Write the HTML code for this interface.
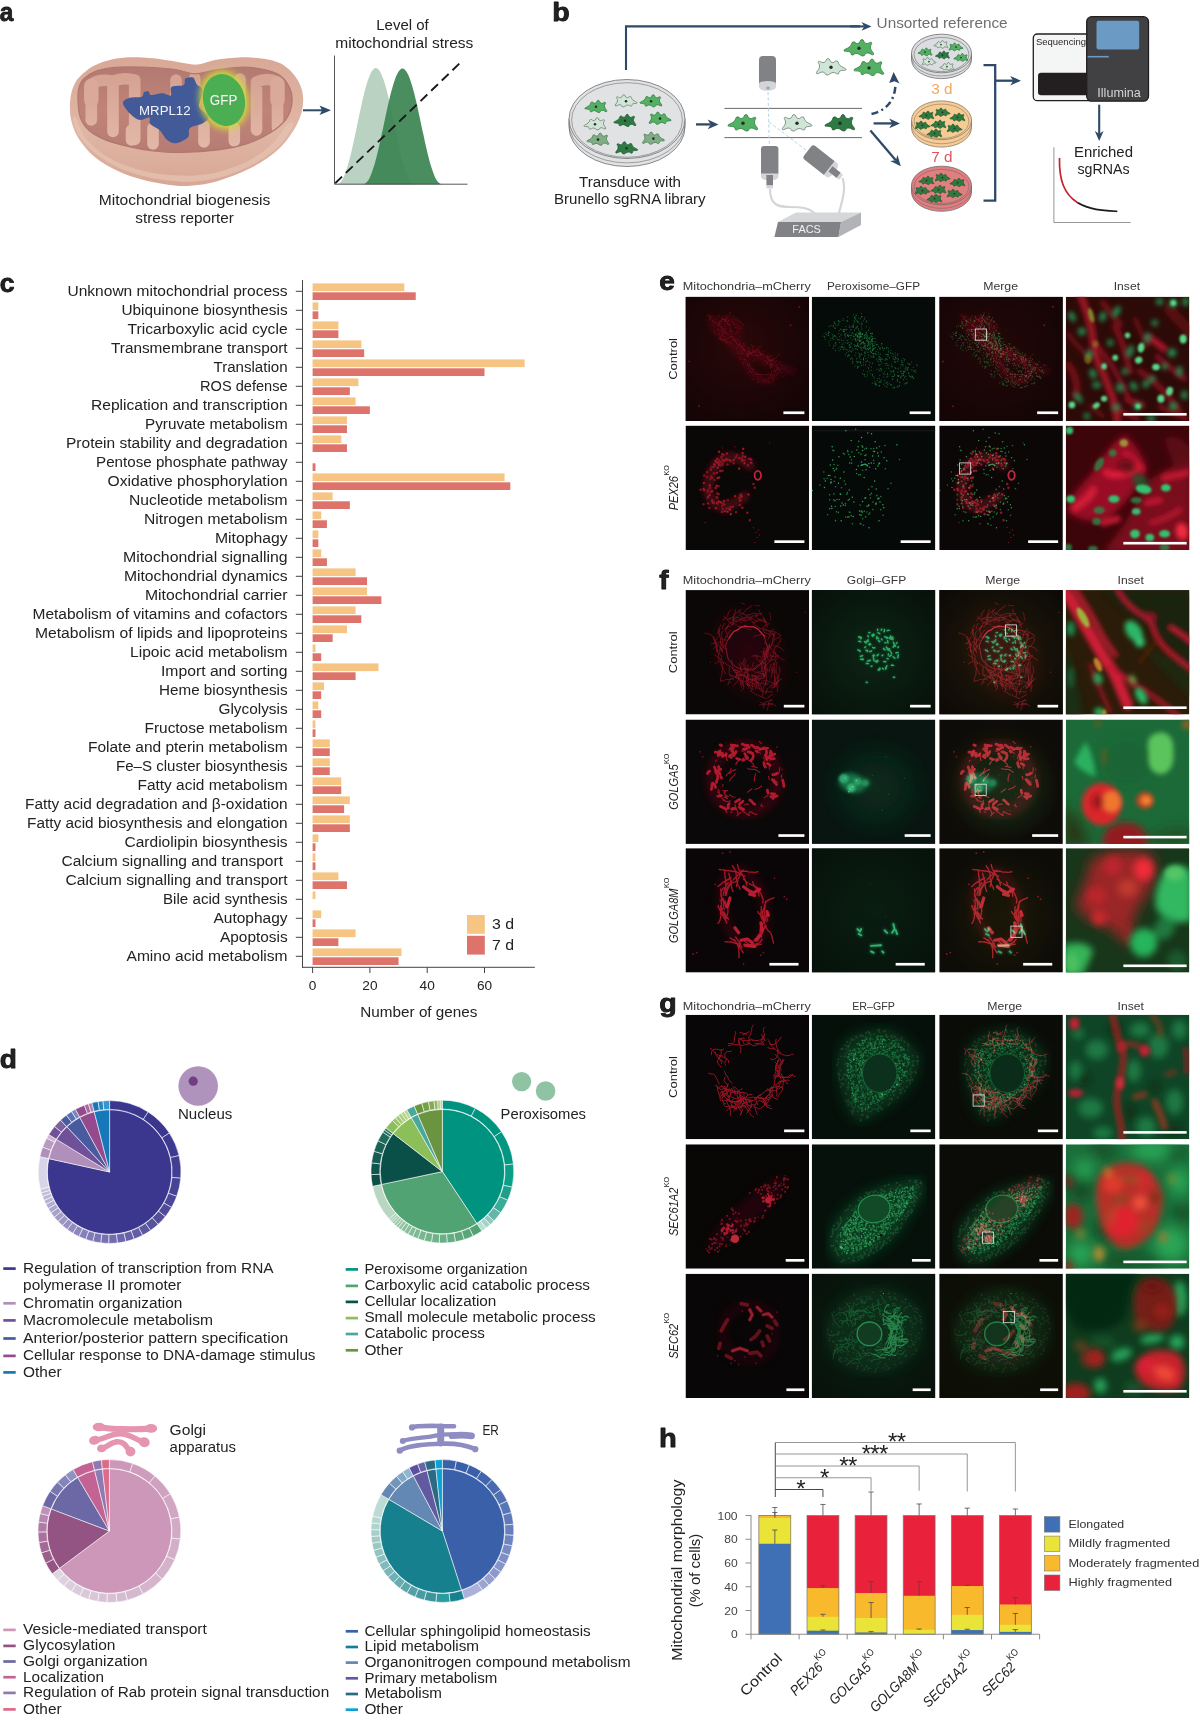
<!DOCTYPE html>
<html><head><meta charset="utf-8"><title>Figure</title>
<style>
html,body{margin:0;padding:0;background:#fff;}
body{width:1200px;height:1720px;overflow:hidden;font-family:"Liberation Sans",sans-serif;}
svg{display:block;}
text{font-family:"Liberation Sans",sans-serif;fill:#222;}
.b{font-weight:bold;fill:#111;}
.i{font-style:italic;}
</style></head><body>
<svg width="1200" height="1720" viewBox="0 0 1200 1720">
<g id="panel-c">
<text transform="translate(-0.3,292) scale(1.02,1)" font-size="26" font-weight="bold" fill="#111" stroke="#111" stroke-width="0.8" stroke-linejoin="round">c</text>
<text x="287.60" y="295.90" font-size="14" textLength="220.1" lengthAdjust="spacingAndGlyphs" text-anchor="end">Unknown mitochondrial process</text>
<line x1="295.80" y1="291.30" x2="302.50" y2="291.30" stroke="#444" stroke-width="1"/>
<rect x="312.60" y="283.40" width="91.68" height="7.70" fill="#f6c483"/>
<rect x="312.60" y="292.30" width="103.14" height="7.70" fill="#dd736b"/>
<text x="287.60" y="314.90" font-size="14" textLength="166.1" lengthAdjust="spacingAndGlyphs" text-anchor="end">Ubiquinone biosynthesis</text>
<line x1="295.80" y1="310.30" x2="302.50" y2="310.30" stroke="#444" stroke-width="1"/>
<rect x="312.60" y="302.40" width="5.73" height="7.70" fill="#f6c483"/>
<rect x="312.60" y="311.30" width="5.73" height="7.70" fill="#dd736b"/>
<text x="287.60" y="333.90" font-size="14" textLength="160.1" lengthAdjust="spacingAndGlyphs" text-anchor="end">Tricarboxylic acid cycle</text>
<line x1="295.80" y1="329.30" x2="302.50" y2="329.30" stroke="#444" stroke-width="1"/>
<rect x="312.60" y="321.40" width="25.79" height="7.70" fill="#f6c483"/>
<rect x="312.60" y="330.30" width="25.79" height="7.70" fill="#dd736b"/>
<text x="287.60" y="352.90" font-size="14" textLength="176.6" lengthAdjust="spacingAndGlyphs" text-anchor="end">Transmembrane transport</text>
<line x1="295.80" y1="348.30" x2="302.50" y2="348.30" stroke="#444" stroke-width="1"/>
<rect x="312.60" y="340.40" width="48.71" height="7.70" fill="#f6c483"/>
<rect x="312.60" y="349.30" width="51.57" height="7.70" fill="#dd736b"/>
<text x="287.60" y="371.90" font-size="14" textLength="74.1" lengthAdjust="spacingAndGlyphs" text-anchor="end">Translation</text>
<line x1="295.80" y1="367.30" x2="302.50" y2="367.30" stroke="#444" stroke-width="1"/>
<rect x="312.60" y="359.40" width="212.01" height="7.70" fill="#f6c483"/>
<rect x="312.60" y="368.30" width="171.90" height="7.70" fill="#dd736b"/>
<text x="287.60" y="390.90" font-size="14" textLength="87.6" lengthAdjust="spacingAndGlyphs" text-anchor="end">ROS defense</text>
<line x1="295.80" y1="386.30" x2="302.50" y2="386.30" stroke="#444" stroke-width="1"/>
<rect x="312.60" y="378.40" width="45.84" height="7.70" fill="#f6c483"/>
<rect x="312.60" y="387.30" width="37.25" height="7.70" fill="#dd736b"/>
<text x="287.60" y="409.90" font-size="14" textLength="196.6" lengthAdjust="spacingAndGlyphs" text-anchor="end">Replication and transcription</text>
<line x1="295.80" y1="405.30" x2="302.50" y2="405.30" stroke="#444" stroke-width="1"/>
<rect x="312.60" y="397.40" width="42.98" height="7.70" fill="#f6c483"/>
<rect x="312.60" y="406.30" width="57.30" height="7.70" fill="#dd736b"/>
<text x="287.60" y="428.90" font-size="14" textLength="142.6" lengthAdjust="spacingAndGlyphs" text-anchor="end">Pyruvate metabolism</text>
<line x1="295.80" y1="424.30" x2="302.50" y2="424.30" stroke="#444" stroke-width="1"/>
<rect x="312.60" y="416.40" width="34.38" height="7.70" fill="#f6c483"/>
<rect x="312.60" y="425.30" width="34.38" height="7.70" fill="#dd736b"/>
<text x="287.60" y="447.90" font-size="14" textLength="221.6" lengthAdjust="spacingAndGlyphs" text-anchor="end">Protein stability and degradation</text>
<line x1="295.80" y1="443.30" x2="302.50" y2="443.30" stroke="#444" stroke-width="1"/>
<rect x="312.60" y="435.40" width="28.65" height="7.70" fill="#f6c483"/>
<rect x="312.60" y="444.30" width="34.38" height="7.70" fill="#dd736b"/>
<text x="287.60" y="466.90" font-size="14" textLength="191.6" lengthAdjust="spacingAndGlyphs" text-anchor="end">Pentose phosphate pathway</text>
<line x1="295.80" y1="462.30" x2="302.50" y2="462.30" stroke="#444" stroke-width="1"/>
<rect x="312.60" y="463.30" width="2.87" height="7.70" fill="#dd736b"/>
<text x="287.60" y="485.90" font-size="14" textLength="180.1" lengthAdjust="spacingAndGlyphs" text-anchor="end">Oxidative phosphorylation</text>
<line x1="295.80" y1="481.30" x2="302.50" y2="481.30" stroke="#444" stroke-width="1"/>
<rect x="312.60" y="473.40" width="191.96" height="7.70" fill="#f6c483"/>
<rect x="312.60" y="482.30" width="197.69" height="7.70" fill="#dd736b"/>
<text x="287.60" y="504.90" font-size="14" textLength="158.6" lengthAdjust="spacingAndGlyphs" text-anchor="end">Nucleotide metabolism</text>
<line x1="295.80" y1="500.30" x2="302.50" y2="500.30" stroke="#444" stroke-width="1"/>
<rect x="312.60" y="492.40" width="20.05" height="7.70" fill="#f6c483"/>
<rect x="312.60" y="501.30" width="37.25" height="7.70" fill="#dd736b"/>
<text x="287.60" y="523.90" font-size="14" textLength="143.6" lengthAdjust="spacingAndGlyphs" text-anchor="end">Nitrogen metabolism</text>
<line x1="295.80" y1="519.30" x2="302.50" y2="519.30" stroke="#444" stroke-width="1"/>
<rect x="312.60" y="511.40" width="8.60" height="7.70" fill="#f6c483"/>
<rect x="312.60" y="520.30" width="14.33" height="7.70" fill="#dd736b"/>
<text x="287.60" y="542.90" font-size="14" textLength="72.6" lengthAdjust="spacingAndGlyphs" text-anchor="end">Mitophagy</text>
<line x1="295.80" y1="538.30" x2="302.50" y2="538.30" stroke="#444" stroke-width="1"/>
<rect x="312.60" y="530.40" width="5.73" height="7.70" fill="#f6c483"/>
<rect x="312.60" y="539.30" width="5.73" height="7.70" fill="#dd736b"/>
<text x="287.60" y="561.90" font-size="14" textLength="164.6" lengthAdjust="spacingAndGlyphs" text-anchor="end">Mitochondrial signalling</text>
<line x1="295.80" y1="557.30" x2="302.50" y2="557.30" stroke="#444" stroke-width="1"/>
<rect x="312.60" y="549.40" width="8.60" height="7.70" fill="#f6c483"/>
<rect x="312.60" y="558.30" width="14.33" height="7.70" fill="#dd736b"/>
<text x="287.60" y="580.90" font-size="14" textLength="163.6" lengthAdjust="spacingAndGlyphs" text-anchor="end">Mitochondrial dynamics</text>
<line x1="295.80" y1="576.30" x2="302.50" y2="576.30" stroke="#444" stroke-width="1"/>
<rect x="312.60" y="568.40" width="42.98" height="7.70" fill="#f6c483"/>
<rect x="312.60" y="577.30" width="54.44" height="7.70" fill="#dd736b"/>
<text x="287.60" y="599.90" font-size="14" textLength="142.6" lengthAdjust="spacingAndGlyphs" text-anchor="end">Mitochondrial carrier</text>
<line x1="295.80" y1="595.30" x2="302.50" y2="595.30" stroke="#444" stroke-width="1"/>
<rect x="312.60" y="587.40" width="54.44" height="7.70" fill="#f6c483"/>
<rect x="312.60" y="596.30" width="68.76" height="7.70" fill="#dd736b"/>
<text x="287.60" y="618.90" font-size="14" textLength="255.1" lengthAdjust="spacingAndGlyphs" text-anchor="end">Metabolism of vitamins and cofactors</text>
<line x1="295.80" y1="614.30" x2="302.50" y2="614.30" stroke="#444" stroke-width="1"/>
<rect x="312.60" y="606.40" width="42.98" height="7.70" fill="#f6c483"/>
<rect x="312.60" y="615.30" width="48.71" height="7.70" fill="#dd736b"/>
<text x="287.60" y="637.90" font-size="14" textLength="252.6" lengthAdjust="spacingAndGlyphs" text-anchor="end">Metabolism of lipids and lipoproteins</text>
<line x1="295.80" y1="633.30" x2="302.50" y2="633.30" stroke="#444" stroke-width="1"/>
<rect x="312.60" y="625.40" width="34.38" height="7.70" fill="#f6c483"/>
<rect x="312.60" y="634.30" width="20.05" height="7.70" fill="#dd736b"/>
<text x="287.60" y="656.90" font-size="14" textLength="157.6" lengthAdjust="spacingAndGlyphs" text-anchor="end">Lipoic acid metabolism</text>
<line x1="295.80" y1="652.30" x2="302.50" y2="652.30" stroke="#444" stroke-width="1"/>
<rect x="312.60" y="644.40" width="2.87" height="7.70" fill="#f6c483"/>
<rect x="312.60" y="653.30" width="8.60" height="7.70" fill="#dd736b"/>
<text x="287.60" y="675.90" font-size="14" textLength="126.6" lengthAdjust="spacingAndGlyphs" text-anchor="end">Import and sorting</text>
<line x1="295.80" y1="671.30" x2="302.50" y2="671.30" stroke="#444" stroke-width="1"/>
<rect x="312.60" y="663.40" width="65.90" height="7.70" fill="#f6c483"/>
<rect x="312.60" y="672.30" width="42.98" height="7.70" fill="#dd736b"/>
<text x="287.60" y="694.90" font-size="14" textLength="128.6" lengthAdjust="spacingAndGlyphs" text-anchor="end">Heme biosynthesis</text>
<line x1="295.80" y1="690.30" x2="302.50" y2="690.30" stroke="#444" stroke-width="1"/>
<rect x="312.60" y="682.40" width="11.46" height="7.70" fill="#f6c483"/>
<rect x="312.60" y="691.30" width="8.60" height="7.70" fill="#dd736b"/>
<text x="287.60" y="713.90" font-size="14" textLength="69.1" lengthAdjust="spacingAndGlyphs" text-anchor="end">Glycolysis</text>
<line x1="295.80" y1="709.30" x2="302.50" y2="709.30" stroke="#444" stroke-width="1"/>
<rect x="312.60" y="701.40" width="5.73" height="7.70" fill="#f6c483"/>
<rect x="312.60" y="710.30" width="8.60" height="7.70" fill="#dd736b"/>
<text x="287.60" y="732.90" font-size="14" textLength="143.1" lengthAdjust="spacingAndGlyphs" text-anchor="end">Fructose metabolism</text>
<line x1="295.80" y1="728.30" x2="302.50" y2="728.30" stroke="#444" stroke-width="1"/>
<rect x="312.60" y="720.40" width="2.87" height="7.70" fill="#f6c483"/>
<rect x="312.60" y="729.30" width="2.87" height="7.70" fill="#dd736b"/>
<text x="287.60" y="751.90" font-size="14" textLength="199.6" lengthAdjust="spacingAndGlyphs" text-anchor="end">Folate and pterin metabolism</text>
<line x1="295.80" y1="747.30" x2="302.50" y2="747.30" stroke="#444" stroke-width="1"/>
<rect x="312.60" y="739.40" width="17.19" height="7.70" fill="#f6c483"/>
<rect x="312.60" y="748.30" width="17.19" height="7.70" fill="#dd736b"/>
<text x="287.60" y="770.90" font-size="14" textLength="171.6" lengthAdjust="spacingAndGlyphs" text-anchor="end">Fe–S cluster biosynthesis</text>
<line x1="295.80" y1="766.30" x2="302.50" y2="766.30" stroke="#444" stroke-width="1"/>
<rect x="312.60" y="758.40" width="17.19" height="7.70" fill="#f6c483"/>
<rect x="312.60" y="767.30" width="17.19" height="7.70" fill="#dd736b"/>
<text x="287.60" y="789.90" font-size="14" textLength="150.1" lengthAdjust="spacingAndGlyphs" text-anchor="end">Fatty acid metabolism</text>
<line x1="295.80" y1="785.30" x2="302.50" y2="785.30" stroke="#444" stroke-width="1"/>
<rect x="312.60" y="777.40" width="28.65" height="7.70" fill="#f6c483"/>
<rect x="312.60" y="786.30" width="28.65" height="7.70" fill="#dd736b"/>
<text x="287.60" y="808.90" font-size="14" textLength="262.6" lengthAdjust="spacingAndGlyphs" text-anchor="end">Fatty acid degradation and β-oxidation</text>
<line x1="295.80" y1="804.30" x2="302.50" y2="804.30" stroke="#444" stroke-width="1"/>
<rect x="312.60" y="796.40" width="37.25" height="7.70" fill="#f6c483"/>
<rect x="312.60" y="805.30" width="31.52" height="7.70" fill="#dd736b"/>
<text x="287.60" y="827.90" font-size="14" textLength="260.6" lengthAdjust="spacingAndGlyphs" text-anchor="end">Fatty acid biosynthesis and elongation</text>
<line x1="295.80" y1="823.30" x2="302.50" y2="823.30" stroke="#444" stroke-width="1"/>
<rect x="312.60" y="815.40" width="37.25" height="7.70" fill="#f6c483"/>
<rect x="312.60" y="824.30" width="37.25" height="7.70" fill="#dd736b"/>
<text x="287.60" y="846.90" font-size="14" textLength="163.1" lengthAdjust="spacingAndGlyphs" text-anchor="end">Cardiolipin biosynthesis</text>
<line x1="295.80" y1="842.30" x2="302.50" y2="842.30" stroke="#444" stroke-width="1"/>
<rect x="312.60" y="834.40" width="5.73" height="7.70" fill="#f6c483"/>
<rect x="312.60" y="843.30" width="2.87" height="7.70" fill="#dd736b"/>
<text x="283.00" y="865.90" font-size="14" textLength="221.5" lengthAdjust="spacingAndGlyphs" text-anchor="end">Calcium signalling and transport</text>
<line x1="295.80" y1="861.30" x2="302.50" y2="861.30" stroke="#444" stroke-width="1"/>
<rect x="312.60" y="853.40" width="2.87" height="7.70" fill="#f6c483"/>
<rect x="312.60" y="862.30" width="2.87" height="7.70" fill="#dd736b"/>
<text x="287.60" y="884.90" font-size="14" textLength="222.1" lengthAdjust="spacingAndGlyphs" text-anchor="end">Calcium signalling and transport</text>
<line x1="295.80" y1="880.30" x2="302.50" y2="880.30" stroke="#444" stroke-width="1"/>
<rect x="312.60" y="872.40" width="25.79" height="7.70" fill="#f6c483"/>
<rect x="312.60" y="881.30" width="34.38" height="7.70" fill="#dd736b"/>
<text x="287.60" y="903.90" font-size="14" textLength="124.6" lengthAdjust="spacingAndGlyphs" text-anchor="end">Bile acid synthesis</text>
<line x1="295.80" y1="899.30" x2="302.50" y2="899.30" stroke="#444" stroke-width="1"/>
<rect x="312.60" y="891.40" width="2.87" height="7.70" fill="#f6c483"/>
<text x="287.60" y="922.90" font-size="14" textLength="74.1" lengthAdjust="spacingAndGlyphs" text-anchor="end">Autophagy</text>
<line x1="295.80" y1="918.30" x2="302.50" y2="918.30" stroke="#444" stroke-width="1"/>
<rect x="312.60" y="910.40" width="8.60" height="7.70" fill="#f6c483"/>
<rect x="312.60" y="919.30" width="2.87" height="7.70" fill="#dd736b"/>
<text x="287.60" y="941.90" font-size="14" textLength="67.6" lengthAdjust="spacingAndGlyphs" text-anchor="end">Apoptosis</text>
<line x1="295.80" y1="937.30" x2="302.50" y2="937.30" stroke="#444" stroke-width="1"/>
<rect x="312.60" y="929.40" width="42.98" height="7.70" fill="#f6c483"/>
<rect x="312.60" y="938.30" width="25.79" height="7.70" fill="#dd736b"/>
<text x="287.60" y="960.90" font-size="14" textLength="161.1" lengthAdjust="spacingAndGlyphs" text-anchor="end">Amino acid metabolism</text>
<line x1="295.80" y1="956.30" x2="302.50" y2="956.30" stroke="#444" stroke-width="1"/>
<rect x="312.60" y="948.40" width="88.82" height="7.70" fill="#f6c483"/>
<rect x="312.60" y="957.30" width="85.95" height="7.70" fill="#dd736b"/>
<line x1="302.50" y1="280.00" x2="302.50" y2="967.80" stroke="#444" stroke-width="1"/>
<line x1="302.00" y1="967.30" x2="534.80" y2="967.30" stroke="#444" stroke-width="1"/>
<line x1="312.60" y1="967.30" x2="312.60" y2="973.00" stroke="#444" stroke-width="1"/>
<text transform="translate(312.60,990.30) scale(1.095,1)" font-size="12.5" text-anchor="middle">0</text>
<line x1="369.90" y1="967.30" x2="369.90" y2="973.00" stroke="#444" stroke-width="1"/>
<text transform="translate(369.90,990.30) scale(1.095,1)" font-size="12.5" text-anchor="middle">20</text>
<line x1="427.20" y1="967.30" x2="427.20" y2="973.00" stroke="#444" stroke-width="1"/>
<text transform="translate(427.20,990.30) scale(1.095,1)" font-size="12.5" text-anchor="middle">40</text>
<line x1="484.50" y1="967.30" x2="484.50" y2="973.00" stroke="#444" stroke-width="1"/>
<text transform="translate(484.50,990.30) scale(1.095,1)" font-size="12.5" text-anchor="middle">60</text>
<text x="418.90" y="1017.00" font-size="14.5" textLength="117.1" lengthAdjust="spacingAndGlyphs" text-anchor="middle">Number of genes</text>
<rect x="467.00" y="915.00" width="17.80" height="18.80" fill="#f6c483"/>
<rect x="467.00" y="935.80" width="17.80" height="18.80" fill="#dd736b"/>
<text transform="translate(492.00,929.30) scale(1.095,1)" font-size="14.5">3 d</text>
<text transform="translate(492.00,950.30) scale(1.095,1)" font-size="14.5">7 d</text>
</g>
<g id="panel-a">
<text transform="translate(-0.3,21.3) scale(0.94,1)" font-size="26" font-weight="bold" fill="#111" stroke="#111" stroke-width="0.8" stroke-linejoin="round">a</text>
<defs><linearGradient id="mo" x1="0" y1="0" x2="0" y2="1"><stop offset="0" stop-color="#d9a897"/><stop offset="0.55" stop-color="#e0b6a4"/><stop offset="1" stop-color="#d8a796"/></linearGradient><linearGradient id="mi" x1="0" y1="0" x2="0" y2="1"><stop offset="0" stop-color="#b27a72"/><stop offset="0.5" stop-color="#c08378"/><stop offset="1" stop-color="#b67c73"/></linearGradient><linearGradient id="mc" x1="0" y1="0" x2="0" y2="1"><stop offset="0" stop-color="#d6a393"/><stop offset="1" stop-color="#e2b7a6"/></linearGradient><filter id="ab3" x="-40%" y="-40%" width="180%" height="180%"><feGaussianBlur stdDeviation="3.2"/></filter><clipPath id="mclip"><path id="mmat" d=""/></clipPath></defs>
<path d="M69.9,108.3C69.8,103.6 70.2,98.6 71.1,94.3C72.0,90.0 73.2,86.2 75.2,82.7C77.2,79.2 80.0,76.2 83.3,73.3C86.6,70.4 90.1,67.5 95.0,65.2C99.9,62.9 106.7,60.6 112.5,59.3C118.3,58.0 123.2,57.4 130.0,57.2C136.8,57.0 145.5,57.5 153.3,58.2C161.1,59.0 169.4,60.6 176.7,61.7C184.0,62.8 190.1,64.9 197.0,64.6C203.9,64.2 209.1,60.8 218.0,59.6C226.9,58.4 240.4,56.9 250.7,57.5C261.0,58.1 271.9,59.3 279.8,63.1C287.7,66.9 293.9,73.9 297.8,80.2C301.7,86.5 303.4,93.8 303.2,101.2C303.0,108.6 301.0,116.5 296.9,124.5C292.8,132.5 286.4,141.7 278.7,149.0C271.0,156.3 260.8,162.8 250.7,168.1C240.6,173.4 228.4,178.0 218.0,181.0C207.6,184.0 197.1,185.4 188.3,185.9C179.5,186.4 172.8,185.3 165.0,184.2C157.2,183.1 149.5,181.7 141.7,179.5C133.9,177.3 126.1,175.0 118.3,171.3C110.5,167.6 101.6,162.7 95.0,157.3C88.4,151.9 82.6,144.5 78.7,138.7C74.8,132.9 73.2,127.4 71.7,122.3C70.2,117.2 70.0,113.0 69.9,108.3Z" fill="url(#mo)"/>
<path d="M76.0,118.0C77.8,120.5 80.0,130.3 84.0,136.0C88.0,141.7 93.7,147.3 100.0,152.0C106.3,156.7 114.3,160.8 122.0,164.0C129.7,167.2 138.0,169.7 146.0,171.5C154.0,173.3 161.7,174.3 170.0,175.0C178.3,175.7 187.3,176.2 196.0,175.5C204.7,174.8 213.0,173.6 222.0,171.0C231.0,168.4 241.7,164.5 250.0,160.0C258.3,155.5 265.7,150.0 272.0,144.0C278.3,138.0 284.5,127.0 288.0,124.0C291.5,121.0 294.7,122.2 293.0,126.0C291.3,129.8 284.8,140.5 278.0,147.0C271.2,153.5 261.3,160.0 252.0,165.0C242.7,170.0 231.7,174.2 222.0,177.0C212.3,179.8 203.0,180.9 194.0,181.5C185.0,182.1 176.5,181.4 168.0,180.5C159.5,179.6 151.3,178.2 143.0,176.0C134.7,173.8 125.8,171.2 118.0,167.5C110.2,163.8 102.3,159.1 96.0,154.0C89.7,148.9 83.8,142.5 80.0,137.0C76.2,131.5 73.7,124.2 73.0,121.0C72.3,117.8 74.2,115.5 76.0,118.0Z" fill="#e6c3b1" opacity="0.75"/>
<path d="M78.1,102.5C77.8,97.6 77.8,92.4 78.7,88.5C79.6,84.6 80.6,82.0 83.3,79.2C86.0,76.4 90.1,73.5 95.0,71.6C99.9,69.7 106.7,68.5 112.5,67.7C118.3,66.9 123.2,66.9 130.0,66.9C136.8,66.9 145.5,67.0 153.3,67.5C161.1,68.0 169.8,68.8 176.7,69.8C183.6,70.8 188.1,73.8 195.0,73.8C201.9,73.8 209.1,70.8 218.0,69.7C226.9,68.6 238.6,66.7 248.3,67.3C258.0,67.9 269.5,70.2 276.3,73.4C283.1,76.6 286.4,81.6 289.0,86.5C291.6,91.4 292.5,97.4 292.0,102.8C291.5,108.2 289.8,114.0 286.1,119.1C282.4,124.1 276.4,129.0 269.8,133.1C263.2,137.2 255.1,141.1 246.5,143.9C237.9,146.7 229.0,148.5 218.0,149.9C207.0,151.3 191.5,152.3 180.7,152.5C169.9,152.7 161.8,151.8 153.3,150.9C144.9,150.0 137.8,148.6 130.0,146.8C122.2,145.1 113.5,143.1 106.7,140.4C99.9,137.7 93.6,134.3 89.2,130.5C84.8,126.7 82.2,122.4 80.4,117.7C78.6,113.0 78.4,107.4 78.1,102.5Z" fill="url(#mi)"/>
<clipPath id="mcl"><path d="M78.1,102.5C77.8,97.6 77.8,92.4 78.7,88.5C79.6,84.6 80.6,82.0 83.3,79.2C86.0,76.4 90.1,73.5 95.0,71.6C99.9,69.7 106.7,68.5 112.5,67.7C118.3,66.9 123.2,66.9 130.0,66.9C136.8,66.9 145.5,67.0 153.3,67.5C161.1,68.0 169.8,68.8 176.7,69.8C183.6,70.8 188.1,73.8 195.0,73.8C201.9,73.8 209.1,70.8 218.0,69.7C226.9,68.6 238.6,66.7 248.3,67.3C258.0,67.9 269.5,70.2 276.3,73.4C283.1,76.6 286.4,81.6 289.0,86.5C291.6,91.4 292.5,97.4 292.0,102.8C291.5,108.2 289.8,114.0 286.1,119.1C282.4,124.1 276.4,129.0 269.8,133.1C263.2,137.2 255.1,141.1 246.5,143.9C237.9,146.7 229.0,148.5 218.0,149.9C207.0,151.3 191.5,152.3 180.7,152.5C169.9,152.7 161.8,151.8 153.3,150.9C144.9,150.0 137.8,148.6 130.0,146.8C122.2,145.1 113.5,143.1 106.7,140.4C99.9,137.7 93.6,134.3 89.2,130.5C84.8,126.7 82.2,122.4 80.4,117.7C78.6,113.0 78.4,107.4 78.1,102.5Z"/></clipPath>
<g clip-path="url(#mcl)"><path d="M91.3,120V86M91.3,84.5Q100,78 113,81.5V131.5M113,81Q124,77 134.7,80V139.5M153,144V128M131.5,140V130M176,80V100M194.7,78V104M204,142V126M234.3,141V128M218,80V110M240,79V100M256.5,130V82Q267,77 277.5,82V128" fill="none" stroke="url(#mc)" stroke-width="11.6" stroke-linecap="round" stroke-linejoin="round"/><path d="M91.3,100V86M277.5,100V84" fill="none" stroke="#dba999" stroke-width="14.5" stroke-linecap="round"/></g>
<path d="M78.1,102.5C77.8,97.6 77.8,92.4 78.7,88.5C79.6,84.6 80.6,82.0 83.3,79.2C86.0,76.4 90.1,73.5 95.0,71.6C99.9,69.7 106.7,68.5 112.5,67.7C118.3,66.9 123.2,66.9 130.0,66.9C136.8,66.9 145.5,67.0 153.3,67.5C161.1,68.0 169.8,68.8 176.7,69.8C183.6,70.8 188.1,73.8 195.0,73.8C201.9,73.8 209.1,70.8 218.0,69.7C226.9,68.6 238.6,66.7 248.3,67.3C258.0,67.9 269.5,70.2 276.3,73.4C283.1,76.6 286.4,81.6 289.0,86.5C291.6,91.4 292.5,97.4 292.0,102.8C291.5,108.2 289.8,114.0 286.1,119.1C282.4,124.1 276.4,129.0 269.8,133.1C263.2,137.2 255.1,141.1 246.5,143.9C237.9,146.7 229.0,148.5 218.0,149.9C207.0,151.3 191.5,152.3 180.7,152.5C169.9,152.7 161.8,151.8 153.3,150.9C144.9,150.0 137.8,148.6 130.0,146.8C122.2,145.1 113.5,143.1 106.7,140.4C99.9,137.7 93.6,134.3 89.2,130.5C84.8,126.7 82.2,122.4 80.4,117.7C78.6,113.0 78.4,107.4 78.1,102.5Z" fill="none" stroke="#b0776f" stroke-width="1.2"/>
<path d="M123.0,102.5C123.3,100.2 126.9,98.8 130.0,97.8C133.1,96.8 139.4,97.7 141.7,96.7C144.0,95.7 142.8,92.9 144.0,92.0C145.2,91.1 147.5,90.9 148.7,91.4C149.9,91.9 148.7,94.6 151.0,94.9C153.3,95.2 159.4,93.1 162.7,93.2C166.0,93.3 169.3,96.5 170.8,95.5C172.3,94.5 169.3,88.8 171.5,87.0C173.7,85.2 181.4,86.4 183.7,85.0C186.0,83.6 183.8,79.8 185.4,78.6C187.0,77.4 191.2,76.7 193.0,77.6C194.8,78.5 194.9,81.8 196.5,84.0C198.1,86.2 202.3,86.9 202.8,90.7C203.3,94.5 198.3,102.7 199.3,107.0C200.3,111.3 208.1,113.6 208.7,116.3C209.3,119.0 205.9,121.3 202.8,123.3C199.7,125.2 192.5,125.7 190.0,128.0C187.5,130.3 190.3,134.8 188.0,137.3C185.7,139.8 179.6,142.8 176.0,143.2C172.4,143.6 169.4,141.8 166.7,139.7C164.0,137.5 162.4,132.9 159.7,130.3C157.0,127.7 152.1,126.1 150.3,124.0C148.6,121.9 151.1,118.2 149.2,117.5C147.3,116.8 142.2,120.8 138.7,119.8C135.2,118.8 130.8,114.6 128.2,111.7C125.6,108.8 122.7,104.8 123.0,102.5Z" fill="#425a98"/>
<g filter="url(#ab3)"><ellipse cx="224" cy="100" rx="24.5" ry="30" fill="#cfdc3c" opacity="0.9" transform="rotate(-14 224 100)"/></g>
<ellipse cx="224" cy="100" rx="20.8" ry="26.3" fill="#4cae52" transform="rotate(-14 224 100)"/>
<text x="164.80" y="114.60" font-size="13.2" textLength="51.5" lengthAdjust="spacingAndGlyphs" text-anchor="middle" style="fill:#f4f4f8">MRPL12</text>
<text x="223.60" y="105.00" font-size="14" textLength="27.5" lengthAdjust="spacingAndGlyphs" text-anchor="middle" style="fill:#f4f8f4">GFP</text>
<text x="184.60" y="205.00" font-size="14" textLength="171.5" lengthAdjust="spacingAndGlyphs" text-anchor="middle">Mitochondrial biogenesis</text>
<text x="184.60" y="222.50" font-size="14" textLength="98.5" lengthAdjust="spacingAndGlyphs" text-anchor="middle">stress reporter</text>
<line x1="303.00" y1="110.30" x2="324.00" y2="110.30" stroke="#2f4a68" stroke-width="2.0"/>
<path d="M331,110.3L319.5,105.5L322.2,110.3L319.5,115.1Z" fill="#2f4a68"/>
<path d="M336.8,184.2L338.1,184.0L339.4,183.3L340.7,182.1L342.0,180.3L343.3,177.9L344.6,175.0L345.9,171.5L347.2,167.6L348.5,163.1L349.8,158.2L351.1,152.9L352.4,147.3L353.7,141.5L355.0,135.4L356.3,129.2L357.6,123.0L358.9,116.8L360.2,110.7L361.5,104.7L362.8,99.0L364.1,93.6L365.4,88.6L366.7,84.0L368.0,79.9L369.3,76.4L370.6,73.4L371.9,71.1L373.2,69.4L374.5,68.3L375.8,68.0L377.1,68.3L378.4,69.4L379.7,71.1L381.0,73.4L382.3,76.4L383.6,79.9L384.9,84.0L386.2,88.6L387.5,93.6L388.8,99.0L390.1,104.7L391.4,110.7L392.7,116.8L394.0,123.0L395.3,129.2L396.6,135.4L397.9,141.5L399.2,147.3L400.5,152.9L401.8,158.2L403.1,163.1L404.4,167.6L405.7,171.5L407.0,175.0L408.3,177.9L409.6,180.3L410.9,182.1L412.2,183.3L413.5,184.0L414.8,184.2Z" fill="#b9d2c2"/>
<path d="M363.0,184.2L364.3,184.0L365.6,183.3L366.9,182.1L368.3,180.3L369.6,178.0L370.9,175.0L372.2,171.6L373.5,167.6L374.9,163.2L376.2,158.3L377.5,153.1L378.8,147.5L380.1,141.7L381.4,135.6L382.8,129.5L384.1,123.3L385.4,117.1L386.7,111.0L388.0,105.1L389.3,99.4L390.6,94.0L392.0,89.0L393.3,84.5L394.6,80.4L395.9,76.8L397.2,73.9L398.6,71.6L399.9,69.9L401.2,68.8L402.5,68.5L403.8,68.8L405.1,69.9L406.4,71.6L407.8,73.9L409.1,76.8L410.4,80.4L411.7,84.5L413.0,89.0L414.4,94.0L415.7,99.4L417.0,105.1L418.3,111.0L419.6,117.1L420.9,123.3L422.2,129.5L423.6,135.6L424.9,141.7L426.2,147.5L427.5,153.1L428.8,158.3L430.1,163.2L431.5,167.6L432.8,171.6L434.1,175.0L435.4,178.0L436.7,180.3L438.1,182.1L439.4,183.3L440.7,184.0L442.0,184.2Z" fill="#3b8351" opacity="0.92"/>
<line x1="335.20" y1="183.20" x2="459.70" y2="63.30" stroke="#1a1a1a" stroke-width="1.9" stroke-dasharray="9.5 5.3"/>
<path d="M334.5,55.5V184.2H467.5" fill="none" stroke="#444" stroke-width="0.9"/>
<text x="402.50" y="30.00" font-size="14" textLength="52.4" lengthAdjust="spacingAndGlyphs" text-anchor="middle">Level of</text>
<text x="404.30" y="48.00" font-size="14" textLength="138.0" lengthAdjust="spacingAndGlyphs" text-anchor="middle">mitochondrial stress</text>
</g>
<g id="panel-b">
<text transform="translate(552.2,21.2) scale(1.12,1)" font-size="25.5" font-weight="bold" fill="#111" stroke="#111" stroke-width="0.8" stroke-linejoin="round">b</text>
<path d="M626,70V26.4H860" fill="none" stroke="#2f4a68" stroke-width="2.1"/>
<line x1="850.00" y1="26.40" x2="864.30" y2="26.40" stroke="#2f4a68" stroke-width="2.1"/><path d="M871.5,26.4L861.5,22.0L864.3,26.4L861.5,30.8Z" fill="#2f4a68"/>
<path d="M569,119V127A58,39.5 0 0 0 685,127V119Z" fill="#e1e2e4" stroke="#6f6f6f" stroke-width="0.8"/><ellipse cx="627" cy="123.4" rx="58" ry="39.5" fill="none" stroke="#6f6f6f" stroke-width="0.6"/><ellipse cx="627" cy="119" rx="58" ry="39.5" fill="#e1e2e4" stroke="#6f6f6f" stroke-width="0.8"/><ellipse cx="627" cy="120" rx="55.4" ry="37.3" fill="#e1e2e4" stroke="#6f6f6f" stroke-width="0.6"/>
<g transform="translate(596,106.6) rotate(0) scale(0.74,0.74)"><path d="M-15.0,2.5C-15.0,1.0 -11.5,0.9 -9.0,-1.5C-6.5,-3.9 -8.2,-5.2 -6.0,-6.0C-3.8,-6.8 -3.5,-3.8 -1.0,-4.5C1.5,-5.2 0.8,-8.5 3.0,-8.5C5.2,-8.5 4.4,-5.3 7.0,-4.5C9.6,-3.7 11.2,-6.8 12.5,-5.5C13.8,-4.2 10.9,-3.3 11.5,0.0C12.1,3.3 15.5,5.1 14.5,6.5C13.5,7.9 10.9,4.6 8.0,5.0C5.1,5.4 6.8,7.9 4.0,8.0C1.2,8.1 1.1,5.8 -2.0,5.5C-5.1,5.2 -5.1,7.4 -7.0,7.0C-8.9,6.6 -6.8,5.2 -9.0,4.0C-11.2,2.8 -15.0,4.0 -15.0,2.5Z" fill="#54b062" stroke="#2f7d40" stroke-width="1.08"/><circle cx="0" cy="0.3" r="1.7" fill="#2a2a2a"/></g>
<g transform="translate(626,101) rotate(0) scale(-0.74,0.74)"><path d="M-15.0,2.5C-15.0,1.0 -11.5,0.9 -9.0,-1.5C-6.5,-3.9 -8.2,-5.2 -6.0,-6.0C-3.8,-6.8 -3.5,-3.8 -1.0,-4.5C1.5,-5.2 0.8,-8.5 3.0,-8.5C5.2,-8.5 4.4,-5.3 7.0,-4.5C9.6,-3.7 11.2,-6.8 12.5,-5.5C13.8,-4.2 10.9,-3.3 11.5,0.0C12.1,3.3 15.5,5.1 14.5,6.5C13.5,7.9 10.9,4.6 8.0,5.0C5.1,5.4 6.8,7.9 4.0,8.0C1.2,8.1 1.1,5.8 -2.0,5.5C-5.1,5.2 -5.1,7.4 -7.0,7.0C-8.9,6.6 -6.8,5.2 -9.0,4.0C-11.2,2.8 -15.0,4.0 -15.0,2.5Z" fill="#cfe6d6" stroke="#6f7f74" stroke-width="1.08"/><circle cx="0" cy="0.3" r="1.7" fill="#2a2a2a"/></g>
<g transform="translate(651,101) rotate(0) scale(0.74,0.74)"><path d="M-15.0,2.5C-15.0,1.0 -11.5,0.9 -9.0,-1.5C-6.5,-3.9 -8.2,-5.2 -6.0,-6.0C-3.8,-6.8 -3.5,-3.8 -1.0,-4.5C1.5,-5.2 0.8,-8.5 3.0,-8.5C5.2,-8.5 4.4,-5.3 7.0,-4.5C9.6,-3.7 11.2,-6.8 12.5,-5.5C13.8,-4.2 10.9,-3.3 11.5,0.0C12.1,3.3 15.5,5.1 14.5,6.5C13.5,7.9 10.9,4.6 8.0,5.0C5.1,5.4 6.8,7.9 4.0,8.0C1.2,8.1 1.1,5.8 -2.0,5.5C-5.1,5.2 -5.1,7.4 -7.0,7.0C-8.9,6.6 -6.8,5.2 -9.0,4.0C-11.2,2.8 -15.0,4.0 -15.0,2.5Z" fill="#54b062" stroke="#2f7d40" stroke-width="1.08"/><circle cx="0" cy="0.3" r="1.7" fill="#2a2a2a"/></g>
<g transform="translate(595,124) rotate(0) scale(0.74,0.74)"><path d="M-15.0,2.5C-15.0,1.0 -11.5,0.9 -9.0,-1.5C-6.5,-3.9 -8.2,-5.2 -6.0,-6.0C-3.8,-6.8 -3.5,-3.8 -1.0,-4.5C1.5,-5.2 0.8,-8.5 3.0,-8.5C5.2,-8.5 4.4,-5.3 7.0,-4.5C9.6,-3.7 11.2,-6.8 12.5,-5.5C13.8,-4.2 10.9,-3.3 11.5,0.0C12.1,3.3 15.5,5.1 14.5,6.5C13.5,7.9 10.9,4.6 8.0,5.0C5.1,5.4 6.8,7.9 4.0,8.0C1.2,8.1 1.1,5.8 -2.0,5.5C-5.1,5.2 -5.1,7.4 -7.0,7.0C-8.9,6.6 -6.8,5.2 -9.0,4.0C-11.2,2.8 -15.0,4.0 -15.0,2.5Z" fill="#cfe6d6" stroke="#6f7f74" stroke-width="1.08"/><circle cx="0" cy="0.3" r="1.7" fill="#2a2a2a"/></g>
<g transform="translate(625,120.6) rotate(0) scale(0.74,0.74)"><path d="M-15.0,2.5C-15.0,1.0 -11.5,0.9 -9.0,-1.5C-6.5,-3.9 -8.2,-5.2 -6.0,-6.0C-3.8,-6.8 -3.5,-3.8 -1.0,-4.5C1.5,-5.2 0.8,-8.5 3.0,-8.5C5.2,-8.5 4.4,-5.3 7.0,-4.5C9.6,-3.7 11.2,-6.8 12.5,-5.5C13.8,-4.2 10.9,-3.3 11.5,0.0C12.1,3.3 15.5,5.1 14.5,6.5C13.5,7.9 10.9,4.6 8.0,5.0C5.1,5.4 6.8,7.9 4.0,8.0C1.2,8.1 1.1,5.8 -2.0,5.5C-5.1,5.2 -5.1,7.4 -7.0,7.0C-8.9,6.6 -6.8,5.2 -9.0,4.0C-11.2,2.8 -15.0,4.0 -15.0,2.5Z" fill="#2e7a45" stroke="#235c34" stroke-width="1.08"/><circle cx="0" cy="0.3" r="1.7" fill="#2a2a2a"/></g>
<g transform="translate(660,118.4) rotate(0) scale(-0.74,0.74)"><path d="M-15.0,2.5C-15.0,1.0 -11.5,0.9 -9.0,-1.5C-6.5,-3.9 -8.2,-5.2 -6.0,-6.0C-3.8,-6.8 -3.5,-3.8 -1.0,-4.5C1.5,-5.2 0.8,-8.5 3.0,-8.5C5.2,-8.5 4.4,-5.3 7.0,-4.5C9.6,-3.7 11.2,-6.8 12.5,-5.5C13.8,-4.2 10.9,-3.3 11.5,0.0C12.1,3.3 15.5,5.1 14.5,6.5C13.5,7.9 10.9,4.6 8.0,5.0C5.1,5.4 6.8,7.9 4.0,8.0C1.2,8.1 1.1,5.8 -2.0,5.5C-5.1,5.2 -5.1,7.4 -7.0,7.0C-8.9,6.6 -6.8,5.2 -9.0,4.0C-11.2,2.8 -15.0,4.0 -15.0,2.5Z" fill="#54b062" stroke="#2f7d40" stroke-width="1.08"/><circle cx="0" cy="0.3" r="1.7" fill="#2a2a2a"/></g>
<g transform="translate(598,139.4) rotate(0) scale(0.74,0.74)"><path d="M-15.0,2.5C-15.0,1.0 -11.5,0.9 -9.0,-1.5C-6.5,-3.9 -8.2,-5.2 -6.0,-6.0C-3.8,-6.8 -3.5,-3.8 -1.0,-4.5C1.5,-5.2 0.8,-8.5 3.0,-8.5C5.2,-8.5 4.4,-5.3 7.0,-4.5C9.6,-3.7 11.2,-6.8 12.5,-5.5C13.8,-4.2 10.9,-3.3 11.5,0.0C12.1,3.3 15.5,5.1 14.5,6.5C13.5,7.9 10.9,4.6 8.0,5.0C5.1,5.4 6.8,7.9 4.0,8.0C1.2,8.1 1.1,5.8 -2.0,5.5C-5.1,5.2 -5.1,7.4 -7.0,7.0C-8.9,6.6 -6.8,5.2 -9.0,4.0C-11.2,2.8 -15.0,4.0 -15.0,2.5Z" fill="#7fae84" stroke="#4f7a55" stroke-width="1.08"/><circle cx="0" cy="0.3" r="1.7" fill="#2a2a2a"/></g>
<g transform="translate(626.6,148) rotate(0) scale(-0.74,0.74)"><path d="M-15.0,2.5C-15.0,1.0 -11.5,0.9 -9.0,-1.5C-6.5,-3.9 -8.2,-5.2 -6.0,-6.0C-3.8,-6.8 -3.5,-3.8 -1.0,-4.5C1.5,-5.2 0.8,-8.5 3.0,-8.5C5.2,-8.5 4.4,-5.3 7.0,-4.5C9.6,-3.7 11.2,-6.8 12.5,-5.5C13.8,-4.2 10.9,-3.3 11.5,0.0C12.1,3.3 15.5,5.1 14.5,6.5C13.5,7.9 10.9,4.6 8.0,5.0C5.1,5.4 6.8,7.9 4.0,8.0C1.2,8.1 1.1,5.8 -2.0,5.5C-5.1,5.2 -5.1,7.4 -7.0,7.0C-8.9,6.6 -6.8,5.2 -9.0,4.0C-11.2,2.8 -15.0,4.0 -15.0,2.5Z" fill="#2e7a45" stroke="#235c34" stroke-width="1.08"/><circle cx="0" cy="0.3" r="1.7" fill="#2a2a2a"/></g>
<g transform="translate(653.4,138.4) rotate(0) scale(-0.74,0.74)"><path d="M-15.0,2.5C-15.0,1.0 -11.5,0.9 -9.0,-1.5C-6.5,-3.9 -8.2,-5.2 -6.0,-6.0C-3.8,-6.8 -3.5,-3.8 -1.0,-4.5C1.5,-5.2 0.8,-8.5 3.0,-8.5C5.2,-8.5 4.4,-5.3 7.0,-4.5C9.6,-3.7 11.2,-6.8 12.5,-5.5C13.8,-4.2 10.9,-3.3 11.5,0.0C12.1,3.3 15.5,5.1 14.5,6.5C13.5,7.9 10.9,4.6 8.0,5.0C5.1,5.4 6.8,7.9 4.0,8.0C1.2,8.1 1.1,5.8 -2.0,5.5C-5.1,5.2 -5.1,7.4 -7.0,7.0C-8.9,6.6 -6.8,5.2 -9.0,4.0C-11.2,2.8 -15.0,4.0 -15.0,2.5Z" fill="#7fae84" stroke="#4f7a55" stroke-width="1.08"/><circle cx="0" cy="0.3" r="1.7" fill="#2a2a2a"/></g>
<text x="630.00" y="187.00" font-size="14" textLength="102.0" lengthAdjust="spacingAndGlyphs" text-anchor="middle">Transduce with</text>
<text x="629.80" y="204.40" font-size="14" textLength="151.6" lengthAdjust="spacingAndGlyphs" text-anchor="middle">Brunello sgRNA library</text>
<line x1="696.00" y1="124.40" x2="710.72" y2="124.40" stroke="#2f4a68" stroke-width="2.3"/><path d="M718.5,124.4L707.7,119.6L710.7,124.4L707.7,129.2Z" fill="#2f4a68"/>
<line x1="724.40" y1="108.40" x2="862.00" y2="108.40" stroke="#5a5a5a" stroke-width="0.9"/>
<line x1="724.40" y1="137.60" x2="862.00" y2="137.60" stroke="#5a5a5a" stroke-width="0.9"/>
<path d="M768,92L769.3,146M769,122L806,150" fill="none" stroke="#b3d6e6" stroke-width="1" stroke-dasharray="3.2 2.2"/>
<g transform="translate(743,123) rotate(0) scale(1.0,1.0)"><path d="M-15.0,2.5C-15.0,1.0 -11.5,0.9 -9.0,-1.5C-6.5,-3.9 -8.2,-5.2 -6.0,-6.0C-3.8,-6.8 -3.5,-3.8 -1.0,-4.5C1.5,-5.2 0.8,-8.5 3.0,-8.5C5.2,-8.5 4.4,-5.3 7.0,-4.5C9.6,-3.7 11.2,-6.8 12.5,-5.5C13.8,-4.2 10.9,-3.3 11.5,0.0C12.1,3.3 15.5,5.1 14.5,6.5C13.5,7.9 10.9,4.6 8.0,5.0C5.1,5.4 6.8,7.9 4.0,8.0C1.2,8.1 1.1,5.8 -2.0,5.5C-5.1,5.2 -5.1,7.4 -7.0,7.0C-8.9,6.6 -6.8,5.2 -9.0,4.0C-11.2,2.8 -15.0,4.0 -15.0,2.5Z" fill="#54b062" stroke="#2f7d40" stroke-width="0.80"/><circle cx="0" cy="0.3" r="1.7" fill="#2a2a2a"/></g>
<g transform="translate(797,123) rotate(0) scale(-1.0,1.0)"><path d="M-15.0,2.5C-15.0,1.0 -11.5,0.9 -9.0,-1.5C-6.5,-3.9 -8.2,-5.2 -6.0,-6.0C-3.8,-6.8 -3.5,-3.8 -1.0,-4.5C1.5,-5.2 0.8,-8.5 3.0,-8.5C5.2,-8.5 4.4,-5.3 7.0,-4.5C9.6,-3.7 11.2,-6.8 12.5,-5.5C13.8,-4.2 10.9,-3.3 11.5,0.0C12.1,3.3 15.5,5.1 14.5,6.5C13.5,7.9 10.9,4.6 8.0,5.0C5.1,5.4 6.8,7.9 4.0,8.0C1.2,8.1 1.1,5.8 -2.0,5.5C-5.1,5.2 -5.1,7.4 -7.0,7.0C-8.9,6.6 -6.8,5.2 -9.0,4.0C-11.2,2.8 -15.0,4.0 -15.0,2.5Z" fill="#cfe6d6" stroke="#6f7f74" stroke-width="0.80"/><circle cx="0" cy="0.3" r="1.7" fill="#2a2a2a"/></g>
<g transform="translate(840,123) rotate(0) scale(1.0,1.0)"><path d="M-15.0,2.5C-15.0,1.0 -11.5,0.9 -9.0,-1.5C-6.5,-3.9 -8.2,-5.2 -6.0,-6.0C-3.8,-6.8 -3.5,-3.8 -1.0,-4.5C1.5,-5.2 0.8,-8.5 3.0,-8.5C5.2,-8.5 4.4,-5.3 7.0,-4.5C9.6,-3.7 11.2,-6.8 12.5,-5.5C13.8,-4.2 10.9,-3.3 11.5,0.0C12.1,3.3 15.5,5.1 14.5,6.5C13.5,7.9 10.9,4.6 8.0,5.0C5.1,5.4 6.8,7.9 4.0,8.0C1.2,8.1 1.1,5.8 -2.0,5.5C-5.1,5.2 -5.1,7.4 -7.0,7.0C-8.9,6.6 -6.8,5.2 -9.0,4.0C-11.2,2.8 -15.0,4.0 -15.0,2.5Z" fill="#2e7a45" stroke="#235c34" stroke-width="0.80"/><circle cx="0" cy="0.3" r="1.7" fill="#2a2a2a"/></g>
<path d="M759,84V60Q759,56 763,56H772Q776,56 776,60V84Z" fill="#808285"/><path d="M759,83.5A8.5,2.5 0 0 1 776,83.5V87A8.5,3.8 0 0 1 759,87Z" fill="#d4d5d8"/><ellipse cx="768" cy="88" rx="1.6" ry="1.2" fill="#9ab8c8" stroke="#8a8c8e" stroke-width="0.4"/>
<path d="M770,189C770,205 778,207 790,207S810,208 815,214" fill="none" stroke="#d4d5d8" stroke-width="2.2"/>
<path d="M842.5,178C846,188 843,198 839,213" fill="none" stroke="#d4d5d8" stroke-width="2.2"/>
<g transform="translate(769.7,163)"><path d="M-8.7,-14Q-8.7,-17 -5.7,-17H5.7Q8.7,-17 8.7,-14V11H-8.7Z" fill="#808285"/><path d="M-8.7,10.5H8.7V14A8.7,3.5 0 0 1 -8.7,14Z" fill="#d4d5d8"/><rect x="-3.3" y="12" width="6.6" height="10.5" fill="#808285"/><rect x="-3.3" y="22.5" width="6.6" height="3" rx="1" fill="#d4d5d8"/></g>
<g transform="translate(821,161.5) rotate(-52)"><path d="M-8.7,-14Q-8.7,-17 -5.7,-17H5.7Q8.7,-17 8.7,-14V11H-8.7Z" fill="#808285"/><path d="M-8.7,10.5H8.7V14A8.7,3.5 0 0 1 -8.7,14Z" fill="#d4d5d8"/><rect x="-3.3" y="12" width="6.6" height="10.5" fill="#808285"/><rect x="-3.3" y="22.5" width="6.6" height="3" rx="1" fill="#d4d5d8"/></g>
<path d="M778,222H841L861,212.4H796Z" fill="#d6d7d9"/><path d="M841,222L861,212.4V225L838.4,237Z" fill="#b1b3b6"/><path d="M778,222H841L838.4,237H774.4Z" fill="#808285"/>
<text x="806.60" y="233.30" font-size="11.3" textLength="28.5" lengthAdjust="spacingAndGlyphs" text-anchor="middle" style="fill:#f2f2f2">FACS</text>
<g transform="translate(859,48) rotate(0) scale(1.0,1.0)"><path d="M-15.0,2.5C-15.0,1.0 -11.5,0.9 -9.0,-1.5C-6.5,-3.9 -8.2,-5.2 -6.0,-6.0C-3.8,-6.8 -3.5,-3.8 -1.0,-4.5C1.5,-5.2 0.8,-8.5 3.0,-8.5C5.2,-8.5 4.4,-5.3 7.0,-4.5C9.6,-3.7 11.2,-6.8 12.5,-5.5C13.8,-4.2 10.9,-3.3 11.5,0.0C12.1,3.3 15.5,5.1 14.5,6.5C13.5,7.9 10.9,4.6 8.0,5.0C5.1,5.4 6.8,7.9 4.0,8.0C1.2,8.1 1.1,5.8 -2.0,5.5C-5.1,5.2 -5.1,7.4 -7.0,7.0C-8.9,6.6 -6.8,5.2 -9.0,4.0C-11.2,2.8 -15.0,4.0 -15.0,2.5Z" fill="#54b062" stroke="#2f7d40" stroke-width="0.80"/><circle cx="0" cy="0.3" r="1.7" fill="#2a2a2a"/></g>
<g transform="translate(831,67) rotate(0) scale(-1.0,1.0)"><path d="M-15.0,2.5C-15.0,1.0 -11.5,0.9 -9.0,-1.5C-6.5,-3.9 -8.2,-5.2 -6.0,-6.0C-3.8,-6.8 -3.5,-3.8 -1.0,-4.5C1.5,-5.2 0.8,-8.5 3.0,-8.5C5.2,-8.5 4.4,-5.3 7.0,-4.5C9.6,-3.7 11.2,-6.8 12.5,-5.5C13.8,-4.2 10.9,-3.3 11.5,0.0C12.1,3.3 15.5,5.1 14.5,6.5C13.5,7.9 10.9,4.6 8.0,5.0C5.1,5.4 6.8,7.9 4.0,8.0C1.2,8.1 1.1,5.8 -2.0,5.5C-5.1,5.2 -5.1,7.4 -7.0,7.0C-8.9,6.6 -6.8,5.2 -9.0,4.0C-11.2,2.8 -15.0,4.0 -15.0,2.5Z" fill="#cfe6d6" stroke="#6f7f74" stroke-width="0.80"/><circle cx="0" cy="0.3" r="1.7" fill="#2a2a2a"/></g>
<g transform="translate(869,67.6) rotate(0) scale(1.0,1.0)"><path d="M-15.0,2.5C-15.0,1.0 -11.5,0.9 -9.0,-1.5C-6.5,-3.9 -8.2,-5.2 -6.0,-6.0C-3.8,-6.8 -3.5,-3.8 -1.0,-4.5C1.5,-5.2 0.8,-8.5 3.0,-8.5C5.2,-8.5 4.4,-5.3 7.0,-4.5C9.6,-3.7 11.2,-6.8 12.5,-5.5C13.8,-4.2 10.9,-3.3 11.5,0.0C12.1,3.3 15.5,5.1 14.5,6.5C13.5,7.9 10.9,4.6 8.0,5.0C5.1,5.4 6.8,7.9 4.0,8.0C1.2,8.1 1.1,5.8 -2.0,5.5C-5.1,5.2 -5.1,7.4 -7.0,7.0C-8.9,6.6 -6.8,5.2 -9.0,4.0C-11.2,2.8 -15.0,4.0 -15.0,2.5Z" fill="#54b062" stroke="#2f7d40" stroke-width="0.80"/><circle cx="0" cy="0.3" r="1.7" fill="#2a2a2a"/></g>
<path d="M871.5,114C884,111 895,103 895.5,84" fill="none" stroke="#2f4a68" stroke-width="2.5" stroke-dasharray="7 3.5 2 3.5"/>
<path d="M893.6,72L899.5,83.5L894.5,81.2L889.2,83Z" fill="#2f4a68"/>
<line x1="873.60" y1="123.40" x2="892.22" y2="123.40" stroke="#2f4a68" stroke-width="2.3"/><path d="M900.0,123.4L889.2,118.6L892.2,123.4L889.2,128.2Z" fill="#2f4a68"/>
<line x1="870.40" y1="130.40" x2="895.77" y2="160.27" stroke="#2f4a68" stroke-width="2.3"/><path d="M900.8,166.2L897.5,154.9L895.8,160.3L890.2,161.1Z" fill="#2f4a68"/>
<text x="876.60" y="28.10" font-size="14" textLength="131.0" lengthAdjust="spacingAndGlyphs" style="fill:#6d6e70">Unsorted reference</text>
<path d="M911.5,53.5V59.3A30,19.3 0 0 0 971.5,59.3V53.5Z" fill="#dcdde0" stroke="#6f6f6f" stroke-width="0.8"/><ellipse cx="941.5" cy="56.69" rx="30" ry="19.3" fill="none" stroke="#6f6f6f" stroke-width="0.6"/><ellipse cx="941.5" cy="53.5" rx="30" ry="19.3" fill="#dcdde0" stroke="#6f6f6f" stroke-width="0.8"/><ellipse cx="941.5" cy="54.5" rx="27.4" ry="17.1" fill="#dcdde0" stroke="#6f6f6f" stroke-width="0.6"/>
<g transform="translate(925,52) rotate(0) scale(0.47,0.47)"><path d="M-15.0,2.5C-15.0,1.0 -11.5,0.9 -9.0,-1.5C-6.5,-3.9 -8.2,-5.2 -6.0,-6.0C-3.8,-6.8 -3.5,-3.8 -1.0,-4.5C1.5,-5.2 0.8,-8.5 3.0,-8.5C5.2,-8.5 4.4,-5.3 7.0,-4.5C9.6,-3.7 11.2,-6.8 12.5,-5.5C13.8,-4.2 10.9,-3.3 11.5,0.0C12.1,3.3 15.5,5.1 14.5,6.5C13.5,7.9 10.9,4.6 8.0,5.0C5.1,5.4 6.8,7.9 4.0,8.0C1.2,8.1 1.1,5.8 -2.0,5.5C-5.1,5.2 -5.1,7.4 -7.0,7.0C-8.9,6.6 -6.8,5.2 -9.0,4.0C-11.2,2.8 -15.0,4.0 -15.0,2.5Z" fill="#54b062" stroke="#2f7d40" stroke-width="1.70"/><circle cx="0" cy="0.3" r="1.7" fill="#2a2a2a"/></g>
<g transform="translate(941,44.5) rotate(0) scale(0.47,0.47)"><path d="M-15.0,2.5C-15.0,1.0 -11.5,0.9 -9.0,-1.5C-6.5,-3.9 -8.2,-5.2 -6.0,-6.0C-3.8,-6.8 -3.5,-3.8 -1.0,-4.5C1.5,-5.2 0.8,-8.5 3.0,-8.5C5.2,-8.5 4.4,-5.3 7.0,-4.5C9.6,-3.7 11.2,-6.8 12.5,-5.5C13.8,-4.2 10.9,-3.3 11.5,0.0C12.1,3.3 15.5,5.1 14.5,6.5C13.5,7.9 10.9,4.6 8.0,5.0C5.1,5.4 6.8,7.9 4.0,8.0C1.2,8.1 1.1,5.8 -2.0,5.5C-5.1,5.2 -5.1,7.4 -7.0,7.0C-8.9,6.6 -6.8,5.2 -9.0,4.0C-11.2,2.8 -15.0,4.0 -15.0,2.5Z" fill="#cfe6d6" stroke="#6f7f74" stroke-width="1.70"/><circle cx="0" cy="0.3" r="1.7" fill="#2a2a2a"/></g>
<g transform="translate(956,47) rotate(0) scale(-0.47,0.47)"><path d="M-15.0,2.5C-15.0,1.0 -11.5,0.9 -9.0,-1.5C-6.5,-3.9 -8.2,-5.2 -6.0,-6.0C-3.8,-6.8 -3.5,-3.8 -1.0,-4.5C1.5,-5.2 0.8,-8.5 3.0,-8.5C5.2,-8.5 4.4,-5.3 7.0,-4.5C9.6,-3.7 11.2,-6.8 12.5,-5.5C13.8,-4.2 10.9,-3.3 11.5,0.0C12.1,3.3 15.5,5.1 14.5,6.5C13.5,7.9 10.9,4.6 8.0,5.0C5.1,5.4 6.8,7.9 4.0,8.0C1.2,8.1 1.1,5.8 -2.0,5.5C-5.1,5.2 -5.1,7.4 -7.0,7.0C-8.9,6.6 -6.8,5.2 -9.0,4.0C-11.2,2.8 -15.0,4.0 -15.0,2.5Z" fill="#54b062" stroke="#2f7d40" stroke-width="1.70"/><circle cx="0" cy="0.3" r="1.7" fill="#2a2a2a"/></g>
<g transform="translate(929,61.5) rotate(0) scale(-0.47,0.47)"><path d="M-15.0,2.5C-15.0,1.0 -11.5,0.9 -9.0,-1.5C-6.5,-3.9 -8.2,-5.2 -6.0,-6.0C-3.8,-6.8 -3.5,-3.8 -1.0,-4.5C1.5,-5.2 0.8,-8.5 3.0,-8.5C5.2,-8.5 4.4,-5.3 7.0,-4.5C9.6,-3.7 11.2,-6.8 12.5,-5.5C13.8,-4.2 10.9,-3.3 11.5,0.0C12.1,3.3 15.5,5.1 14.5,6.5C13.5,7.9 10.9,4.6 8.0,5.0C5.1,5.4 6.8,7.9 4.0,8.0C1.2,8.1 1.1,5.8 -2.0,5.5C-5.1,5.2 -5.1,7.4 -7.0,7.0C-8.9,6.6 -6.8,5.2 -9.0,4.0C-11.2,2.8 -15.0,4.0 -15.0,2.5Z" fill="#cfe6d6" stroke="#6f7f74" stroke-width="1.70"/><circle cx="0" cy="0.3" r="1.7" fill="#2a2a2a"/></g>
<g transform="translate(942.5,55) rotate(0) scale(0.47,0.47)"><path d="M-15.0,2.5C-15.0,1.0 -11.5,0.9 -9.0,-1.5C-6.5,-3.9 -8.2,-5.2 -6.0,-6.0C-3.8,-6.8 -3.5,-3.8 -1.0,-4.5C1.5,-5.2 0.8,-8.5 3.0,-8.5C5.2,-8.5 4.4,-5.3 7.0,-4.5C9.6,-3.7 11.2,-6.8 12.5,-5.5C13.8,-4.2 10.9,-3.3 11.5,0.0C12.1,3.3 15.5,5.1 14.5,6.5C13.5,7.9 10.9,4.6 8.0,5.0C5.1,5.4 6.8,7.9 4.0,8.0C1.2,8.1 1.1,5.8 -2.0,5.5C-5.1,5.2 -5.1,7.4 -7.0,7.0C-8.9,6.6 -6.8,5.2 -9.0,4.0C-11.2,2.8 -15.0,4.0 -15.0,2.5Z" fill="#2e7a45" stroke="#235c34" stroke-width="1.70"/><circle cx="0" cy="0.3" r="1.7" fill="#2a2a2a"/></g>
<g transform="translate(947,66.5) rotate(0) scale(0.47,0.47)"><path d="M-15.0,2.5C-15.0,1.0 -11.5,0.9 -9.0,-1.5C-6.5,-3.9 -8.2,-5.2 -6.0,-6.0C-3.8,-6.8 -3.5,-3.8 -1.0,-4.5C1.5,-5.2 0.8,-8.5 3.0,-8.5C5.2,-8.5 4.4,-5.3 7.0,-4.5C9.6,-3.7 11.2,-6.8 12.5,-5.5C13.8,-4.2 10.9,-3.3 11.5,0.0C12.1,3.3 15.5,5.1 14.5,6.5C13.5,7.9 10.9,4.6 8.0,5.0C5.1,5.4 6.8,7.9 4.0,8.0C1.2,8.1 1.1,5.8 -2.0,5.5C-5.1,5.2 -5.1,7.4 -7.0,7.0C-8.9,6.6 -6.8,5.2 -9.0,4.0C-11.2,2.8 -15.0,4.0 -15.0,2.5Z" fill="#cfe6d6" stroke="#6f7f74" stroke-width="1.70"/><circle cx="0" cy="0.3" r="1.7" fill="#2a2a2a"/></g>
<g transform="translate(961,57.5) rotate(0) scale(0.47,0.47)"><path d="M-15.0,2.5C-15.0,1.0 -11.5,0.9 -9.0,-1.5C-6.5,-3.9 -8.2,-5.2 -6.0,-6.0C-3.8,-6.8 -3.5,-3.8 -1.0,-4.5C1.5,-5.2 0.8,-8.5 3.0,-8.5C5.2,-8.5 4.4,-5.3 7.0,-4.5C9.6,-3.7 11.2,-6.8 12.5,-5.5C13.8,-4.2 10.9,-3.3 11.5,0.0C12.1,3.3 15.5,5.1 14.5,6.5C13.5,7.9 10.9,4.6 8.0,5.0C5.1,5.4 6.8,7.9 4.0,8.0C1.2,8.1 1.1,5.8 -2.0,5.5C-5.1,5.2 -5.1,7.4 -7.0,7.0C-8.9,6.6 -6.8,5.2 -9.0,4.0C-11.2,2.8 -15.0,4.0 -15.0,2.5Z" fill="#54b062" stroke="#2f7d40" stroke-width="1.70"/><circle cx="0" cy="0.3" r="1.7" fill="#2a2a2a"/></g>
<text transform="translate(942.00,94.00) scale(1.095,1)" font-size="14" text-anchor="middle" style="fill:#f2a75c">3 d</text>
<path d="M911.5,120.3V127.7A30,19.4 0 0 0 971.5,127.7V120.3Z" fill="#f7cb94" stroke="#8a7a66" stroke-width="0.8"/><ellipse cx="941.5" cy="124.37" rx="30" ry="19.4" fill="none" stroke="#8a7a66" stroke-width="0.6"/><ellipse cx="941.5" cy="120.3" rx="30" ry="19.4" fill="#f7cb94" stroke="#8a7a66" stroke-width="0.8"/><ellipse cx="941.5" cy="121.3" rx="27.4" ry="17.2" fill="#f7cb94" stroke="#8a7a66" stroke-width="0.6"/>
<text transform="translate(942.00,161.50) scale(1.095,1)" font-size="14" text-anchor="middle" style="fill:#e0555a">7 d</text>
<path d="M911.5,185.5V192.0A30,19.3 0 0 0 971.5,192.0V185.5Z" fill="#e07e80" stroke="#7a6a6a" stroke-width="0.8"/><ellipse cx="941.5" cy="189.075" rx="30" ry="19.3" fill="none" stroke="#7a6a6a" stroke-width="0.6"/><ellipse cx="941.5" cy="185.5" rx="30" ry="19.3" fill="#e07e80" stroke="#7a6a6a" stroke-width="0.8"/><ellipse cx="941.5" cy="186.5" rx="27.4" ry="17.1" fill="#e07e80" stroke="#7a6a6a" stroke-width="0.6"/>
<g transform="translate(926.5,115.3) rotate(0) scale(0.5,0.5)"><path d="M-15.0,2.5C-15.0,1.0 -11.5,0.9 -9.0,-1.5C-6.5,-3.9 -8.2,-5.2 -6.0,-6.0C-3.8,-6.8 -3.5,-3.8 -1.0,-4.5C1.5,-5.2 0.8,-8.5 3.0,-8.5C5.2,-8.5 4.4,-5.3 7.0,-4.5C9.6,-3.7 11.2,-6.8 12.5,-5.5C13.8,-4.2 10.9,-3.3 11.5,0.0C12.1,3.3 15.5,5.1 14.5,6.5C13.5,7.9 10.9,4.6 8.0,5.0C5.1,5.4 6.8,7.9 4.0,8.0C1.2,8.1 1.1,5.8 -2.0,5.5C-5.1,5.2 -5.1,7.4 -7.0,7.0C-8.9,6.6 -6.8,5.2 -9.0,4.0C-11.2,2.8 -15.0,4.0 -15.0,2.5Z" fill="#2f7a3f" stroke="#245a30" stroke-width="1.60"/><circle cx="0" cy="0.3" r="1.7" fill="#2a2a2a"/></g>
<g transform="translate(942.5,112.3) rotate(0) scale(-0.5,0.5)"><path d="M-15.0,2.5C-15.0,1.0 -11.5,0.9 -9.0,-1.5C-6.5,-3.9 -8.2,-5.2 -6.0,-6.0C-3.8,-6.8 -3.5,-3.8 -1.0,-4.5C1.5,-5.2 0.8,-8.5 3.0,-8.5C5.2,-8.5 4.4,-5.3 7.0,-4.5C9.6,-3.7 11.2,-6.8 12.5,-5.5C13.8,-4.2 10.9,-3.3 11.5,0.0C12.1,3.3 15.5,5.1 14.5,6.5C13.5,7.9 10.9,4.6 8.0,5.0C5.1,5.4 6.8,7.9 4.0,8.0C1.2,8.1 1.1,5.8 -2.0,5.5C-5.1,5.2 -5.1,7.4 -7.0,7.0C-8.9,6.6 -6.8,5.2 -9.0,4.0C-11.2,2.8 -15.0,4.0 -15.0,2.5Z" fill="#2f7a3f" stroke="#245a30" stroke-width="1.60"/><circle cx="0" cy="0.3" r="1.7" fill="#2a2a2a"/></g>
<g transform="translate(957.5,117.3) rotate(0) scale(0.5,0.5)"><path d="M-15.0,2.5C-15.0,1.0 -11.5,0.9 -9.0,-1.5C-6.5,-3.9 -8.2,-5.2 -6.0,-6.0C-3.8,-6.8 -3.5,-3.8 -1.0,-4.5C1.5,-5.2 0.8,-8.5 3.0,-8.5C5.2,-8.5 4.4,-5.3 7.0,-4.5C9.6,-3.7 11.2,-6.8 12.5,-5.5C13.8,-4.2 10.9,-3.3 11.5,0.0C12.1,3.3 15.5,5.1 14.5,6.5C13.5,7.9 10.9,4.6 8.0,5.0C5.1,5.4 6.8,7.9 4.0,8.0C1.2,8.1 1.1,5.8 -2.0,5.5C-5.1,5.2 -5.1,7.4 -7.0,7.0C-8.9,6.6 -6.8,5.2 -9.0,4.0C-11.2,2.8 -15.0,4.0 -15.0,2.5Z" fill="#2f7a3f" stroke="#245a30" stroke-width="1.60"/><circle cx="0" cy="0.3" r="1.7" fill="#2a2a2a"/></g>
<g transform="translate(922.5,125.3) rotate(0) scale(-0.5,0.5)"><path d="M-15.0,2.5C-15.0,1.0 -11.5,0.9 -9.0,-1.5C-6.5,-3.9 -8.2,-5.2 -6.0,-6.0C-3.8,-6.8 -3.5,-3.8 -1.0,-4.5C1.5,-5.2 0.8,-8.5 3.0,-8.5C5.2,-8.5 4.4,-5.3 7.0,-4.5C9.6,-3.7 11.2,-6.8 12.5,-5.5C13.8,-4.2 10.9,-3.3 11.5,0.0C12.1,3.3 15.5,5.1 14.5,6.5C13.5,7.9 10.9,4.6 8.0,5.0C5.1,5.4 6.8,7.9 4.0,8.0C1.2,8.1 1.1,5.8 -2.0,5.5C-5.1,5.2 -5.1,7.4 -7.0,7.0C-8.9,6.6 -6.8,5.2 -9.0,4.0C-11.2,2.8 -15.0,4.0 -15.0,2.5Z" fill="#2f7a3f" stroke="#245a30" stroke-width="1.60"/><circle cx="0" cy="0.3" r="1.7" fill="#2a2a2a"/></g>
<g transform="translate(938.5,124.3) rotate(0) scale(0.5,0.5)"><path d="M-15.0,2.5C-15.0,1.0 -11.5,0.9 -9.0,-1.5C-6.5,-3.9 -8.2,-5.2 -6.0,-6.0C-3.8,-6.8 -3.5,-3.8 -1.0,-4.5C1.5,-5.2 0.8,-8.5 3.0,-8.5C5.2,-8.5 4.4,-5.3 7.0,-4.5C9.6,-3.7 11.2,-6.8 12.5,-5.5C13.8,-4.2 10.9,-3.3 11.5,0.0C12.1,3.3 15.5,5.1 14.5,6.5C13.5,7.9 10.9,4.6 8.0,5.0C5.1,5.4 6.8,7.9 4.0,8.0C1.2,8.1 1.1,5.8 -2.0,5.5C-5.1,5.2 -5.1,7.4 -7.0,7.0C-8.9,6.6 -6.8,5.2 -9.0,4.0C-11.2,2.8 -15.0,4.0 -15.0,2.5Z" fill="#2f7a3f" stroke="#245a30" stroke-width="1.60"/><circle cx="0" cy="0.3" r="1.7" fill="#2a2a2a"/></g>
<g transform="translate(954.5,128.3) rotate(0) scale(-0.5,0.5)"><path d="M-15.0,2.5C-15.0,1.0 -11.5,0.9 -9.0,-1.5C-6.5,-3.9 -8.2,-5.2 -6.0,-6.0C-3.8,-6.8 -3.5,-3.8 -1.0,-4.5C1.5,-5.2 0.8,-8.5 3.0,-8.5C5.2,-8.5 4.4,-5.3 7.0,-4.5C9.6,-3.7 11.2,-6.8 12.5,-5.5C13.8,-4.2 10.9,-3.3 11.5,0.0C12.1,3.3 15.5,5.1 14.5,6.5C13.5,7.9 10.9,4.6 8.0,5.0C5.1,5.4 6.8,7.9 4.0,8.0C1.2,8.1 1.1,5.8 -2.0,5.5C-5.1,5.2 -5.1,7.4 -7.0,7.0C-8.9,6.6 -6.8,5.2 -9.0,4.0C-11.2,2.8 -15.0,4.0 -15.0,2.5Z" fill="#2f7a3f" stroke="#245a30" stroke-width="1.60"/><circle cx="0" cy="0.3" r="1.7" fill="#2a2a2a"/></g>
<g transform="translate(934.5,133.3) rotate(0) scale(0.5,0.5)"><path d="M-15.0,2.5C-15.0,1.0 -11.5,0.9 -9.0,-1.5C-6.5,-3.9 -8.2,-5.2 -6.0,-6.0C-3.8,-6.8 -3.5,-3.8 -1.0,-4.5C1.5,-5.2 0.8,-8.5 3.0,-8.5C5.2,-8.5 4.4,-5.3 7.0,-4.5C9.6,-3.7 11.2,-6.8 12.5,-5.5C13.8,-4.2 10.9,-3.3 11.5,0.0C12.1,3.3 15.5,5.1 14.5,6.5C13.5,7.9 10.9,4.6 8.0,5.0C5.1,5.4 6.8,7.9 4.0,8.0C1.2,8.1 1.1,5.8 -2.0,5.5C-5.1,5.2 -5.1,7.4 -7.0,7.0C-8.9,6.6 -6.8,5.2 -9.0,4.0C-11.2,2.8 -15.0,4.0 -15.0,2.5Z" fill="#2f7a3f" stroke="#245a30" stroke-width="1.60"/><circle cx="0" cy="0.3" r="1.7" fill="#2a2a2a"/></g>
<g transform="translate(926.5,180.5) rotate(0) scale(0.5,0.5)"><path d="M-15.0,2.5C-15.0,1.0 -11.5,0.9 -9.0,-1.5C-6.5,-3.9 -8.2,-5.2 -6.0,-6.0C-3.8,-6.8 -3.5,-3.8 -1.0,-4.5C1.5,-5.2 0.8,-8.5 3.0,-8.5C5.2,-8.5 4.4,-5.3 7.0,-4.5C9.6,-3.7 11.2,-6.8 12.5,-5.5C13.8,-4.2 10.9,-3.3 11.5,0.0C12.1,3.3 15.5,5.1 14.5,6.5C13.5,7.9 10.9,4.6 8.0,5.0C5.1,5.4 6.8,7.9 4.0,8.0C1.2,8.1 1.1,5.8 -2.0,5.5C-5.1,5.2 -5.1,7.4 -7.0,7.0C-8.9,6.6 -6.8,5.2 -9.0,4.0C-11.2,2.8 -15.0,4.0 -15.0,2.5Z" fill="#2f7a3f" stroke="#245a30" stroke-width="1.60"/><circle cx="0" cy="0.3" r="1.7" fill="#2a2a2a"/></g>
<g transform="translate(942.5,177.5) rotate(0) scale(-0.5,0.5)"><path d="M-15.0,2.5C-15.0,1.0 -11.5,0.9 -9.0,-1.5C-6.5,-3.9 -8.2,-5.2 -6.0,-6.0C-3.8,-6.8 -3.5,-3.8 -1.0,-4.5C1.5,-5.2 0.8,-8.5 3.0,-8.5C5.2,-8.5 4.4,-5.3 7.0,-4.5C9.6,-3.7 11.2,-6.8 12.5,-5.5C13.8,-4.2 10.9,-3.3 11.5,0.0C12.1,3.3 15.5,5.1 14.5,6.5C13.5,7.9 10.9,4.6 8.0,5.0C5.1,5.4 6.8,7.9 4.0,8.0C1.2,8.1 1.1,5.8 -2.0,5.5C-5.1,5.2 -5.1,7.4 -7.0,7.0C-8.9,6.6 -6.8,5.2 -9.0,4.0C-11.2,2.8 -15.0,4.0 -15.0,2.5Z" fill="#2f7a3f" stroke="#245a30" stroke-width="1.60"/><circle cx="0" cy="0.3" r="1.7" fill="#2a2a2a"/></g>
<g transform="translate(957.5,182.5) rotate(0) scale(0.5,0.5)"><path d="M-15.0,2.5C-15.0,1.0 -11.5,0.9 -9.0,-1.5C-6.5,-3.9 -8.2,-5.2 -6.0,-6.0C-3.8,-6.8 -3.5,-3.8 -1.0,-4.5C1.5,-5.2 0.8,-8.5 3.0,-8.5C5.2,-8.5 4.4,-5.3 7.0,-4.5C9.6,-3.7 11.2,-6.8 12.5,-5.5C13.8,-4.2 10.9,-3.3 11.5,0.0C12.1,3.3 15.5,5.1 14.5,6.5C13.5,7.9 10.9,4.6 8.0,5.0C5.1,5.4 6.8,7.9 4.0,8.0C1.2,8.1 1.1,5.8 -2.0,5.5C-5.1,5.2 -5.1,7.4 -7.0,7.0C-8.9,6.6 -6.8,5.2 -9.0,4.0C-11.2,2.8 -15.0,4.0 -15.0,2.5Z" fill="#2f7a3f" stroke="#245a30" stroke-width="1.60"/><circle cx="0" cy="0.3" r="1.7" fill="#2a2a2a"/></g>
<g transform="translate(922.5,190.5) rotate(0) scale(-0.5,0.5)"><path d="M-15.0,2.5C-15.0,1.0 -11.5,0.9 -9.0,-1.5C-6.5,-3.9 -8.2,-5.2 -6.0,-6.0C-3.8,-6.8 -3.5,-3.8 -1.0,-4.5C1.5,-5.2 0.8,-8.5 3.0,-8.5C5.2,-8.5 4.4,-5.3 7.0,-4.5C9.6,-3.7 11.2,-6.8 12.5,-5.5C13.8,-4.2 10.9,-3.3 11.5,0.0C12.1,3.3 15.5,5.1 14.5,6.5C13.5,7.9 10.9,4.6 8.0,5.0C5.1,5.4 6.8,7.9 4.0,8.0C1.2,8.1 1.1,5.8 -2.0,5.5C-5.1,5.2 -5.1,7.4 -7.0,7.0C-8.9,6.6 -6.8,5.2 -9.0,4.0C-11.2,2.8 -15.0,4.0 -15.0,2.5Z" fill="#2f7a3f" stroke="#245a30" stroke-width="1.60"/><circle cx="0" cy="0.3" r="1.7" fill="#2a2a2a"/></g>
<g transform="translate(938.5,189.5) rotate(0) scale(0.5,0.5)"><path d="M-15.0,2.5C-15.0,1.0 -11.5,0.9 -9.0,-1.5C-6.5,-3.9 -8.2,-5.2 -6.0,-6.0C-3.8,-6.8 -3.5,-3.8 -1.0,-4.5C1.5,-5.2 0.8,-8.5 3.0,-8.5C5.2,-8.5 4.4,-5.3 7.0,-4.5C9.6,-3.7 11.2,-6.8 12.5,-5.5C13.8,-4.2 10.9,-3.3 11.5,0.0C12.1,3.3 15.5,5.1 14.5,6.5C13.5,7.9 10.9,4.6 8.0,5.0C5.1,5.4 6.8,7.9 4.0,8.0C1.2,8.1 1.1,5.8 -2.0,5.5C-5.1,5.2 -5.1,7.4 -7.0,7.0C-8.9,6.6 -6.8,5.2 -9.0,4.0C-11.2,2.8 -15.0,4.0 -15.0,2.5Z" fill="#2f7a3f" stroke="#245a30" stroke-width="1.60"/><circle cx="0" cy="0.3" r="1.7" fill="#2a2a2a"/></g>
<g transform="translate(954.5,193.5) rotate(0) scale(-0.5,0.5)"><path d="M-15.0,2.5C-15.0,1.0 -11.5,0.9 -9.0,-1.5C-6.5,-3.9 -8.2,-5.2 -6.0,-6.0C-3.8,-6.8 -3.5,-3.8 -1.0,-4.5C1.5,-5.2 0.8,-8.5 3.0,-8.5C5.2,-8.5 4.4,-5.3 7.0,-4.5C9.6,-3.7 11.2,-6.8 12.5,-5.5C13.8,-4.2 10.9,-3.3 11.5,0.0C12.1,3.3 15.5,5.1 14.5,6.5C13.5,7.9 10.9,4.6 8.0,5.0C5.1,5.4 6.8,7.9 4.0,8.0C1.2,8.1 1.1,5.8 -2.0,5.5C-5.1,5.2 -5.1,7.4 -7.0,7.0C-8.9,6.6 -6.8,5.2 -9.0,4.0C-11.2,2.8 -15.0,4.0 -15.0,2.5Z" fill="#2f7a3f" stroke="#245a30" stroke-width="1.60"/><circle cx="0" cy="0.3" r="1.7" fill="#2a2a2a"/></g>
<g transform="translate(934.5,198.5) rotate(0) scale(0.5,0.5)"><path d="M-15.0,2.5C-15.0,1.0 -11.5,0.9 -9.0,-1.5C-6.5,-3.9 -8.2,-5.2 -6.0,-6.0C-3.8,-6.8 -3.5,-3.8 -1.0,-4.5C1.5,-5.2 0.8,-8.5 3.0,-8.5C5.2,-8.5 4.4,-5.3 7.0,-4.5C9.6,-3.7 11.2,-6.8 12.5,-5.5C13.8,-4.2 10.9,-3.3 11.5,0.0C12.1,3.3 15.5,5.1 14.5,6.5C13.5,7.9 10.9,4.6 8.0,5.0C5.1,5.4 6.8,7.9 4.0,8.0C1.2,8.1 1.1,5.8 -2.0,5.5C-5.1,5.2 -5.1,7.4 -7.0,7.0C-8.9,6.6 -6.8,5.2 -9.0,4.0C-11.2,2.8 -15.0,4.0 -15.0,2.5Z" fill="#2f7a3f" stroke="#245a30" stroke-width="1.60"/><circle cx="0" cy="0.3" r="1.7" fill="#2a2a2a"/></g>
<path d="M983.5,65.2H995.2V200.7H983.5" fill="none" stroke="#2f4a68" stroke-width="2.3"/>
<line x1="995.20" y1="80.70" x2="1013.22" y2="80.70" stroke="#2f4a68" stroke-width="2.3"/><path d="M1021.0,80.7L1010.2,75.9L1013.2,80.7L1010.2,85.5Z" fill="#2f4a68"/>
<rect x="1033.3" y="34" width="62" height="66.7" rx="4" fill="#f4f6f6" stroke="#231f20" stroke-width="1.3"/>
<rect x="1038" y="72.7" width="52" height="22.6" rx="3" fill="#231f20"/>
<text x="1036.00" y="44.70" font-size="8.6" textLength="50.0" lengthAdjust="spacingAndGlyphs" style="fill:#231f20">Sequencing</text>
<rect x="1086.7" y="16.7" width="61.8" height="84.5" rx="5" fill="#414042" stroke="#231f20" stroke-width="1.3"/>
<rect x="1096.5" y="20.7" width="42.7" height="28.8" rx="2" fill="#6b9ac4"/>
<line x1="1087.60" y1="56.70" x2="1108.80" y2="56.70" stroke="#6b9ac4" stroke-width="1.6"/>
<text x="1097.30" y="97.20" font-size="12" textLength="43.5" lengthAdjust="spacingAndGlyphs" style="fill:#d4d4d4">Illumina</text>
<line x1="1099.20" y1="104.70" x2="1099.20" y2="133.80" stroke="#2f4a68" stroke-width="2.1"/><path d="M1099.2,141.0L1103.6,131.0L1099.2,133.8L1094.8,131.0Z" fill="#2f4a68"/>
<text x="1103.50" y="156.70" font-size="14" textLength="59.0" lengthAdjust="spacingAndGlyphs" text-anchor="middle">Enriched</text>
<text x="1103.50" y="174.00" font-size="14" textLength="52.0" lengthAdjust="spacingAndGlyphs" text-anchor="middle">sgRNAs</text>
<path d="M1053.9,147.3V222.5H1130.7" fill="none" stroke="#8a8a8a" stroke-width="0.9"/>
<path d="M1077.3,202.5C1090,210 1103,210.5 1117.3,211.3" fill="none" stroke="#1a1a1a" stroke-width="1.7"/>
<path d="M1059.5,158C1059,180 1064,194 1077.3,202.5" fill="none" stroke="#c8202f" stroke-width="1.7"/>
</g>
<g id="panel-d">
<text transform="translate(-0.3,1067.6) scale(1.1,1)" font-size="25.5" font-weight="bold" fill="#111" stroke="#111" stroke-width="0.8" stroke-linejoin="round">d</text>
<path d="M109.60,1172.00L109.60,1109.80A62.2,62.2 0 1 1 48.85,1158.64Z" fill="#3b378f" stroke="#fff" stroke-width="0.55" stroke-linejoin="round"/>
<path d="M109.60,1172.00L48.85,1158.64A62.2,62.2 0 0 1 56.62,1139.41Z" fill="#b08fba" stroke="#fff" stroke-width="0.55" stroke-linejoin="round"/>
<path d="M109.60,1172.00L56.62,1139.41A62.2,62.2 0 0 1 66.86,1126.81Z" fill="#6e5199" stroke="#fff" stroke-width="0.55" stroke-linejoin="round"/>
<path d="M109.60,1172.00L66.86,1126.81A62.2,62.2 0 0 1 79.83,1117.39Z" fill="#4a5a9f" stroke="#fff" stroke-width="0.55" stroke-linejoin="round"/>
<path d="M109.60,1172.00L79.83,1117.39A62.2,62.2 0 0 1 94.24,1111.73Z" fill="#954a8e" stroke="#fff" stroke-width="0.55" stroke-linejoin="round"/>
<path d="M109.60,1172.00L94.24,1111.73A62.2,62.2 0 0 1 109.60,1109.80Z" fill="#1678b8" stroke="#fff" stroke-width="0.55" stroke-linejoin="round"/>
<path d="M109.60,1100.60A71.4,71.4 0 0 1 148.17,1111.91L143.41,1119.32A62.6,62.6 0 0 0 109.60,1109.40Z" fill="#3b378f" stroke="#fff" stroke-width="0.55" stroke-linejoin="round"/>
<path d="M148.17,1111.91A71.4,71.4 0 0 1 169.39,1132.97L162.02,1137.78A62.6,62.6 0 0 0 143.41,1119.32Z" fill="#3b378f" stroke="#fff" stroke-width="0.55" stroke-linejoin="round"/>
<path d="M169.39,1132.97A71.4,71.4 0 0 1 179.08,1155.55L170.52,1157.58A62.6,62.6 0 0 0 162.02,1137.78Z" fill="#3e3a91" stroke="#fff" stroke-width="0.55" stroke-linejoin="round"/>
<path d="M179.08,1155.55A71.4,71.4 0 0 1 180.73,1178.23L171.96,1177.47A62.6,62.6 0 0 0 170.52,1157.58Z" fill="#423e93" stroke="#fff" stroke-width="0.55" stroke-linejoin="round"/>
<path d="M180.73,1178.23A71.4,71.4 0 0 1 176.75,1196.27L168.47,1193.28A62.6,62.6 0 0 0 171.96,1177.47Z" fill="#464295" stroke="#fff" stroke-width="0.55" stroke-linejoin="round"/>
<path d="M176.75,1196.27A71.4,71.4 0 0 1 171.57,1207.46L163.93,1203.09A62.6,62.6 0 0 0 168.47,1193.28Z" fill="#4a4698" stroke="#fff" stroke-width="0.55" stroke-linejoin="round"/>
<path d="M171.57,1207.46A71.4,71.4 0 0 1 165.33,1216.64L158.46,1211.13A62.6,62.6 0 0 0 163.93,1203.09Z" fill="#4f4a9a" stroke="#fff" stroke-width="0.55" stroke-linejoin="round"/>
<path d="M165.33,1216.64A71.4,71.4 0 0 1 158.19,1224.32L152.20,1217.87A62.6,62.6 0 0 0 158.46,1211.13Z" fill="#534f9d" stroke="#fff" stroke-width="0.55" stroke-linejoin="round"/>
<path d="M158.19,1224.32A71.4,71.4 0 0 1 150.51,1230.52L145.47,1223.30A62.6,62.6 0 0 0 152.20,1217.87Z" fill="#58539f" stroke="#fff" stroke-width="0.55" stroke-linejoin="round"/>
<path d="M150.51,1230.52A71.4,71.4 0 0 1 142.60,1235.32L138.53,1227.51A62.6,62.6 0 0 0 145.47,1223.30Z" fill="#5d58a2" stroke="#fff" stroke-width="0.55" stroke-linejoin="round"/>
<path d="M142.60,1235.32A71.4,71.4 0 0 1 134.14,1239.05L131.11,1230.79A62.6,62.6 0 0 0 138.53,1227.51Z" fill="#625da5" stroke="#fff" stroke-width="0.55" stroke-linejoin="round"/>
<path d="M134.14,1239.05A71.4,71.4 0 0 1 125.86,1241.52L123.86,1232.95A62.6,62.6 0 0 0 131.11,1230.79Z" fill="#6762a7" stroke="#fff" stroke-width="0.55" stroke-linejoin="round"/>
<path d="M125.86,1241.52A71.4,71.4 0 0 1 117.35,1242.98L116.39,1234.23A62.6,62.6 0 0 0 123.86,1232.95Z" fill="#6c67aa" stroke="#fff" stroke-width="0.55" stroke-linejoin="round"/>
<path d="M117.35,1242.98A71.4,71.4 0 0 1 108.72,1243.39L108.83,1234.60A62.6,62.6 0 0 0 116.39,1234.23Z" fill="#716cad" stroke="#fff" stroke-width="0.55" stroke-linejoin="round"/>
<path d="M108.72,1243.39A71.4,71.4 0 0 1 100.72,1242.85L101.81,1234.11A62.6,62.6 0 0 0 108.83,1234.60Z" fill="#7671b0" stroke="#fff" stroke-width="0.55" stroke-linejoin="round"/>
<path d="M100.72,1242.85A71.4,71.4 0 0 1 92.83,1241.40L94.90,1232.85A62.6,62.6 0 0 0 101.81,1234.11Z" fill="#7b76b3" stroke="#fff" stroke-width="0.55" stroke-linejoin="round"/>
<path d="M92.83,1241.40A71.4,71.4 0 0 1 85.73,1239.29L88.67,1231.00A62.6,62.6 0 0 0 94.90,1232.85Z" fill="#807bb6" stroke="#fff" stroke-width="0.55" stroke-linejoin="round"/>
<path d="M85.73,1239.29A71.4,71.4 0 0 1 78.89,1236.46L82.68,1228.51A62.6,62.6 0 0 0 88.67,1231.00Z" fill="#8681b9" stroke="#fff" stroke-width="0.55" stroke-linejoin="round"/>
<path d="M78.89,1236.46A71.4,71.4 0 0 1 72.91,1233.25L77.43,1225.70A62.6,62.6 0 0 0 82.68,1228.51Z" fill="#8b86bc" stroke="#fff" stroke-width="0.55" stroke-linejoin="round"/>
<path d="M72.91,1233.25A71.4,71.4 0 0 1 67.26,1229.49L72.48,1222.40A62.6,62.6 0 0 0 77.43,1225.70Z" fill="#918bbf" stroke="#fff" stroke-width="0.55" stroke-linejoin="round"/>
<path d="M67.26,1229.49A71.4,71.4 0 0 1 62.45,1225.62L68.26,1219.01A62.6,62.6 0 0 0 72.48,1222.40Z" fill="#9691c2" stroke="#fff" stroke-width="0.55" stroke-linejoin="round"/>
<path d="M62.45,1225.62A71.4,71.4 0 0 1 58.00,1221.35L64.36,1215.27A62.6,62.6 0 0 0 68.26,1219.01Z" fill="#9c96c5" stroke="#fff" stroke-width="0.55" stroke-linejoin="round"/>
<path d="M58.00,1221.35A71.4,71.4 0 0 1 54.32,1217.19L61.13,1211.62A62.6,62.6 0 0 0 64.36,1215.27Z" fill="#a19cc8" stroke="#fff" stroke-width="0.55" stroke-linejoin="round"/>
<path d="M54.32,1217.19A71.4,71.4 0 0 1 50.97,1212.75L58.20,1207.73A62.6,62.6 0 0 0 61.13,1211.62Z" fill="#a7a1cb" stroke="#fff" stroke-width="0.55" stroke-linejoin="round"/>
<path d="M50.97,1212.75A71.4,71.4 0 0 1 48.30,1208.60L55.85,1204.09A62.6,62.6 0 0 0 58.20,1207.73Z" fill="#aca7cf" stroke="#fff" stroke-width="0.55" stroke-linejoin="round"/>
<path d="M48.30,1208.60A71.4,71.4 0 0 1 45.91,1204.28L53.76,1200.30A62.6,62.6 0 0 0 55.85,1204.09Z" fill="#b2acd2" stroke="#fff" stroke-width="0.55" stroke-linejoin="round"/>
<path d="M45.91,1204.28A71.4,71.4 0 0 1 44.08,1200.37L52.15,1196.87A62.6,62.6 0 0 0 53.76,1200.30Z" fill="#b8b2d5" stroke="#fff" stroke-width="0.55" stroke-linejoin="round"/>
<path d="M44.08,1200.37A71.4,71.4 0 0 1 42.48,1196.35L50.75,1193.35A62.6,62.6 0 0 0 52.15,1196.87Z" fill="#beb8d8" stroke="#fff" stroke-width="0.55" stroke-linejoin="round"/>
<path d="M42.48,1196.35A71.4,71.4 0 0 1 41.31,1192.84L49.73,1190.27A62.6,62.6 0 0 0 50.75,1193.35Z" fill="#c3bddb" stroke="#fff" stroke-width="0.55" stroke-linejoin="round"/>
<path d="M41.31,1192.84A71.4,71.4 0 0 1 40.32,1189.27L48.86,1187.14A62.6,62.6 0 0 0 49.73,1190.27Z" fill="#c9c3df" stroke="#fff" stroke-width="0.55" stroke-linejoin="round"/>
<path d="M40.32,1189.27A71.4,71.4 0 0 1 39.87,1156.67L48.46,1158.56A62.6,62.6 0 0 0 48.86,1187.14Z" fill="#d9d5e8" stroke="#fff" stroke-width="0.55" stroke-linejoin="round"/>
<path d="M39.87,1156.67A71.4,71.4 0 0 1 42.68,1147.11L50.93,1150.18A62.6,62.6 0 0 0 48.46,1158.56Z" fill="#b08fba" stroke="#fff" stroke-width="0.55" stroke-linejoin="round"/>
<path d="M42.68,1147.11A71.4,71.4 0 0 1 46.79,1138.04L54.53,1142.23A62.6,62.6 0 0 0 50.93,1150.18Z" fill="#b99bc2" stroke="#fff" stroke-width="0.55" stroke-linejoin="round"/>
<path d="M46.79,1138.04A71.4,71.4 0 0 1 48.79,1134.59L56.28,1139.20A62.6,62.6 0 0 0 54.53,1142.23Z" fill="#cdb5d3" stroke="#fff" stroke-width="0.55" stroke-linejoin="round"/>
<path d="M48.79,1134.59A71.4,71.4 0 0 1 54.59,1126.49L61.37,1132.10A62.6,62.6 0 0 0 56.28,1139.20Z" fill="#6e5199" stroke="#fff" stroke-width="0.55" stroke-linejoin="round"/>
<path d="M54.59,1126.49A71.4,71.4 0 0 1 60.54,1120.12L66.59,1126.52A62.6,62.6 0 0 0 61.37,1132.10Z" fill="#7d619f" stroke="#fff" stroke-width="0.55" stroke-linejoin="round"/>
<path d="M60.54,1120.12A71.4,71.4 0 0 1 66.36,1115.18L71.69,1122.19A62.6,62.6 0 0 0 66.59,1126.52Z" fill="#4a5a9f" stroke="#fff" stroke-width="0.55" stroke-linejoin="round"/>
<path d="M66.36,1115.18A71.4,71.4 0 0 1 71.58,1111.56L76.27,1119.01A62.6,62.6 0 0 0 71.69,1122.19Z" fill="#5f6fb0" stroke="#fff" stroke-width="0.55" stroke-linejoin="round"/>
<path d="M71.58,1111.56A71.4,71.4 0 0 1 75.42,1109.31L79.63,1117.04A62.6,62.6 0 0 0 76.27,1119.01Z" fill="#7585bd" stroke="#fff" stroke-width="0.55" stroke-linejoin="round"/>
<path d="M75.42,1109.31A71.4,71.4 0 0 1 84.35,1105.21L87.46,1113.45A62.6,62.6 0 0 0 79.63,1117.04Z" fill="#954a8e" stroke="#fff" stroke-width="0.55" stroke-linejoin="round"/>
<path d="M84.35,1105.21A71.4,71.4 0 0 1 88.42,1103.81L91.03,1112.22A62.6,62.6 0 0 0 87.46,1113.45Z" fill="#a968a3" stroke="#fff" stroke-width="0.55" stroke-linejoin="round"/>
<path d="M88.42,1103.81A71.4,71.4 0 0 1 91.96,1102.81L94.14,1111.34A62.6,62.6 0 0 0 91.03,1112.22Z" fill="#b57fb0" stroke="#fff" stroke-width="0.55" stroke-linejoin="round"/>
<path d="M91.96,1102.81A71.4,71.4 0 0 1 98.06,1101.54L99.48,1110.22A62.6,62.6 0 0 0 94.14,1111.34Z" fill="#1678b8" stroke="#fff" stroke-width="0.55" stroke-linejoin="round"/>
<path d="M98.06,1101.54A71.4,71.4 0 0 1 103.00,1100.91L103.82,1109.67A62.6,62.6 0 0 0 99.48,1110.22Z" fill="#2486c2" stroke="#fff" stroke-width="0.55" stroke-linejoin="round"/>
<path d="M103.00,1100.91A71.4,71.4 0 0 1 109.60,1100.60L109.60,1109.40A62.6,62.6 0 0 0 103.82,1109.67Z" fill="#3597cc" stroke="#fff" stroke-width="0.55" stroke-linejoin="round"/>
<circle cx="198.2" cy="1086" r="19.8" fill="#b093bc"/><circle cx="193.2" cy="1081.2" r="4.6" fill="#6f3f82"/>
<text x="178.00" y="1118.60" font-size="14" textLength="54.4" lengthAdjust="spacingAndGlyphs">Nucleus</text>
<line x1="3.30" y1="1268.60" x2="15.70" y2="1268.60" stroke="#3b378f" stroke-width="2.7"/>
<text x="23.10" y="1272.90" font-size="14" textLength="250.5" lengthAdjust="spacingAndGlyphs">Regulation of transcription from RNA</text>
<text x="23.10" y="1290.20" font-size="14" textLength="158.4" lengthAdjust="spacingAndGlyphs">polymerase II promoter</text>
<line x1="3.30" y1="1303.30" x2="15.70" y2="1303.30" stroke="#b08fba" stroke-width="2.7"/>
<text x="23.10" y="1307.60" font-size="14" textLength="159.2" lengthAdjust="spacingAndGlyphs">Chromatin organization</text>
<line x1="3.30" y1="1320.40" x2="15.70" y2="1320.40" stroke="#6e5199" stroke-width="2.7"/>
<text x="23.10" y="1324.70" font-size="14" textLength="190.0" lengthAdjust="spacingAndGlyphs">Macromolecule metabolism</text>
<line x1="3.30" y1="1338.50" x2="15.70" y2="1338.50" stroke="#4a5a9f" stroke-width="2.7"/>
<text x="23.10" y="1342.80" font-size="14" textLength="265.1" lengthAdjust="spacingAndGlyphs">Anterior/posterior pattern specification</text>
<line x1="3.30" y1="1355.90" x2="15.70" y2="1355.90" stroke="#954a8e" stroke-width="2.7"/>
<text x="23.10" y="1360.20" font-size="14" textLength="292.4" lengthAdjust="spacingAndGlyphs">Cellular response to DNA-damage stimulus</text>
<line x1="3.30" y1="1372.40" x2="15.70" y2="1372.40" stroke="#1678b8" stroke-width="2.7"/>
<text x="23.10" y="1376.70" font-size="14" textLength="38.5" lengthAdjust="spacingAndGlyphs">Other</text>
<path d="M442.40,1171.60L442.40,1109.40A62.2,62.2 0 0 1 476.82,1223.41Z" fill="#009480" stroke="#fff" stroke-width="0.55" stroke-linejoin="round"/>
<path d="M442.40,1171.60L476.82,1223.41A62.2,62.2 0 0 1 381.54,1184.43Z" fill="#52a373" stroke="#fff" stroke-width="0.55" stroke-linejoin="round"/>
<path d="M442.40,1171.60L381.54,1184.43A62.2,62.2 0 0 1 393.19,1133.56Z" fill="#0a5048" stroke="#fff" stroke-width="0.55" stroke-linejoin="round"/>
<path d="M442.40,1171.60L393.19,1133.56A62.2,62.2 0 0 1 411.39,1117.68Z" fill="#8cbf5a" stroke="#fff" stroke-width="0.55" stroke-linejoin="round"/>
<path d="M442.40,1171.60L411.39,1117.68A62.2,62.2 0 0 1 417.80,1114.47Z" fill="#4aa79b" stroke="#fff" stroke-width="0.55" stroke-linejoin="round"/>
<path d="M442.40,1171.60L417.80,1114.47A62.2,62.2 0 0 1 442.40,1109.40Z" fill="#6b9440" stroke="#fff" stroke-width="0.55" stroke-linejoin="round"/>
<path d="M442.40,1100.20A71.4,71.4 0 0 1 475.37,1108.27L471.31,1116.07A62.6,62.6 0 0 0 442.40,1109.00Z" fill="#009480" stroke="#fff" stroke-width="0.55" stroke-linejoin="round"/>
<path d="M475.37,1108.27A71.4,71.4 0 0 1 501.59,1131.67L494.30,1136.59A62.6,62.6 0 0 0 471.31,1116.07Z" fill="#009480" stroke="#fff" stroke-width="0.55" stroke-linejoin="round"/>
<path d="M501.59,1131.67A71.4,71.4 0 0 1 513.40,1164.01L504.65,1164.95A62.6,62.6 0 0 0 494.30,1136.59Z" fill="#039782" stroke="#fff" stroke-width="0.55" stroke-linejoin="round"/>
<path d="M513.40,1164.01A71.4,71.4 0 0 1 512.08,1187.18L503.49,1185.26A62.6,62.6 0 0 0 504.65,1164.95Z" fill="#0aa088" stroke="#fff" stroke-width="0.55" stroke-linejoin="round"/>
<path d="M512.08,1187.18A71.4,71.4 0 0 1 507.78,1200.30L499.72,1196.76A62.6,62.6 0 0 0 503.49,1185.26Z" fill="#1f9f8a" stroke="#fff" stroke-width="0.55" stroke-linejoin="round"/>
<path d="M507.78,1200.30A71.4,71.4 0 0 1 500.67,1212.86L493.49,1207.77A62.6,62.6 0 0 0 499.72,1196.76Z" fill="#3aab98" stroke="#fff" stroke-width="0.55" stroke-linejoin="round"/>
<path d="M500.67,1212.86A71.4,71.4 0 0 1 493.93,1221.02L487.58,1214.93A62.6,62.6 0 0 0 493.49,1207.77Z" fill="#66b5a6" stroke="#fff" stroke-width="0.55" stroke-linejoin="round"/>
<path d="M493.93,1221.02A71.4,71.4 0 0 1 490.08,1224.74L484.21,1218.19A62.6,62.6 0 0 0 487.58,1214.93Z" fill="#8fc9bb" stroke="#fff" stroke-width="0.55" stroke-linejoin="round"/>
<path d="M490.08,1224.74A71.4,71.4 0 0 1 485.96,1228.17L480.60,1221.20A62.6,62.6 0 0 0 484.21,1218.19Z" fill="#a4d3c7" stroke="#fff" stroke-width="0.55" stroke-linejoin="round"/>
<path d="M485.96,1228.17A71.4,71.4 0 0 1 481.91,1231.07L477.04,1223.74A62.6,62.6 0 0 0 480.60,1221.20Z" fill="#b9dcd3" stroke="#fff" stroke-width="0.55" stroke-linejoin="round"/>
<path d="M481.91,1231.07A71.4,71.4 0 0 1 473.11,1236.06L469.32,1228.11A62.6,62.6 0 0 0 477.04,1223.74Z" fill="#52a373" stroke="#fff" stroke-width="0.55" stroke-linejoin="round"/>
<path d="M473.11,1236.06A71.4,71.4 0 0 1 464.22,1239.58L461.53,1231.20A62.6,62.6 0 0 0 469.32,1228.11Z" fill="#59a678" stroke="#fff" stroke-width="0.55" stroke-linejoin="round"/>
<path d="M464.22,1239.58A71.4,71.4 0 0 1 455.50,1241.79L453.89,1233.14A62.6,62.6 0 0 0 461.53,1231.20Z" fill="#5fa97d" stroke="#fff" stroke-width="0.55" stroke-linejoin="round"/>
<path d="M455.50,1241.79A71.4,71.4 0 0 1 447.13,1242.84L446.55,1234.06A62.6,62.6 0 0 0 453.89,1233.14Z" fill="#64ac81" stroke="#fff" stroke-width="0.55" stroke-linejoin="round"/>
<path d="M447.13,1242.84A71.4,71.4 0 0 1 439.26,1242.93L439.65,1234.14A62.6,62.6 0 0 0 446.55,1234.06Z" fill="#6aaf85" stroke="#fff" stroke-width="0.55" stroke-linejoin="round"/>
<path d="M439.26,1242.93A71.4,71.4 0 0 1 431.43,1242.15L432.78,1233.46A62.6,62.6 0 0 0 439.65,1234.14Z" fill="#6fb189" stroke="#fff" stroke-width="0.55" stroke-linejoin="round"/>
<path d="M431.43,1242.15A71.4,71.4 0 0 1 424.27,1240.66L426.50,1232.15A62.6,62.6 0 0 0 432.78,1233.46Z" fill="#74b48d" stroke="#fff" stroke-width="0.55" stroke-linejoin="round"/>
<path d="M424.27,1240.66A71.4,71.4 0 0 1 417.83,1238.64L420.86,1230.38A62.6,62.6 0 0 0 426.50,1232.15Z" fill="#79b690" stroke="#fff" stroke-width="0.55" stroke-linejoin="round"/>
<path d="M417.83,1238.64A71.4,71.4 0 0 1 412.63,1236.50L416.30,1228.50A62.6,62.6 0 0 0 420.86,1230.38Z" fill="#7eb994" stroke="#fff" stroke-width="0.55" stroke-linejoin="round"/>
<path d="M412.63,1236.50A71.4,71.4 0 0 1 408.11,1234.22L412.33,1226.51A62.6,62.6 0 0 0 416.30,1228.50Z" fill="#83bb98" stroke="#fff" stroke-width="0.55" stroke-linejoin="round"/>
<path d="M408.11,1234.22A71.4,71.4 0 0 1 404.23,1231.94L408.93,1224.50A62.6,62.6 0 0 0 412.33,1226.51Z" fill="#88be9c" stroke="#fff" stroke-width="0.55" stroke-linejoin="round"/>
<path d="M404.23,1231.94A71.4,71.4 0 0 1 400.96,1229.74L406.07,1222.58A62.6,62.6 0 0 0 408.93,1224.50Z" fill="#8dc09f" stroke="#fff" stroke-width="0.55" stroke-linejoin="round"/>
<path d="M400.96,1229.74A71.4,71.4 0 0 1 398.26,1227.72L403.70,1220.80A62.6,62.6 0 0 0 406.07,1222.58Z" fill="#92c2a3" stroke="#fff" stroke-width="0.55" stroke-linejoin="round"/>
<path d="M398.26,1227.72A71.4,71.4 0 0 1 396.08,1225.94L401.79,1219.24A62.6,62.6 0 0 0 403.70,1220.80Z" fill="#97c5a6" stroke="#fff" stroke-width="0.55" stroke-linejoin="round"/>
<path d="M396.08,1225.94A71.4,71.4 0 0 1 393.98,1224.07L399.94,1217.60A62.6,62.6 0 0 0 401.79,1219.24Z" fill="#9bc7aa" stroke="#fff" stroke-width="0.55" stroke-linejoin="round"/>
<path d="M393.98,1224.07A71.4,71.4 0 0 1 392.19,1222.36L398.38,1216.10A62.6,62.6 0 0 0 399.94,1217.60Z" fill="#a0c9ae" stroke="#fff" stroke-width="0.55" stroke-linejoin="round"/>
<path d="M392.19,1222.36A71.4,71.4 0 0 1 390.61,1220.75L397.00,1214.69A62.6,62.6 0 0 0 398.38,1216.10Z" fill="#a5cbb1" stroke="#fff" stroke-width="0.55" stroke-linejoin="round"/>
<path d="M390.61,1220.75A71.4,71.4 0 0 1 389.09,1219.10L395.66,1213.24A62.6,62.6 0 0 0 397.00,1214.69Z" fill="#a9ceb5" stroke="#fff" stroke-width="0.55" stroke-linejoin="round"/>
<path d="M389.09,1219.10A71.4,71.4 0 0 1 372.53,1186.32L381.15,1184.51A62.6,62.6 0 0 0 395.66,1213.24Z" fill="#b9d6c2" stroke="#fff" stroke-width="0.55" stroke-linejoin="round"/>
<path d="M372.53,1186.32A71.4,71.4 0 0 1 371.06,1174.61L379.86,1174.24A62.6,62.6 0 0 0 381.15,1184.51Z" fill="#0a5048" stroke="#fff" stroke-width="0.55" stroke-linejoin="round"/>
<path d="M371.06,1174.61A71.4,71.4 0 0 1 371.54,1162.82L380.27,1163.90A62.6,62.6 0 0 0 379.86,1174.24Z" fill="#0f564d" stroke="#fff" stroke-width="0.55" stroke-linejoin="round"/>
<path d="M371.54,1162.82A71.4,71.4 0 0 1 373.96,1151.27L382.39,1153.78A62.6,62.6 0 0 0 380.27,1163.90Z" fill="#155c52" stroke="#fff" stroke-width="0.55" stroke-linejoin="round"/>
<path d="M373.96,1151.27A71.4,71.4 0 0 1 377.97,1140.83L385.91,1144.63A62.6,62.6 0 0 0 382.39,1153.78Z" fill="#1a6156" stroke="#fff" stroke-width="0.55" stroke-linejoin="round"/>
<path d="M377.97,1140.83A71.4,71.4 0 0 1 382.87,1132.18L390.20,1137.04A62.6,62.6 0 0 0 385.91,1144.63Z" fill="#1f6a5a" stroke="#fff" stroke-width="0.55" stroke-linejoin="round"/>
<path d="M382.87,1132.18A71.4,71.4 0 0 1 384.42,1129.93L391.57,1135.07A62.6,62.6 0 0 0 390.20,1137.04Z" fill="#22705f" stroke="#fff" stroke-width="0.55" stroke-linejoin="round"/>
<path d="M384.42,1129.93A71.4,71.4 0 0 1 385.91,1127.94L392.87,1133.32A62.6,62.6 0 0 0 391.57,1135.07Z" fill="#2a7a68" stroke="#fff" stroke-width="0.55" stroke-linejoin="round"/>
<path d="M385.91,1127.94A71.4,71.4 0 0 1 392.53,1120.50L398.68,1126.80A62.6,62.6 0 0 0 392.87,1133.32Z" fill="#8cbf5a" stroke="#fff" stroke-width="0.55" stroke-linejoin="round"/>
<path d="M392.53,1120.50A71.4,71.4 0 0 1 395.46,1117.80L401.25,1124.43A62.6,62.6 0 0 0 398.68,1126.80Z" fill="#98c667" stroke="#fff" stroke-width="0.55" stroke-linejoin="round"/>
<path d="M395.46,1117.80A71.4,71.4 0 0 1 398.34,1115.41L403.77,1122.34A62.6,62.6 0 0 0 401.25,1124.43Z" fill="#a0cb70" stroke="#fff" stroke-width="0.55" stroke-linejoin="round"/>
<path d="M398.34,1115.41A71.4,71.4 0 0 1 401.14,1113.33L406.23,1120.51A62.6,62.6 0 0 0 403.77,1122.34Z" fill="#a8cf7a" stroke="#fff" stroke-width="0.55" stroke-linejoin="round"/>
<path d="M401.14,1113.33A71.4,71.4 0 0 1 403.83,1111.52L408.58,1118.92A62.6,62.6 0 0 0 406.23,1120.51Z" fill="#b0d486" stroke="#fff" stroke-width="0.55" stroke-linejoin="round"/>
<path d="M403.83,1111.52A71.4,71.4 0 0 1 406.81,1109.70L411.19,1117.33A62.6,62.6 0 0 0 408.58,1118.92Z" fill="#bad992" stroke="#fff" stroke-width="0.55" stroke-linejoin="round"/>
<path d="M406.81,1109.70A71.4,71.4 0 0 1 414.16,1106.02L417.64,1114.11A62.6,62.6 0 0 0 411.19,1117.33Z" fill="#4aa79b" stroke="#fff" stroke-width="0.55" stroke-linejoin="round"/>
<path d="M414.16,1106.02A71.4,71.4 0 0 1 421.76,1103.25L424.31,1111.67A62.6,62.6 0 0 0 417.64,1114.11Z" fill="#6b9440" stroke="#fff" stroke-width="0.55" stroke-linejoin="round"/>
<path d="M421.76,1103.25A71.4,71.4 0 0 1 428.41,1101.58L430.13,1110.21A62.6,62.6 0 0 0 424.31,1111.67Z" fill="#76a048" stroke="#fff" stroke-width="0.55" stroke-linejoin="round"/>
<path d="M428.41,1101.58A71.4,71.4 0 0 1 433.95,1100.70L434.99,1109.44A62.6,62.6 0 0 0 430.13,1110.21Z" fill="#84aa55" stroke="#fff" stroke-width="0.55" stroke-linejoin="round"/>
<path d="M433.95,1100.70A71.4,71.4 0 0 1 437.67,1100.36L438.25,1109.14A62.6,62.6 0 0 0 434.99,1109.44Z" fill="#93b565" stroke="#fff" stroke-width="0.55" stroke-linejoin="round"/>
<path d="M437.67,1100.36A71.4,71.4 0 0 1 440.16,1100.24L440.43,1109.03A62.6,62.6 0 0 0 438.25,1109.14Z" fill="#a5c27c" stroke="#fff" stroke-width="0.55" stroke-linejoin="round"/>
<path d="M440.16,1100.24A71.4,71.4 0 0 1 442.40,1100.20L442.40,1109.00A62.6,62.6 0 0 0 440.43,1109.03Z" fill="#b8cf95" stroke="#fff" stroke-width="0.55" stroke-linejoin="round"/>
<circle cx="521.6" cy="1081.6" r="9.6" fill="#8fc3a3"/><circle cx="545.6" cy="1091" r="9.8" fill="#8fc3a3"/>
<text x="500.60" y="1118.60" font-size="14" textLength="85.4" lengthAdjust="spacingAndGlyphs">Peroxisomes</text>
<line x1="345.70" y1="1269.40" x2="358.00" y2="1269.40" stroke="#009480" stroke-width="2.7"/>
<text x="364.40" y="1273.70" font-size="14" textLength="163.1" lengthAdjust="spacingAndGlyphs">Peroxisome organization</text>
<line x1="345.70" y1="1285.90" x2="358.00" y2="1285.90" stroke="#52a373" stroke-width="2.7"/>
<text x="364.40" y="1290.20" font-size="14" textLength="225.5" lengthAdjust="spacingAndGlyphs">Carboxylic acid catabolic process</text>
<line x1="345.70" y1="1301.90" x2="358.00" y2="1301.90" stroke="#0a5048" stroke-width="2.7"/>
<text x="364.40" y="1306.20" font-size="14" textLength="132.0" lengthAdjust="spacingAndGlyphs">Cellular localization</text>
<line x1="345.70" y1="1318.10" x2="358.00" y2="1318.10" stroke="#8cbf5a" stroke-width="2.7"/>
<text x="364.40" y="1322.40" font-size="14" textLength="231.3" lengthAdjust="spacingAndGlyphs">Small molecule metabolic process</text>
<line x1="345.70" y1="1334.00" x2="358.00" y2="1334.00" stroke="#4aa79b" stroke-width="2.7"/>
<text x="364.40" y="1338.30" font-size="14" textLength="120.5" lengthAdjust="spacingAndGlyphs">Catabolic process</text>
<line x1="345.70" y1="1350.30" x2="358.00" y2="1350.30" stroke="#6b9440" stroke-width="2.7"/>
<text x="364.40" y="1354.60" font-size="14" textLength="38.5" lengthAdjust="spacingAndGlyphs">Other</text>
<path d="M109.40,1531.00L109.40,1468.80A62.2,62.2 0 1 1 59.59,1568.26Z" fill="#cc97b9" stroke="#fff" stroke-width="0.55" stroke-linejoin="round"/>
<path d="M109.40,1531.00L59.59,1568.26A62.2,62.2 0 0 1 51.25,1508.91Z" fill="#945483" stroke="#fff" stroke-width="0.55" stroke-linejoin="round"/>
<path d="M109.40,1531.00L51.25,1508.91A62.2,62.2 0 0 1 77.74,1477.46Z" fill="#6b68a5" stroke="#fff" stroke-width="0.55" stroke-linejoin="round"/>
<path d="M109.40,1531.00L77.74,1477.46A62.2,62.2 0 0 1 94.67,1470.57Z" fill="#c26393" stroke="#fff" stroke-width="0.55" stroke-linejoin="round"/>
<path d="M109.40,1531.00L94.67,1470.57A62.2,62.2 0 0 1 102.47,1469.19Z" fill="#8c7ab0" stroke="#fff" stroke-width="0.55" stroke-linejoin="round"/>
<path d="M109.40,1531.00L102.47,1469.19A62.2,62.2 0 0 1 109.40,1468.80Z" fill="#dc6a8a" stroke="#fff" stroke-width="0.55" stroke-linejoin="round"/>
<path d="M109.40,1459.60A71.4,71.4 0 0 1 132.76,1463.53L129.88,1471.85A62.6,62.6 0 0 0 109.40,1468.40Z" fill="#cc97b9" stroke="#fff" stroke-width="0.55" stroke-linejoin="round"/>
<path d="M132.76,1463.53A71.4,71.4 0 0 1 154.91,1475.99L149.30,1482.77A62.6,62.6 0 0 0 129.88,1471.85Z" fill="#ce9dbd" stroke="#fff" stroke-width="0.55" stroke-linejoin="round"/>
<path d="M154.91,1475.99A71.4,71.4 0 0 1 170.34,1493.80L162.83,1498.38A62.6,62.6 0 0 0 149.30,1482.77Z" fill="#cfa2c0" stroke="#fff" stroke-width="0.55" stroke-linejoin="round"/>
<path d="M170.34,1493.80A71.4,71.4 0 0 1 179.44,1517.13L170.81,1518.84A62.6,62.6 0 0 0 162.83,1498.38Z" fill="#d0a6c3" stroke="#fff" stroke-width="0.55" stroke-linejoin="round"/>
<path d="M179.44,1517.13A71.4,71.4 0 0 1 180.34,1539.08L171.60,1538.09A62.6,62.6 0 0 0 170.81,1518.84Z" fill="#d1aac6" stroke="#fff" stroke-width="0.55" stroke-linejoin="round"/>
<path d="M180.34,1539.08A71.4,71.4 0 0 1 174.73,1559.81L166.68,1556.26A62.6,62.6 0 0 0 171.60,1538.09Z" fill="#d2aec8" stroke="#fff" stroke-width="0.55" stroke-linejoin="round"/>
<path d="M174.73,1559.81A71.4,71.4 0 0 1 162.13,1579.15L155.63,1573.21A62.6,62.6 0 0 0 166.68,1556.26Z" fill="#d3b2ca" stroke="#fff" stroke-width="0.55" stroke-linejoin="round"/>
<path d="M162.13,1579.15A71.4,71.4 0 0 1 143.03,1593.98L138.89,1586.22A62.6,62.6 0 0 0 155.63,1573.21Z" fill="#d4b5cd" stroke="#fff" stroke-width="0.55" stroke-linejoin="round"/>
<path d="M143.03,1593.98A71.4,71.4 0 0 1 127.28,1600.13L125.07,1591.61A62.6,62.6 0 0 0 138.89,1586.22Z" fill="#d5b9cf" stroke="#fff" stroke-width="0.55" stroke-linejoin="round"/>
<path d="M127.28,1600.13A71.4,71.4 0 0 1 116.86,1602.01L115.94,1593.26A62.6,62.6 0 0 0 125.07,1591.61Z" fill="#d6bcd1" stroke="#fff" stroke-width="0.55" stroke-linejoin="round"/>
<path d="M116.86,1602.01A71.4,71.4 0 0 1 106.91,1602.36L107.22,1593.56A62.6,62.6 0 0 0 115.94,1593.26Z" fill="#d7c0d3" stroke="#fff" stroke-width="0.55" stroke-linejoin="round"/>
<path d="M106.91,1602.36A71.4,71.4 0 0 1 97.62,1601.42L99.07,1592.74A62.6,62.6 0 0 0 107.22,1593.56Z" fill="#d8c3d5" stroke="#fff" stroke-width="0.55" stroke-linejoin="round"/>
<path d="M97.62,1601.42A71.4,71.4 0 0 1 88.52,1599.28L91.10,1590.86A62.6,62.6 0 0 0 99.07,1592.74Z" fill="#d9c6d7" stroke="#fff" stroke-width="0.55" stroke-linejoin="round"/>
<path d="M88.52,1599.28A71.4,71.4 0 0 1 79.79,1595.97L83.44,1587.96A62.6,62.6 0 0 0 91.10,1590.86Z" fill="#dac9d9" stroke="#fff" stroke-width="0.55" stroke-linejoin="round"/>
<path d="M79.79,1595.97A71.4,71.4 0 0 1 71.56,1591.55L76.23,1584.09A62.6,62.6 0 0 0 83.44,1587.96Z" fill="#dbccdb" stroke="#fff" stroke-width="0.55" stroke-linejoin="round"/>
<path d="M71.56,1591.55A71.4,71.4 0 0 1 63.98,1586.09L69.58,1579.30A62.6,62.6 0 0 0 76.23,1584.09Z" fill="#dbcfdd" stroke="#fff" stroke-width="0.55" stroke-linejoin="round"/>
<path d="M63.98,1586.09A71.4,71.4 0 0 1 57.61,1580.15L63.99,1574.09A62.6,62.6 0 0 0 69.58,1579.30Z" fill="#dcd2df" stroke="#fff" stroke-width="0.55" stroke-linejoin="round"/>
<path d="M57.61,1580.15A71.4,71.4 0 0 1 52.23,1573.77L59.27,1568.50A62.6,62.6 0 0 0 63.99,1574.09Z" fill="#ddd5e1" stroke="#fff" stroke-width="0.55" stroke-linejoin="round"/>
<path d="M52.23,1573.77A71.4,71.4 0 0 1 45.67,1563.19L53.52,1559.22A62.6,62.6 0 0 0 59.27,1568.50Z" fill="#945483" stroke="#fff" stroke-width="0.55" stroke-linejoin="round"/>
<path d="M45.67,1563.19A71.4,71.4 0 0 1 41.42,1552.83L49.80,1550.14A62.6,62.6 0 0 0 53.52,1559.22Z" fill="#9b5e8c" stroke="#fff" stroke-width="0.55" stroke-linejoin="round"/>
<path d="M41.42,1552.83A71.4,71.4 0 0 1 38.94,1542.54L47.62,1541.12A62.6,62.6 0 0 0 49.80,1550.14Z" fill="#a36895" stroke="#fff" stroke-width="0.55" stroke-linejoin="round"/>
<path d="M38.94,1542.54A71.4,71.4 0 0 1 38.01,1532.00L46.81,1531.87A62.6,62.6 0 0 0 47.62,1541.12Z" fill="#aa729e" stroke="#fff" stroke-width="0.55" stroke-linejoin="round"/>
<path d="M38.01,1532.00A71.4,71.4 0 0 1 38.56,1522.05L47.29,1523.15A62.6,62.6 0 0 0 46.81,1531.87Z" fill="#b17ba8" stroke="#fff" stroke-width="0.55" stroke-linejoin="round"/>
<path d="M38.56,1522.05A71.4,71.4 0 0 1 40.18,1513.49L48.71,1515.64A62.6,62.6 0 0 0 47.29,1523.15Z" fill="#b985b1" stroke="#fff" stroke-width="0.55" stroke-linejoin="round"/>
<path d="M40.18,1513.49A71.4,71.4 0 0 1 42.65,1505.65L50.88,1508.77A62.6,62.6 0 0 0 48.71,1515.64Z" fill="#c08fba" stroke="#fff" stroke-width="0.55" stroke-linejoin="round"/>
<path d="M42.65,1505.65A71.4,71.4 0 0 1 50.07,1491.28L57.38,1496.18A62.6,62.6 0 0 0 50.88,1508.77Z" fill="#6b68a5" stroke="#fff" stroke-width="0.55" stroke-linejoin="round"/>
<path d="M50.07,1491.28A71.4,71.4 0 0 1 57.44,1482.03L63.84,1488.07A62.6,62.6 0 0 0 57.38,1496.18Z" fill="#7776af" stroke="#fff" stroke-width="0.55" stroke-linejoin="round"/>
<path d="M57.44,1482.03A71.4,71.4 0 0 1 65.25,1474.89L70.69,1481.81A62.6,62.6 0 0 0 63.84,1488.07Z" fill="#8484ba" stroke="#fff" stroke-width="0.55" stroke-linejoin="round"/>
<path d="M65.25,1474.89A71.4,71.4 0 0 1 73.05,1469.54L77.53,1477.12A62.6,62.6 0 0 0 70.69,1481.81Z" fill="#9092c4" stroke="#fff" stroke-width="0.55" stroke-linejoin="round"/>
<path d="M73.05,1469.54A71.4,71.4 0 0 1 92.49,1461.63L94.57,1470.18A62.6,62.6 0 0 0 77.53,1477.12Z" fill="#c26393" stroke="#fff" stroke-width="0.55" stroke-linejoin="round"/>
<path d="M92.49,1461.63A71.4,71.4 0 0 1 101.44,1460.04L102.42,1468.79A62.6,62.6 0 0 0 94.57,1470.18Z" fill="#8c7ab0" stroke="#fff" stroke-width="0.55" stroke-linejoin="round"/>
<path d="M101.44,1460.04A71.4,71.4 0 0 1 109.40,1459.60L109.40,1468.40A62.6,62.6 0 0 0 102.42,1468.79Z" fill="#dc6a8a" stroke="#fff" stroke-width="0.55" stroke-linejoin="round"/>
<g fill="none" stroke="#e595b0" stroke-linecap="round"><path d="M98,1427 C112,1429.6 136,1429.8 152,1428.3" stroke-width="6.2"/><path d="M93.8,1440.3 C104,1439.5 110,1433.7 120,1433.7 C131,1433.7 137,1441 144.7,1442.3" stroke-width="5.4"/><path d="M101.5,1448.3 C108,1447.5 110,1441.8 118,1441.8 C126,1441.8 127,1449 130.4,1451.7" stroke-width="5.6"/></g><g fill="#e595b0"><ellipse cx="99" cy="1427" rx="6.4" ry="4.3"/><ellipse cx="151" cy="1428.4" rx="6.2" ry="4.4"/><ellipse cx="94.6" cy="1440.3" rx="5.6" ry="4.4" transform="rotate(-12 94.6 1440.3)"/><ellipse cx="144.2" cy="1442.2" rx="5.6" ry="4.9" transform="rotate(20 144.2 1442.2)"/><ellipse cx="101.6" cy="1448.4" rx="4.6" ry="3.9"/><ellipse cx="130.5" cy="1451.6" rx="4.9" ry="4.9"/></g>
<text x="169.60" y="1435.00" font-size="14" textLength="36.4" lengthAdjust="spacingAndGlyphs">Golgi</text>
<text x="169.60" y="1452.40" font-size="14" textLength="66.4" lengthAdjust="spacingAndGlyphs">apparatus</text>
<line x1="3.30" y1="1629.90" x2="15.70" y2="1629.90" stroke="#cc97b9" stroke-width="2.7"/>
<text x="23.10" y="1634.20" font-size="14" textLength="183.7" lengthAdjust="spacingAndGlyphs">Vesicle-mediated transport</text>
<line x1="3.30" y1="1645.90" x2="15.70" y2="1645.90" stroke="#945483" stroke-width="2.7"/>
<text x="23.10" y="1650.20" font-size="14" textLength="92.4" lengthAdjust="spacingAndGlyphs">Glycosylation</text>
<line x1="3.30" y1="1661.50" x2="15.70" y2="1661.50" stroke="#6b68a5" stroke-width="2.7"/>
<text x="23.10" y="1665.80" font-size="14" textLength="124.6" lengthAdjust="spacingAndGlyphs">Golgi organization</text>
<line x1="3.30" y1="1677.20" x2="15.70" y2="1677.20" stroke="#c26393" stroke-width="2.7"/>
<text x="23.10" y="1681.50" font-size="14" textLength="80.9" lengthAdjust="spacingAndGlyphs">Localization</text>
<line x1="3.30" y1="1692.90" x2="15.70" y2="1692.90" stroke="#8c7ab0" stroke-width="2.7"/>
<text x="23.10" y="1697.20" font-size="14" textLength="306.1" lengthAdjust="spacingAndGlyphs">Regulation of Rab protein signal transduction</text>
<line x1="3.30" y1="1709.40" x2="15.70" y2="1709.40" stroke="#dc6a8a" stroke-width="2.7"/>
<text x="23.10" y="1713.70" font-size="14" textLength="38.5" lengthAdjust="spacingAndGlyphs">Other</text>
<path d="M442.40,1531.00L442.40,1468.80A62.2,62.2 0 0 1 461.52,1590.19Z" fill="#3a60aa" stroke="#fff" stroke-width="0.55" stroke-linejoin="round"/>
<path d="M442.40,1531.00L461.52,1590.19A62.2,62.2 0 0 1 388.86,1499.34Z" fill="#17808e" stroke="#fff" stroke-width="0.55" stroke-linejoin="round"/>
<path d="M442.40,1531.00L388.86,1499.34A62.2,62.2 0 0 1 413.39,1475.98Z" fill="#6288b3" stroke="#fff" stroke-width="0.55" stroke-linejoin="round"/>
<path d="M442.40,1531.00L413.39,1475.98A62.2,62.2 0 0 1 427.04,1470.73Z" fill="#615aa0" stroke="#fff" stroke-width="0.55" stroke-linejoin="round"/>
<path d="M442.40,1531.00L427.04,1470.73A62.2,62.2 0 0 1 436.01,1469.13Z" fill="#2c6a84" stroke="#fff" stroke-width="0.55" stroke-linejoin="round"/>
<path d="M442.40,1531.00L436.01,1469.13A62.2,62.2 0 0 1 442.40,1468.80Z" fill="#0ca0d5" stroke="#fff" stroke-width="0.55" stroke-linejoin="round"/>
<path d="M442.40,1459.60A71.4,71.4 0 0 1 456.43,1460.99L454.70,1469.62A62.6,62.6 0 0 0 442.40,1468.40Z" fill="#3a60aa" stroke="#fff" stroke-width="0.55" stroke-linejoin="round"/>
<path d="M456.43,1460.99A71.4,71.4 0 0 1 469.38,1464.89L466.05,1473.04A62.6,62.6 0 0 0 454.70,1469.62Z" fill="#3a60aa" stroke="#fff" stroke-width="0.55" stroke-linejoin="round"/>
<path d="M469.38,1464.89A71.4,71.4 0 0 1 481.35,1471.16L476.55,1478.54A62.6,62.6 0 0 0 466.05,1473.04Z" fill="#3a60aa" stroke="#fff" stroke-width="0.55" stroke-linejoin="round"/>
<path d="M481.35,1471.16A71.4,71.4 0 0 1 491.93,1479.57L485.83,1485.91A62.6,62.6 0 0 0 476.55,1478.54Z" fill="#4265ad" stroke="#fff" stroke-width="0.55" stroke-linejoin="round"/>
<path d="M491.93,1479.57A71.4,71.4 0 0 1 500.74,1489.83L493.55,1494.91A62.6,62.6 0 0 0 485.83,1485.91Z" fill="#496ab0" stroke="#fff" stroke-width="0.55" stroke-linejoin="round"/>
<path d="M500.74,1489.83A71.4,71.4 0 0 1 507.20,1501.03L499.22,1504.72A62.6,62.6 0 0 0 493.55,1494.91Z" fill="#5070b3" stroke="#fff" stroke-width="0.55" stroke-linejoin="round"/>
<path d="M507.20,1501.03A71.4,71.4 0 0 1 511.40,1512.64L502.89,1514.90A62.6,62.6 0 0 0 499.22,1504.72Z" fill="#5875b6" stroke="#fff" stroke-width="0.55" stroke-linejoin="round"/>
<path d="M511.40,1512.64A71.4,71.4 0 0 1 513.48,1524.21L504.72,1525.05A62.6,62.6 0 0 0 502.89,1514.90Z" fill="#607ab9" stroke="#fff" stroke-width="0.55" stroke-linejoin="round"/>
<path d="M513.48,1524.21A71.4,71.4 0 0 1 513.67,1535.38L504.88,1534.84A62.6,62.6 0 0 0 504.72,1525.05Z" fill="#677fbc" stroke="#fff" stroke-width="0.55" stroke-linejoin="round"/>
<path d="M513.67,1535.38A71.4,71.4 0 0 1 512.23,1545.87L503.63,1544.04A62.6,62.6 0 0 0 504.88,1534.84Z" fill="#6e84c0" stroke="#fff" stroke-width="0.55" stroke-linejoin="round"/>
<path d="M512.23,1545.87A71.4,71.4 0 0 1 509.47,1555.48L501.21,1552.46A62.6,62.6 0 0 0 503.63,1544.04Z" fill="#768ac3" stroke="#fff" stroke-width="0.55" stroke-linejoin="round"/>
<path d="M509.47,1555.48A71.4,71.4 0 0 1 505.67,1564.09L497.87,1560.01A62.6,62.6 0 0 0 501.21,1552.46Z" fill="#7e8fc6" stroke="#fff" stroke-width="0.55" stroke-linejoin="round"/>
<path d="M505.67,1564.09A71.4,71.4 0 0 1 500.77,1572.12L493.58,1567.05A62.6,62.6 0 0 0 497.87,1560.01Z" fill="#8594c9" stroke="#fff" stroke-width="0.55" stroke-linejoin="round"/>
<path d="M500.77,1572.12A71.4,71.4 0 0 1 495.25,1579.01L488.74,1573.09A62.6,62.6 0 0 0 493.58,1567.05Z" fill="#8c99cc" stroke="#fff" stroke-width="0.55" stroke-linejoin="round"/>
<path d="M495.25,1579.01A71.4,71.4 0 0 1 488.93,1585.16L483.19,1578.48A62.6,62.6 0 0 0 488.74,1573.09Z" fill="#949fcf" stroke="#fff" stroke-width="0.55" stroke-linejoin="round"/>
<path d="M488.93,1585.16A71.4,71.4 0 0 1 482.38,1590.16L477.45,1582.87A62.6,62.6 0 0 0 483.19,1578.48Z" fill="#9ca4d2" stroke="#fff" stroke-width="0.55" stroke-linejoin="round"/>
<path d="M482.38,1590.16A71.4,71.4 0 0 1 464.35,1598.94L461.64,1590.57A62.6,62.6 0 0 0 477.45,1582.87Z" fill="#aab1da" stroke="#fff" stroke-width="0.55" stroke-linejoin="round"/>
<path d="M464.35,1598.94A71.4,71.4 0 0 1 449.98,1602.00L449.05,1593.25A62.6,62.6 0 0 0 461.64,1590.57Z" fill="#17808e" stroke="#fff" stroke-width="0.55" stroke-linejoin="round"/>
<path d="M449.98,1602.00A71.4,71.4 0 0 1 435.86,1602.10L436.66,1593.34A62.6,62.6 0 0 0 449.05,1593.25Z" fill="#2a9ba0" stroke="#fff" stroke-width="0.55" stroke-linejoin="round"/>
<path d="M435.86,1602.10A71.4,71.4 0 0 1 424.17,1600.03L426.41,1591.52A62.6,62.6 0 0 0 436.66,1593.34Z" fill="#3c949d" stroke="#fff" stroke-width="0.55" stroke-linejoin="round"/>
<path d="M424.17,1600.03A71.4,71.4 0 0 1 415.06,1596.96L418.43,1588.83A62.6,62.6 0 0 0 426.41,1591.52Z" fill="#489ba2" stroke="#fff" stroke-width="0.55" stroke-linejoin="round"/>
<path d="M415.06,1596.96A71.4,71.4 0 0 1 406.94,1592.97L411.31,1585.33A62.6,62.6 0 0 0 418.43,1588.83Z" fill="#53a1a7" stroke="#fff" stroke-width="0.55" stroke-linejoin="round"/>
<path d="M406.94,1592.97A71.4,71.4 0 0 1 399.84,1588.33L405.08,1581.26A62.6,62.6 0 0 0 411.31,1585.33Z" fill="#5da7ab" stroke="#fff" stroke-width="0.55" stroke-linejoin="round"/>
<path d="M399.84,1588.33A71.4,71.4 0 0 1 393.34,1582.87L399.39,1576.48A62.6,62.6 0 0 0 405.08,1581.26Z" fill="#67acaf" stroke="#fff" stroke-width="0.55" stroke-linejoin="round"/>
<path d="M393.34,1582.87A71.4,71.4 0 0 1 387.90,1577.12L394.61,1571.44A62.6,62.6 0 0 0 399.39,1576.48Z" fill="#70b1b3" stroke="#fff" stroke-width="0.55" stroke-linejoin="round"/>
<path d="M387.90,1577.12A71.4,71.4 0 0 1 383.12,1570.80L390.43,1565.90A62.6,62.6 0 0 0 394.61,1571.44Z" fill="#79b6b7" stroke="#fff" stroke-width="0.55" stroke-linejoin="round"/>
<path d="M383.12,1570.80A71.4,71.4 0 0 1 379.08,1564.00L386.89,1559.93A62.6,62.6 0 0 0 390.43,1565.90Z" fill="#81baba" stroke="#fff" stroke-width="0.55" stroke-linejoin="round"/>
<path d="M379.08,1564.00A71.4,71.4 0 0 1 376.02,1557.31L384.20,1554.07A62.6,62.6 0 0 0 386.89,1559.93Z" fill="#89bfbe" stroke="#fff" stroke-width="0.55" stroke-linejoin="round"/>
<path d="M376.02,1557.31A71.4,71.4 0 0 1 373.67,1550.34L382.14,1547.96A62.6,62.6 0 0 0 384.20,1554.07Z" fill="#91c3c1" stroke="#fff" stroke-width="0.55" stroke-linejoin="round"/>
<path d="M373.67,1550.34A71.4,71.4 0 0 1 372.05,1543.17L380.72,1541.67A62.6,62.6 0 0 0 382.14,1547.96Z" fill="#99c7c4" stroke="#fff" stroke-width="0.55" stroke-linejoin="round"/>
<path d="M372.05,1543.17A71.4,71.4 0 0 1 371.21,1536.43L379.98,1535.77A62.6,62.6 0 0 0 380.72,1541.67Z" fill="#a1cbc7" stroke="#fff" stroke-width="0.55" stroke-linejoin="round"/>
<path d="M371.21,1536.43A71.4,71.4 0 0 1 371.01,1529.65L379.81,1529.82A62.6,62.6 0 0 0 379.98,1535.77Z" fill="#a8cfca" stroke="#fff" stroke-width="0.55" stroke-linejoin="round"/>
<path d="M371.01,1529.65A71.4,71.4 0 0 1 371.46,1522.88L380.21,1523.88A62.6,62.6 0 0 0 379.81,1529.82Z" fill="#afd3cd" stroke="#fff" stroke-width="0.55" stroke-linejoin="round"/>
<path d="M371.46,1522.88A71.4,71.4 0 0 1 372.56,1516.18L381.16,1518.00A62.6,62.6 0 0 0 380.21,1523.88Z" fill="#b6d7d0" stroke="#fff" stroke-width="0.55" stroke-linejoin="round"/>
<path d="M372.56,1516.18A71.4,71.4 0 0 1 380.94,1494.65L388.52,1499.13A62.6,62.6 0 0 0 381.16,1518.00Z" fill="#bddbd5" stroke="#fff" stroke-width="0.55" stroke-linejoin="round"/>
<path d="M380.94,1494.65A71.4,71.4 0 0 1 389.39,1483.17L395.93,1489.06A62.6,62.6 0 0 0 388.52,1499.13Z" fill="#6288b3" stroke="#fff" stroke-width="0.55" stroke-linejoin="round"/>
<path d="M389.39,1483.17A71.4,71.4 0 0 1 396.54,1476.27L402.19,1483.02A62.6,62.6 0 0 0 395.93,1489.06Z" fill="#7095bb" stroke="#fff" stroke-width="0.55" stroke-linejoin="round"/>
<path d="M396.54,1476.27A71.4,71.4 0 0 1 402.70,1471.65L407.59,1478.97A62.6,62.6 0 0 0 402.19,1483.02Z" fill="#80a9c5" stroke="#fff" stroke-width="0.55" stroke-linejoin="round"/>
<path d="M402.70,1471.65A71.4,71.4 0 0 1 409.10,1467.84L413.20,1475.63A62.6,62.6 0 0 0 407.59,1478.97Z" fill="#8fb8cd" stroke="#fff" stroke-width="0.55" stroke-linejoin="round"/>
<path d="M409.10,1467.84A71.4,71.4 0 0 1 417.63,1464.03L420.68,1472.29A62.6,62.6 0 0 0 413.20,1475.63Z" fill="#5a4fa0" stroke="#fff" stroke-width="0.55" stroke-linejoin="round"/>
<path d="M417.63,1464.03A71.4,71.4 0 0 1 424.76,1461.81L426.94,1470.34A62.6,62.6 0 0 0 420.68,1472.29Z" fill="#6a62a8" stroke="#fff" stroke-width="0.55" stroke-linejoin="round"/>
<path d="M424.76,1461.81A71.4,71.4 0 0 1 435.06,1459.98L435.97,1468.73A62.6,62.6 0 0 0 426.94,1470.34Z" fill="#2c6a84" stroke="#fff" stroke-width="0.55" stroke-linejoin="round"/>
<path d="M435.06,1459.98A71.4,71.4 0 0 1 442.40,1459.60L442.40,1468.40A62.6,62.6 0 0 0 435.97,1468.73Z" fill="#0ca0d5" stroke="#fff" stroke-width="0.55" stroke-linejoin="round"/>
<g fill="none" stroke="#8f8cc3" stroke-linecap="round" stroke-linejoin="round"><path d="M411.5,1427.6 C418,1424.5 440,1426.5 454,1426.2" stroke-width="4.6"/><path d="M402.5,1441 C414,1437.5 426,1438 437,1435.3 C446,1433.5 452,1434.5 458,1434.8" stroke-width="4.4"/><path d="M452,1435.6 C460,1434.8 466,1435 471.5,1435.8" stroke-width="6.8"/><path d="M399.5,1450.8 C410,1444.5 428,1444.5 440,1443.8 C455,1443 468,1446 475.5,1449.2" stroke-width="4.6"/><path d="M440.7,1427 L440.7,1443" stroke-width="7"/></g><g fill="#8f8cc3"><circle cx="412" cy="1427.4" r="3.1"/><circle cx="402.8" cy="1441" r="3"/><circle cx="399.8" cy="1450.6" r="3.2"/><circle cx="475.3" cy="1449.2" r="3.1"/></g>
<text x="482.40" y="1435.40" font-size="14" textLength="16.4" lengthAdjust="spacingAndGlyphs">ER</text>
<line x1="345.70" y1="1631.30" x2="358.00" y2="1631.30" stroke="#3a60aa" stroke-width="2.7"/>
<text x="364.40" y="1635.60" font-size="14" textLength="226.3" lengthAdjust="spacingAndGlyphs">Cellular sphingolipid homeostasis</text>
<line x1="345.70" y1="1647.00" x2="358.00" y2="1647.00" stroke="#17808e" stroke-width="2.7"/>
<text x="364.40" y="1651.30" font-size="14" textLength="114.7" lengthAdjust="spacingAndGlyphs">Lipid metabolism</text>
<line x1="345.70" y1="1662.60" x2="358.00" y2="1662.60" stroke="#6288b3" stroke-width="2.7"/>
<text x="364.40" y="1666.90" font-size="14" textLength="266.2" lengthAdjust="spacingAndGlyphs">Organonitrogen compound metabolism</text>
<line x1="345.70" y1="1678.30" x2="358.00" y2="1678.30" stroke="#615aa0" stroke-width="2.7"/>
<text x="364.40" y="1682.60" font-size="14" textLength="132.8" lengthAdjust="spacingAndGlyphs">Primary metabolism</text>
<line x1="345.70" y1="1694.00" x2="358.00" y2="1694.00" stroke="#2c6a84" stroke-width="2.7"/>
<text x="364.40" y="1698.30" font-size="14" textLength="77.6" lengthAdjust="spacingAndGlyphs">Metabolism</text>
<line x1="345.70" y1="1709.70" x2="358.00" y2="1709.70" stroke="#0ca0d5" stroke-width="2.7"/>
<text x="364.40" y="1714.00" font-size="14" textLength="38.5" lengthAdjust="spacingAndGlyphs">Other</text>
</g>
<g id="panel-efg">
<defs><filter id="b03" x="-5%" y="-5%" width="110%" height="110%"><feGaussianBlur stdDeviation="0.32"/></filter><filter id="b05" x="-20%" y="-20%" width="140%" height="140%"><feGaussianBlur stdDeviation="0.5"/></filter><filter id="b1" x="-20%" y="-20%" width="140%" height="140%"><feGaussianBlur stdDeviation="1"/></filter><filter id="b2" x="-20%" y="-20%" width="140%" height="140%"><feGaussianBlur stdDeviation="2"/></filter><filter id="b3" x="-20%" y="-20%" width="140%" height="140%"><feGaussianBlur stdDeviation="3.2"/></filter><filter id="b5" x="-30%" y="-30%" width="160%" height="160%"><feGaussianBlur stdDeviation="5"/></filter><filter id="b8" x="-40%" y="-40%" width="180%" height="180%"><feGaussianBlur stdDeviation="8"/></filter></defs>
<text transform="translate(659.3,289.5) scale(1.08,1)" font-size="26" font-weight="bold" fill="#111" stroke="#111" stroke-width="0.8" stroke-linejoin="round">e</text>
<text transform="translate(659.2,589.4) scale(1.12,1)" font-size="25" font-weight="bold" fill="#111" stroke="#111" stroke-width="0.8" stroke-linejoin="round">f</text>
<text transform="translate(659.3,1012.4) scale(1.1,1)" font-size="26" font-weight="bold" fill="#111" stroke="#111" stroke-width="0.8" stroke-linejoin="round">g</text>
<text x="682.80" y="289.50" font-size="11.6" textLength="128.0" lengthAdjust="spacingAndGlyphs" style="fill:#3a3636">Mitochondria–mCherry</text>
<text x="873.50" y="289.50" font-size="11.6" textLength="93.0" lengthAdjust="spacingAndGlyphs" text-anchor="middle" style="fill:#3a3636">Peroxisome–GFP</text>
<text x="1000.60" y="289.50" font-size="11.6" textLength="34.8" lengthAdjust="spacingAndGlyphs" text-anchor="middle" style="fill:#3a3636">Merge</text>
<text x="1126.90" y="289.50" font-size="11.6" textLength="26.3" lengthAdjust="spacingAndGlyphs" text-anchor="middle" style="fill:#3a3636">Inset</text>
<text x="682.80" y="583.70" font-size="11.6" textLength="128.0" lengthAdjust="spacingAndGlyphs" style="fill:#3a3636">Mitochondria–mCherry</text>
<text x="876.50" y="583.70" font-size="11.6" textLength="59.4" lengthAdjust="spacingAndGlyphs" text-anchor="middle" style="fill:#3a3636">Golgi–GFP</text>
<text x="1002.70" y="583.70" font-size="11.6" textLength="34.8" lengthAdjust="spacingAndGlyphs" text-anchor="middle" style="fill:#3a3636">Merge</text>
<text x="1130.70" y="583.70" font-size="11.6" textLength="26.3" lengthAdjust="spacingAndGlyphs" text-anchor="middle" style="fill:#3a3636">Inset</text>
<text x="682.80" y="1009.50" font-size="11.6" textLength="128.0" lengthAdjust="spacingAndGlyphs" style="fill:#3a3636">Mitochondria–mCherry</text>
<text x="873.50" y="1009.50" font-size="11.6" textLength="42.7" lengthAdjust="spacingAndGlyphs" text-anchor="middle" style="fill:#3a3636">ER–GFP</text>
<text x="1004.70" y="1009.50" font-size="11.6" textLength="34.8" lengthAdjust="spacingAndGlyphs" text-anchor="middle" style="fill:#3a3636">Merge</text>
<text x="1130.70" y="1009.50" font-size="11.6" textLength="26.3" lengthAdjust="spacingAndGlyphs" text-anchor="middle" style="fill:#3a3636">Inset</text>
<text transform="translate(677.3,358.9) rotate(-90) scale(1.1,1)" font-size="11.8" text-anchor="middle" fill="#3a3636">Control</text>
<text transform="translate(677.5,487.8) rotate(-90) scale(0.89,1)" font-size="12.4" text-anchor="middle" fill="#3a3636"><tspan font-style="italic">PEX26</tspan><tspan font-size="8" dy="-8.3" dx="0.6">KO</tspan></text>
<text transform="translate(677.3,652.3) rotate(-90) scale(1.1,1)" font-size="11.8" text-anchor="middle" fill="#3a3636">Control</text>
<text transform="translate(677.5,781.7) rotate(-90) scale(0.89,1)" font-size="12.4" text-anchor="middle" fill="#3a3636"><tspan font-style="italic">GOLGA5</tspan><tspan font-size="8" dy="-8.3" dx="0.6">KO</tspan></text>
<text transform="translate(677.5,910.4) rotate(-90) scale(0.89,1)" font-size="12.4" text-anchor="middle" fill="#3a3636"><tspan font-style="italic">GOLGA8M</tspan><tspan font-size="8" dy="-8.3" dx="0.6">KO</tspan></text>
<text transform="translate(677.3,1077.0) rotate(-90) scale(1.1,1)" font-size="11.8" text-anchor="middle" fill="#3a3636">Control</text>
<text transform="translate(677.5,1206.5) rotate(-90) scale(0.89,1)" font-size="12.4" text-anchor="middle" fill="#3a3636"><tspan font-style="italic">SEC61A2</tspan><tspan font-size="8" dy="-8.3" dx="0.6">KO</tspan></text>
<text transform="translate(677.5,1335.9) rotate(-90) scale(0.89,1)" font-size="12.4" text-anchor="middle" fill="#3a3636"><tspan font-style="italic">SEC62</tspan><tspan font-size="8" dy="-8.3" dx="0.6">KO</tspan></text>
<defs><radialGradient id="vred" cx="0.45" cy="0.4" r="0.75"><stop offset="0" stop-color="#2a0809"/><stop offset="1" stop-color="#120405"/></radialGradient><radialGradient id="vgrn" cx="0.5" cy="0.5" r="0.7"><stop offset="0" stop-color="#0d2415"/><stop offset="1" stop-color="#06100a"/></radialGradient><radialGradient id="volv" cx="0.5" cy="0.5" r="0.7"><stop offset="0" stop-color="#221a0a"/><stop offset="1" stop-color="#0c0906"/></radialGradient></defs>
<svg x="685.5" y="296.7" width="123.6" height="124.4" viewBox="0 0 100 100" preserveAspectRatio="none"><rect width="100" height="100" fill="#160506"/><rect width="100" height="100" fill="url(#vred)"/><g id="re1" filter="url(#b03)" opacity="0.75"><g filter="url(#b2)"><path d="M20,17L28,22L36,30L44,38L50,45L60,50L72,55L86,60M22,24L30,33L40,42L48,52L54,62L62,68L70,66L76,58M30,18L40,20L44,28M50,45L58,44L66,50L74,56" stroke="#7a0e1c" stroke-width="6" stroke-linecap="round" stroke-linejoin="round" fill="none" opacity="0.4"/></g><path d="M46.1,39.7L46.7,41.1L47.2,42.5L48.1,43.7L49,44.9L49.7,46.2L50,47.7L50.8,48.9M36.2,32.3L37.7,32.4L39,33.2L39.9,34.4L40.5,35.8L40.9,37.2L41.9,38.4L43.2,39L44.6,39.7L46.1,39.7M28.6,23.7L29.4,25L29.7,26.4L29.9,27.9L30,29.4L30.1,30.9L29.9,32.4M43.4,38.3L44,39.7L44.8,41L45.9,42L47.2,42.7M17.6,14.6L19,15.4L19.8,16.6L20.2,18L21.3,19.1L22.6,19.8L23.5,21M49.3,51.5L50,52.8L50.3,54.3L51,55.6L52.2,56.6L53.4,57.3L54.3,58.6L54.7,60L55.7,61.2M27.1,32.8L28.3,33.6L29.5,34.5L30.8,35.3L32.2,35.7L33.5,36.5L35,36.7L36.5,37.1M24.9,21L26.2,21.8L27.1,23L28.3,23.9L29.5,24.7L30.5,25.9L31.2,27.2L32.4,28.1L33,29.5M27.1,33.7L28.3,34.5L29.8,34.7L31.3,34.5L32.8,34.5L34.1,33.8L35.3,32.9M56.8,61.9L58.2,62.3L59.7,62.5L61.2,62.8L62.6,62.9L64.1,62.6L65.6,62.5L67.1,62.7L68.6,62.4M29.3,17.9L30.8,18.3L32.3,18.1L33.5,17.3L35,17.1M29.3,17.5L30.7,18.1L32.1,18.7L33.1,19.8L33.5,21.2L34.4,22.4L35.3,23.6L36.1,24.9L36.6,26.3M32.5,16.2L33.9,15.6L35.2,14.9L36.3,13.9L36.8,12.5M40.4,17.8L41.6,18.7L42.9,19.5L44.2,20.1L45.4,21L46.6,22L47.3,23.3M29.8,17.1L30.7,18.4L32,19.2L33.2,20.1L34.4,21L35.3,22.1L36.5,23.1M50.3,46.4L51.7,46.1L53,45.2L54.5,45L55.9,44.6L57,43.6L58.2,42.6L58.8,41.3L59.8,40.2L61.2,39.7M50.4,45.7L51.9,45.8L53.3,45.2L54.3,44L54.7,42.6L54.6,41.1L54.1,39.7L53.4,38.3M59.4,44.5L60.7,45.2L62,46L63.2,46.8L64.5,47.7L65.9,48.3L67.4,48.2L68.7,47.5M67.7,51L69.2,51.1L70.6,50.5L71.8,49.7L73.2,49.1L74.3,48.1L75,46.8L76.2,45.9M66,48.4L66.6,49.8L67.6,50.9L68.6,52L69.3,53.3L69.4,54.8L69,56.3L68.7,57.7" stroke="#b01a2c" stroke-width="0.6" stroke-linecap="round" stroke-linejoin="round" fill="none" opacity="0.55"/><path d="M24.2,21h0M26.2,15.8h0M27.4,20h0M19.7,18.4h0M19.1,19.7h0M22.3,23.3h0M27,22.2h0M20.7,16.7h0M24,19.7h0M27.5,21.1h0M27.7,19.9h0M22.3,18.7h0M22.1,21.2h0M27.2,15.1h0M26.3,22.8h0M23.9,18.1h0M26.5,22.2h0M21.9,16.2h0M25,17.9h0M27.1,20.4h0M27.3,20.5h0M20.2,15.8h0M26.9,23.1h0M36.7,27.5h0M34.2,30.6h0M32.3,25.8h0M34.7,20.1h0M32,28.9h0M34.2,22.2h0M32.8,26h0M32.7,23.9h0M28.5,21.5h0M35.3,30.2h0M35.1,29.3h0M31.4,22h0M35.9,26.7h0M36.9,30.4h0M31.3,29.7h0M28.9,26.5h0M31.7,28.5h0M36,27.9h0M37.4,28.3h0M33.4,29.2h0M31.6,25.7h0M41.5,37.5h0M40,35.4h0M44,36.6h0M44.1,32h0M37,32.3h0M41.4,29.1h0M39.2,35.1h0M42,34.4h0M43.7,36.4h0M37.1,30h0M38.1,32.1h0M43.7,37.7h0M38.9,34.6h0M37.9,35.1h0M41,35.5h0M39.3,33h0M39.5,34h0M37.6,27.9h0M42.5,39h0M44.9,45.1h0M44.2,38.3h0M41.8,36.8h0M45.6,45.7h0M42,40.8h0M45.1,41.3h0M50.5,44.2h0M47.2,38.9h0M48.4,43.6h0M47.3,39.4h0M46,41.1h0M46.3,43.3h0M50.8,44.5h0M46.7,37.7h0M47.4,45.5h0M44.4,42.9h0M42.8,34h0M41.6,40.3h0M46.9,42.1h0M51.7,42h0M47.6,39.4h0M45.3,44.1h0M51,41.1h0M48.6,37.9h0M49.6,41.4h0M61.4,47.2h0M57.9,46.6h0M59,49.5h0M56.7,47.5h0M55.2,47.1h0M58.4,48h0M54.1,47.1h0M57.1,46.9h0M57.5,42.4h0M47.5,42.7h0M52,46.7h0M51.2,46.7h0M54.8,44.7h0M57.9,47h0M57.4,46.9h0M47.7,43.2h0M51.6,44.7h0M56,49.6h0M61.1,50h0M51.3,46.6h0M52.9,50h0M54.9,51.2h0M65.2,51.6h0M62.6,53.3h0M67.6,49.8h0M65.9,49.9h0M62.8,49.1h0M67.4,52.1h0M69.5,51.3h0M69.6,51.8h0M69.6,55.1h0M65.7,53h0M68,54.3h0M66.4,53.8h0M63.6,54.8h0M71.8,52.6h0M68.9,54.8h0M71.4,51.5h0M63.9,55.1h0M64.2,51.1h0M69.7,55.3h0M75.7,52.6h0M62.1,50.8h0M64.4,51.4h0M80.4,58.1h0M78.5,57.4h0M75.7,57.1h0M76.7,52.5h0M76,58.1h0M80.9,56.6h0M77.7,61.1h0M73.4,51.4h0M73.1,55.5h0M83,60.5h0M74,54.9h0M70.8,54.4h0M80.4,62.1h0M73.8,58.5h0M72,58.7h0M81.5,59.7h0M76.7,54.7h0M72.9,52.8h0M89.4,57.8h0M78.7,55.4h0M72.3,59.6h0M84.5,61.6h0M23.5,29h0M26.1,30.2h0M24.3,30.1h0M28.2,32.4h0M29,32.4h0M23.4,27.9h0M27.4,29.5h0M18.8,23.5h0M25.8,26.5h0M31.9,33.7h0M23.1,22.1h0M24.7,29.9h0M26.4,26.5h0M27.9,26.4h0M22.5,27.6h0M29.6,29.2h0M26.5,27.7h0M30.8,27.3h0M28,30.6h0M28.4,28.2h0M27.6,30.7h0M29,33.9h0M30.4,35.7h0M41.5,42.4h0M28.9,31h0M34,35.5h0M36.3,37.9h0M31.7,35.4h0M31.7,32.2h0M32.9,36.7h0M31.8,32.7h0M36.5,35.6h0M36.3,32.2h0M28.1,34.5h0M35,38h0M40.2,39.5h0M33.5,37.6h0M39,40.6h0M28,33.5h0M37.3,37.2h0M32.6,36h0M34.4,33.4h0M38.1,38.7h0M37.6,40.9h0M41.9,38.2h0M48.1,51.1h0M47.8,50.6h0M46.6,45.9h0M45.6,54.2h0M44.2,45.7h0M47.3,52.9h0M46.5,50.7h0M42.2,45.9h0M39,45.8h0M42.5,44.6h0M37.6,47.3h0M46.4,50h0M42.6,44.2h0M44.2,47.7h0M48.4,50.5h0M44.4,50.2h0M43.7,49.3h0M42.3,44.5h0M41.4,42h0M44.3,50.1h0M43.1,44.5h0M51.6,55.3h0M53.2,61.1h0M52.2,59.8h0M50,55.2h0M54.9,58.3h0M47.4,56h0M53.5,57.7h0M49.7,55.5h0M48.5,50.1h0M51.1,57.4h0M47.1,53.9h0M53.6,59.8h0M52,53.1h0M53.7,61.3h0M51.5,60.4h0M53.2,59.7h0M50.5,61.5h0M54.7,65.4h0M52.1,59.1h0M46.5,52.9h0M51.9,54.4h0M55,60.8h0M57.4,61.3h0M56.9,64.7h0M65.3,67.3h0M61.8,68.5h0M57.6,62.7h0M59.3,64.2h0M58.9,65.5h0M60.6,62.7h0M58.1,69h0M57.7,68.4h0M61.9,67h0M59.1,66.5h0M59.8,67.8h0M54.3,62.8h0M62.3,66.6h0M58,62.1h0M55.1,66.4h0M59.7,62.5h0M62.1,64.8h0M58.9,68.4h0M60.8,63.9h0M53.9,67.1h0M67.9,68.6h0M68.9,63.3h0M67,69.3h0M64.3,69.5h0M65.4,67.4h0M66,66.3h0M63.2,68.4h0M67.4,64.8h0M68.9,65h0M69.1,70h0M67.4,66.3h0M70.3,68.3h0M71.3,66.1h0M64,68.1h0M70,64.2h0M64.3,66.9h0M63.8,66.8h0M71.5,64.6h0M66.3,68.8h0M70.5,65.3h0M67.2,68.3h0M68.6,62.7h0M70.2,63.3h0M76.3,59.3h0M72.5,64.6h0M74.9,57.9h0M76.4,59.5h0M70.8,67.2h0M74.7,61.6h0M69.4,60.8h0M69.8,59.1h0M73.8,63.1h0M74.7,57h0M79.1,64.2h0M70,62h0M68.8,64.6h0M71.8,63.1h0M71.8,62.1h0M70.3,63.3h0M76,58.8h0M72.8,60.1h0M74.2,58.6h0M72.1,59.9h0M74.5,58.1h0M36.9,16.3h0M36.5,18.6h0M39.3,22.2h0M28.8,19.9h0M38.3,18h0M35.4,21.8h0M37.9,19.7h0M33.1,17.5h0M32,18.7h0M32.8,19.9h0M32.9,17.7h0M36.6,18.7h0M38,20.8h0M35,19.1h0M34.5,19h0M39.4,21.3h0M31.7,19.6h0M38.8,16h0M28.8,19.2h0M32.8,18.3h0M35.4,12.6h0M28,19.3h0M40.4,24.9h0M39.1,22.3h0M42.2,23.7h0M44.3,24.4h0M40.9,24.6h0M36,23.2h0M38.2,28.2h0M44.6,25.4h0M44.5,25.9h0M44.7,23.3h0M41.4,27.6h0M40.6,29.4h0M40.1,22.9h0M43,25.7h0M39,22.1h0M45.1,23.4h0M44.1,29h0M39.5,18.6h0M42.5,22.4h0M37.1,25.2h0M42.6,27.8h0M42.5,20.4h0M55.3,39.5h0M49.2,46.9h0M52.1,43.6h0M55.4,44.1h0M53.2,45.2h0M50.7,44.5h0M50,46h0M50.6,43.2h0M55.2,43.2h0M51,48.2h0M49.9,47.5h0M51.3,46.7h0M52.2,44.9h0M51.4,42.8h0M56.8,47.2h0M58.1,47.4h0M59.6,43.1h0M51.2,44.1h0M52.8,45.1h0M51.9,46.9h0M53.5,46.6h0M55.4,47.3h0M61.6,46.5h0M63.1,48.9h0M60.4,47.1h0M56.6,45.5h0M57.9,44.8h0M59.8,45.7h0M60.6,46.4h0M63,44.3h0M59.4,44.3h0M57.7,43.2h0M56.2,43.8h0M62,46.4h0M59.8,47.4h0M66.2,47.5h0M66.4,49.7h0M61.3,49h0M66.7,51h0M59.1,43.9h0M55.9,43.4h0M56.7,45.6h0M60.4,45.3h0M66.6,48.6h0M70.2,50.8h0M70.6,51.1h0M74.3,54.6h0M68.1,53.9h0M68.1,55.8h0M70.4,54.9h0M69.8,54.3h0M67.8,51.1h0M66.5,49.6h0M70,50.2h0M70.3,47.7h0M66.4,52.9h0M69.7,57h0M67.6,49.6h0M68.9,47.8h0M70.5,54h0M68.7,51.3h0M73.9,56.3h0M71.5,55.4h0M61.6,47.4h0M76,58.3h0M67.9,50.9h0" stroke="#b81c2e" stroke-width="0.9" stroke-linecap="round" fill="none" opacity="0.5"/><path d="M11,88h0M85,23h0M3,52h0M92,8h0" stroke="#a01828" stroke-width="1.6" stroke-linecap="round" fill="none" opacity="0.8"/></g></svg>
<svg x="811.75" y="296.7" width="123.6" height="124.4" viewBox="0 0 100 100" preserveAspectRatio="none"><rect width="100" height="100" fill="#050b09"/><g id="ge1" filter="url(#b03)" opacity="0.72"><path d="M33.7,14.6h0M50.3,42.5h0M37.1,31.9h0M70.4,64.2h0M30.1,36.9h0M56.2,59.7h0M62.1,46.3h0M21.7,19.5h0M25.7,42.4h0M36.5,28.8h0M14.1,24.1h0M45.8,38.3h0M59.2,51h0M42.6,63.9h0M32.2,44.4h0M49.1,62.4h0M69.8,57.9h0M72.6,59.8h0M38.3,35.5h0M59.2,62.5h0M36.4,51.9h0M35.6,30h0M15.3,33.4h0M66,46.3h0M35.3,39.3h0M39.5,32.6h0M25.1,37.9h0M22.3,34.8h0M56.1,67.1h0M74.8,51.3h0M47.4,47.6h0M38,27h0M54.9,47.9h0M56.9,40.3h0M54.3,49.3h0M65.5,73.4h0M46.3,27.3h0M73.5,52.6h0M81.1,63.6h0M75.9,56.4h0M43.4,45.7h0M74.7,60h0M50.8,68.2h0M36.5,19.1h0M10.9,34.1h0M75.5,63.9h0M17.2,24.1h0M56.1,68h0M76.4,57.4h0M34.5,32.2h0M55,55.4h0M22.1,20.8h0M62.1,41.5h0M18.1,20.1h0M35.9,25h0M85.6,55.2h0M32.2,37.9h0M39.9,40.9h0M35,55.9h0M60.8,40.8h0M66,49.7h0M43,16.9h0M40.7,30.2h0M40.1,21.1h0M40.8,33.8h0M72,64.9h0M54.1,46.3h0M14.9,35.2h0M37.2,57.1h0M44.6,35.1h0M44.3,32.3h0M60.3,49.9h0M72.6,52.6h0M39.3,53h0M24.3,35.6h0M19.2,37.1h0M56.6,58.3h0M65,60.3h0M17.3,41.6h0M49.8,45.6h0M31.5,43.9h0M48,30.9h0M40.3,16.3h0M25,40.6h0M51.5,41h0M39.7,50.3h0M40.2,13.7h0M65.3,56.5h0M58.2,64.7h0M14.1,28.9h0M33.6,42.8h0M59,67.1h0M38.8,31.3h0M36.7,39.2h0M45.2,34.9h0M41.6,40.5h0M50.7,37.4h0M25.4,19.1h0M37,32.2h0M45.8,27h0M54.3,71.6h0M36.5,49.5h0M36.8,31.4h0M55.5,49h0M32.6,43.4h0M48.3,59h0M27.7,29.5h0M69.5,52.2h0M51.1,69.6h0M80.9,58.9h0M42.9,39.6h0M17.2,32.5h0M60,46.4h0M51.7,69.3h0M24.5,38.3h0M49.8,64.2h0M41.7,36h0M60.6,69.6h0M46.5,55.1h0M23.8,34.1h0M20.8,34.3h0M54.1,44.7h0M38.3,48h0M53.5,42.3h0M37.5,56.7h0M41.8,50.7h0M46,27.1h0M52.3,46.6h0M34,22.2h0M82.2,59.6h0M67.7,48.5h0M82.2,56.8h0M30.9,28.4h0M29.3,30.4h0M29.7,44.1h0M75,65.1h0M55.5,46.2h0M65.2,45.6h0M59.5,69.1h0M26.2,40.6h0M36.9,57.5h0M84.7,54.8h0M74.7,60.9h0M49.1,34.6h0M46.9,25h0M46,47h0M18.5,31.3h0M75,70h0M54.1,54.8h0M55.8,50.4h0M72.7,55h0M48.5,48.4h0M67.1,62.3h0M69.9,72.5h0M34.2,34.2h0M49,33.5h0M60.6,40.7h0M21.7,22.1h0M27.8,42.2h0M28.3,44.9h0M22.4,27.2h0M31.5,33.1h0M64.7,54.1h0M69.6,45.9h0M27.1,26.3h0M36.9,34.7h0M38.2,21.3h0M69.6,60.7h0M37.6,30.5h0M54.3,58.2h0M45.1,62.9h0M37.7,17h0M76.8,57.3h0M37,20.3h0M35.1,16h0M31.9,24.2h0M50.1,47.6h0M67.5,45.1h0M25.4,17.7h0M20.5,33.2h0M69.8,72.3h0M43.9,49.8h0M46.9,52.8h0M44.3,24.1h0M9.2,31.6h0M11.2,28.9h0M44.9,51.1h0M32.7,34.8h0M40.5,45.9h0M43.9,33.3h0M81,65h0M30.5,23.4h0M35.1,47.1h0M48.1,36.1h0M29,48h0M57.3,41.2h0M45.6,52.1h0M42.5,18.2h0M72.7,61.7h0M47.3,39h0M51.3,70.7h0M46.2,42.4h0M47.2,33.9h0M23.3,26.1h0M73.1,62h0M61.4,61.6h0M63.5,62.4h0M55.6,68.6h0M80.7,52.3h0M67.1,73.1h0M75.7,59.9h0M69.3,66.3h0M52.4,70.5h0M57.9,43h0M38,34.6h0M59,60.3h0M62.2,44.5h0M32.6,29.6h0M61.5,70.5h0M83.1,60.2h0M34,30h0M48.8,42.8h0M49.8,41.9h0M26.8,33h0M35.7,45.1h0M40.3,37.8h0M26.4,41.9h0M41.8,54.8h0M67.5,46.9h0M58,70.2h0M67.8,52.5h0M41.7,19.5h0M13.5,29.4h0M18,39h0M52.7,58.4h0M39.4,52.6h0M61.1,50.6h0M13.7,36.9h0M44.5,19.4h0M82.4,65h0M46,48.9h0M17.4,31.6h0M47.7,38h0M36.5,39.6h0M43.3,32.2h0M56.7,38.1h0M43.5,41.9h0M84.2,60.9h0M39.3,53.9h0M64.5,70.9h0M59.2,53.8h0M41.9,52.9h0M72.1,64.1h0M38.5,49h0M63.5,59.5h0M66.2,48.3h0M51.8,46.2h0M64.7,71h0M29.4,47.6h0M49.2,43.2h0M77.7,53.5h0M40.8,21.9h0M55.3,41.1h0M52.4,71.2h0M13.9,31.3h0M62,55.1h0M29.3,34.9h0M37.2,53.1h0M19.6,32h0M76.1,69.9h0M27.5,23.9h0M69.9,58.1h0M28.6,42.8h0M71.9,65.4h0M45,32.1h0M42.5,62.6h0M52.5,50.2h0M34.6,39.8h0M79.4,54.3h0M21.4,34.7h0M76.9,66.2h0M25.7,35.2h0M50.4,48.6h0M54.8,65.6h0M21.8,29.6h0M60,55.4h0M33.1,41.5h0M30.5,47.2h0M35.8,35h0M27.4,30.8h0M32.2,49.1h0M29,19.9h0M47.9,32h0M77.2,59h0M56.6,53.2h0M62,43.5h0M40.2,36.8h0M47.3,41.6h0M49.3,45.5h0M69.5,67.4h0M70.1,50.8h0M30.3,24.7h0M75.8,64h0M61.3,55.2h0M39,46.7h0M79.5,64h0M13.8,28.1h0M48.2,31.9h0M19.6,36.8h0M51.9,70.3h0M42,59.5h0M54.2,48.5h0M21.5,41.3h0M78.2,54.1h0M24.9,40.3h0M50.4,33.5h0M53.1,51.5h0M71.5,57.2h0M19,25.3h0M33.1,28.8h0M57.5,50.5h0M51.9,36.4h0M26.7,30h0M79.6,54.1h0M26.5,30.7h0M73.9,55.7h0M64,43.1h0M38,45.4h0M33.7,22h0M54.2,68.8h0M22.1,43.5h0M47,59.7h0M44.5,64.5h0M56.3,58.5h0M67.4,57.1h0M19.5,22.9h0M74,49.7h0M16.8,30.5h0M22.9,19.8h0M21.1,23.3h0M49.8,35.9h0M47.6,36.7h0M38.6,46.1h0M37.9,56.2h0M37,56.1h0M30.2,30.9h0M66.5,60.8h0M62.6,69.4h0M22.5,37h0M74.5,59.7h0M65.8,65.8h0M36.2,49.9h0M53,67.3h0M59.2,71.6h0M19.2,37.6h0M33.2,50h0M22.9,40.3h0M28.5,35.3h0M51.4,33.7h0M45.6,57.1h0M74.8,70.1h0M40.8,32.4h0M39,32.1h0M69.1,72h0M40.3,24.2h0M65,47.9h0M60.6,72h0M72.3,54.7h0M50.7,65.2h0M37,19.9h0M55.1,63.3h0M34.9,20.3h0M60.4,57.4h0M53.4,65.6h0M60.8,72.5h0M57.4,41.6h0M47.7,44.1h0M55.3,54.6h0M30.6,40.8h0M47.4,62h0" stroke="#1f8a40" stroke-width="1.0" stroke-linecap="round" fill="none" opacity="0.8"/><path d="M45.7,37.3h0M45.4,34.8h0M39.2,17.8h0M19.6,38.8h0M55,59.6h0M42.7,31h0M18.3,21.3h0M77.5,58.7h0M24.7,40.2h0M58.9,41.7h0M78.2,61.2h0M55.1,41.7h0M78.5,61.5h0M82.1,65.8h0M27.4,46.7h0M32.8,23.3h0M66,59.3h0M34.3,38.6h0M62.3,57.4h0M44.2,20.2h0M15.5,23.3h0M36.8,23.7h0M54.6,50.4h0M68.1,50.1h0M39.7,52.5h0M37.2,38h0M36.6,52.5h0M35.5,34.5h0M74,61.8h0M60.7,64.5h0M38.1,52.2h0M27.6,32.2h0M37.5,20.1h0M35.5,41.9h0M23.7,30.7h0M41.1,30h0M57.8,62h0M33.4,24.7h0M69.8,49.8h0M40,22.5h0M67.1,52.4h0M44.9,60.4h0M49.3,38.2h0M48.2,56.5h0M61.7,47.8h0M69.5,63.3h0M42.2,41.4h0M74,62h0M13.4,29.3h0M68,49h0M44.1,28.7h0M18.7,25.1h0M49.6,48.5h0M67,62.9h0M17.4,23h0M17.9,34.5h0M64.2,60.3h0M42.1,40.9h0M44.5,35.6h0M43.5,54.8h0M36,15h0M14.2,39h0M81.5,64.1h0M10.4,32.3h0M36.8,32h0M21.8,19.4h0M22.7,32.2h0M68,57.9h0M31.6,40.6h0M35.7,41.8h0M71.2,69.1h0M54.9,71.5h0M31.6,40h0M73.5,54.5h0M11.9,30.4h0M30.8,38.5h0M34.6,26.9h0M40.2,46.3h0M39.2,47.5h0M46.3,36h0M29.1,16.2h0M31.1,31.2h0M42.6,45.1h0M69.3,46.9h0M46.5,34h0M69.8,64h0M77.7,57.3h0M60.6,41.2h0M49.6,48.3h0M49,63h0M66.7,50.6h0M54.7,68.4h0M46.1,57.9h0M65.2,66.6h0M34.4,19.4h0M17.7,40.2h0M16.6,33.3h0M40,41.8h0M41.9,49.4h0M78.8,63.6h0M25.8,27.9h0M43.9,52.2h0M26.5,27.8h0M69.4,67.8h0M28.5,19.2h0M66.3,59.8h0M47.7,29.5h0M49,53.4h0M33.3,52h0M24.5,26.8h0M80.2,64.3h0M74.2,63.1h0M65.1,64h0M60.7,53.6h0M78.2,57.1h0M24,40.5h0M61.1,46.4h0M39,27.9h0M25.7,26.5h0M40.4,55.4h0M79.2,54.3h0M55.5,57.6h0M34.5,17.4h0M61.1,68.6h0M60.1,50h0M71,71.5h0M55.9,51.9h0M75.3,50.3h0M72.8,51.1h0M74.5,60.1h0M38.8,29.8h0M31.8,37.1h0M41,61.9h0M30.7,42.8h0M48.9,29.2h0M35.3,30.4h0M71.6,60h0M62.7,49.3h0M75.6,58.2h0M66.3,64.2h0M56.7,49.9h0M47.8,29.4h0M28.3,26.3h0M31.6,50h0M32.9,53.5h0M77.3,69.2h0M63.9,45.2h0M49,69.4h0M64.2,55.8h0M53.1,38.2h0M49,29.8h0M36.6,24.6h0M66.6,72.9h0M55.8,50.9h0M26.2,26.5h0M46.5,38.6h0M61.6,63.8h0M13.2,31h0M35.6,18h0M35.8,25.4h0M41.8,50.6h0M42.4,62.3h0M27,37h0M51.2,45.7h0M63.8,70.8h0M23.5,42.4h0M29.9,46.7h0M40.5,16h0M74.2,66.8h0M55.3,42.1h0M18.7,21.2h0M54.3,52.3h0M70.5,63.4h0M18.7,31.5h0M19.2,43h0M61.2,62.3h0M73.1,63.6h0M34.9,16.4h0M83.6,59.2h0M76.8,69.3h0" stroke="#38c060" stroke-width="0.9" stroke-linecap="round" fill="none" opacity="0.85"/><path d="M37.8,39.9h0M49.1,43.4h0M49.6,39.3h0M44.5,42.6h0M47.2,41.5h0M46.4,41.3h0M49.4,33.6h0M48,35.6h0M39.8,35.2h0M46.7,33h0M38.5,35.2h0M39.7,34.9h0M43.2,38.1h0M38.5,34.9h0M48.5,34.4h0M49.2,36.1h0M43.1,40h0M48.7,35h0M39.3,28.8h0M45.4,39.2h0M29.6,31.9h0M50.6,39.3h0M41.2,37h0M37,31h0M46.4,37.4h0M41.9,36.8h0M52.1,44.1h0M45.3,36.1h0M49.6,41.5h0M39.1,40.8h0M52.4,38.6h0M37.5,39.6h0M35.9,39.9h0M36.9,42.4h0M40.6,26h0M29,37.4h0M38.8,32.1h0M40.4,31.6h0M42.9,37.5h0M39.6,32.1h0M48.2,45h0M45.5,44.6h0M39.1,38.7h0M54,40.1h0M33.9,23.9h0M38.3,29.2h0M37.4,37.3h0M38.6,32.2h0M37.9,25.8h0M42.7,33.1h0M47.3,40.3h0M29.6,31.7h0M35.8,30.3h0M37.7,29.4h0M41.2,29.9h0M38.3,32.5h0M45,41.6h0M56.6,37.8h0M37.1,38.9h0M35.7,31.3h0M43.1,44.4h0M44.9,39.7h0M39.8,37.8h0M42,37.9h0M38.5,33.3h0M39.2,29.1h0M38.9,30.1h0M39.4,31.7h0M32.3,31.3h0M40.6,42.8h0M38.2,29.5h0M44.4,33.6h0M35.8,35.7h0M44.6,30h0M42.9,47.6h0M49.3,40.1h0M50.5,41.3h0M39.4,35.7h0M49.7,41.7h0M43.4,30.3h0M45.6,33.3h0M44.6,31.1h0M39,29.5h0M40.6,29.7h0M47.8,43.7h0M42.4,31.4h0M49.3,39.7h0M43.3,41.9h0M38.7,36.1h0M45.8,36.5h0M42.4,33.4h0M49.8,46.1h0M48.8,37.6h0M39.5,30.3h0M43.1,40.6h0M29,31.1h0M45.9,42.5h0M34,31.9h0M47,33h0M30.4,39.2h0M39.1,31.9h0M31.7,26.5h0M49.4,42.8h0M36.9,33h0M43,39.6h0M35.3,33.6h0M39.2,31.9h0M38.7,30.1h0M48.9,32.1h0M37.3,31.7h0" stroke="#2fb055" stroke-width="1.0" stroke-linecap="round" fill="none" opacity="0.85"/></g></svg>
<svg x="939.25" y="296.7" width="123.6" height="124.4" viewBox="0 0 100 100" preserveAspectRatio="none"><rect width="100" height="100" fill="#130606"/><rect width="100" height="100" fill="url(#vred)" opacity="0.7"/><use href="#ge1" opacity="0.9"/><use href="#re1" style="mix-blend-mode:screen" opacity="1"/></svg>
<rect x="783.40" y="411.40" width="21.00" height="2.70" fill="#fff"/>
<rect x="909.65" y="411.40" width="21.00" height="2.70" fill="#fff"/>
<rect x="1037.15" y="411.40" width="21.00" height="2.70" fill="#fff"/>
<rect x="975.3" y="329.0" width="11.1" height="11.2" fill="none" stroke="#e8e8e8" stroke-width="0.8"/>
<svg x="685.5" y="425.6" width="123.6" height="124.4" viewBox="0 0 100 100" preserveAspectRatio="none"><rect width="100" height="100" fill="#0a0707"/><g id="re2" filter="url(#b03)" opacity="0.85"><g filter="url(#b2)"><path d="M52,32L45,27L37,25L30,27L24,32L20,40L18,50L20,58L25,64L32,66L40,62L48,57" stroke="#8a1020" stroke-width="9" stroke-linecap="round" stroke-linejoin="round" fill="none" opacity="0.45"/></g><path d="M45.8,27.8h0M45.7,28.6h0M43.4,34.6h0M53.3,30.1h0M52.5,26.9h0M45.3,26.3h0M43.3,26h0M53.3,27.4h0M46.7,18.7h0M46.5,24.7h0M53,29.9h0M51.3,26.7h0M46.2,22.2h0M47.5,27.9h0M48.3,25.1h0M36.6,28.7h0M36.5,28.2h0M39,30.2h0M36,28h0M50.5,32h0M39,27.7h0M41.5,23.9h0M47.7,30.3h0M40.6,25.7h0M33.3,27.4h0M30.8,23.7h0M34,31.3h0M31.2,28.5h0M24.2,28.5h0M29.1,25.3h0M29.9,23.1h0M29.9,24h0M33.5,22.4h0M34.4,27.3h0M31.4,28h0M29.7,27.5h0M32.9,26.6h0M29.8,30.1h0M26,33.8h0M27.1,27.9h0M27.2,21h0M28.2,32h0M27.1,31.7h0M22.9,33.3h0M23.2,31.2h0M28.5,29.4h0M29.9,36.3h0M29.9,31.6h0M25.4,37.9h0M23.9,31.9h0M28,36.5h0M21.2,33.5h0M26.7,30h0M20.4,35.4h0M25.6,26.6h0M17.5,41.4h0M23,38.6h0M25.5,29.8h0M25,29.2h0M17.5,37.4h0M14.7,50.9h0M20.2,42.9h0M19.6,47.9h0M20.5,53.3h0M14.9,46.2h0M26.7,48.8h0M20.8,40.9h0M21.8,41.9h0M25.9,42.2h0M15.2,40.2h0M27.3,41.8h0M23.5,43.7h0M18.1,57.7h0M25.7,54.6h0M21.5,52.8h0M15.3,51.9h0M14.9,51.9h0M19.8,50.1h0M25.3,48.4h0M26.8,55.1h0M19.4,55.9h0M17.8,53.6h0M24.4,50.2h0M12.2,51.6h0M25.3,62.3h0M25.8,58h0M21.6,60h0M25.2,57.4h0M21.7,60.6h0M22.5,61.6h0M24.7,66.4h0M22.7,61.3h0M22.1,62h0M18.2,52.1h0M18.2,62.6h0M14.6,63.3h0M30.1,62.7h0M31.6,63.4h0M26.9,61h0M29.5,69.5h0M28.5,61.6h0M29.7,64.8h0M31.8,68.8h0M23,62.3h0M34,69.2h0M30.2,67.2h0M26,62.6h0M19.3,66.2h0M35.9,67.3h0M36.5,65.4h0M35.9,67.7h0M34.2,60h0M36.7,71.2h0M33.3,66.7h0M31.2,60.7h0M35.2,66.6h0M38.3,65.2h0M40.9,69.6h0M40.1,56.8h0M43.6,58.1h0M50.9,55.4h0M44.7,59.5h0M45.5,56.9h0M44,63.8h0M44,60.3h0M44.4,55.9h0M45,55.4h0" stroke="#b81a2e" stroke-width="2.1" stroke-linecap="round" fill="none" opacity="0.75"/><path d="M45.8,27.8h0M43.4,34.6h0M52.5,26.9h0M43.3,26h0M46.7,18.7h0M53,29.9h0M46.2,22.2h0M48.3,25.1h0M36.5,28.2h0M36,28h0M39,27.7h0M47.7,30.3h0M33.3,27.4h0M34,31.3h0M24.2,28.5h0M29.9,23.1h0M33.5,22.4h0M31.4,28h0M32.9,26.6h0M26,33.8h0M27.2,21h0M27.1,31.7h0M23.2,31.2h0M29.9,36.3h0M25.4,37.9h0M28,36.5h0M26.7,30h0M25.6,26.6h0M23,38.6h0M25,29.2h0M14.7,50.9h0M19.6,47.9h0M14.9,46.2h0M20.8,40.9h0M25.9,42.2h0M27.3,41.8h0M18.1,57.7h0M21.5,52.8h0M14.9,51.9h0M25.3,48.4h0M19.4,55.9h0M24.4,50.2h0M25.3,62.3h0M21.6,60h0M21.7,60.6h0M24.7,66.4h0M22.1,62h0M18.2,62.6h0M30.1,62.7h0M26.9,61h0M28.5,61.6h0M31.8,68.8h0M34,69.2h0M26,62.6h0M35.9,67.3h0M35.9,67.7h0M36.7,71.2h0M31.2,60.7h0M38.3,65.2h0M40.1,56.8h0M50.9,55.4h0M45.5,56.9h0M44,60.3h0M45,55.4h0" stroke="#d8243a" stroke-width="1.3" stroke-linecap="round" fill="none" opacity="0.8"/><path d="M45.7,28.6h0M43.3,26h0M51.3,26.7h0M36.5,28.2h0M41.5,23.9h0M34,31.3h0M29.9,24h0M32.9,26.6h0M28.2,32h0M29.9,36.3h0M21.2,33.5h0M23,38.6h0M20.2,42.9h0M20.8,40.9h0M23.5,43.7h0M14.9,51.9h0M17.8,53.6h0M21.6,60h0M22.7,61.3h0M30.1,62.7h0M29.7,64.8h0M26,62.6h0M34.2,60h0M38.3,65.2h0M44.7,59.5h0M45,55.4h0" stroke="#5a0c16" stroke-width="0.9" stroke-linecap="round" fill="none" opacity="0.8"/><ellipse cx="58.5" cy="40" rx="2.6" ry="3.6" fill="none" stroke="#e02840" stroke-width="1.5"/><path d="M55,47h0M56,50h0M46,66h0M50,70h0M52,76h0" stroke="#c01c30" stroke-width="2" stroke-linecap="round" fill="none" opacity="0.8"/><path d="M55,82h0M57,86h0M59,84h0M58,90h0M56,94h0M60,88h0M30,18h0M40,17h0M68,14h0M16,78h0" stroke="#8a1424" stroke-width="1.3" stroke-linecap="round" fill="none" opacity="0.8"/></g></svg>
<svg x="811.75" y="425.6" width="123.6" height="124.4" viewBox="0 0 100 100" preserveAspectRatio="none"><rect width="100" height="100" fill="#050a09"/><rect y="3.6" width="100" height="0.9" fill="#1a1a1a" opacity="0.8"/><g id="ge2" filter="url(#b03)" opacity="0.8"><path d="M52.7,56.3h0M46.2,71.3h0M12.9,71.7h0M32.9,78.9h0M54.8,30.4h0M54.2,31.1h0M41.2,35.9h0M19.2,49.2h0M61.7,50.7h0M50.1,18.4h0M52.2,62.3h0M41.2,74.9h0M27.2,64.1h0M25.5,22.2h0M39.3,78.8h0M23,54.9h0M39.8,23.1h0M55.8,67.6h0M31.9,72.4h0M19.2,76.4h0M32.5,21.1h0M30.1,73.4h0M19,65h0M42.5,68.9h0M49.5,67.5h0M71,27.2h0M41.9,80.1h0M18.1,31.3h0M47.2,55.7h0M64.1,46.3h0M29,20.1h0M24.1,50h0M12.5,42.3h0M39.7,79h0M27.5,73.5h0M39.2,63.8h0M40,69.1h0M47.5,58.2h0M32.2,27.5h0M18.2,44.8h0M30.9,69.9h0M43.9,23.5h0M17.8,59.7h0M49.8,20.7h0M15.3,46.3h0M50.2,30.3h0M40.7,16.3h0M53.5,59.1h0M54.8,16.8h0M50.1,28h0M21.5,69.8h0M52.1,62.9h0M55.9,57h0M39.5,39.5h0M20.4,59.4h0M37.6,32.4h0M6.6,47.8h0M40,72h0M14.5,59.7h0M47.9,18.5h0M27.3,47.2h0M54.6,58.6h0M29.5,60h0M29.3,21.1h0M59.6,34.7h0M32.4,30.2h0M9.8,37.3h0M21.1,31.9h0M28.4,55.2h0M19.9,69.2h0M53.6,32.6h0M36.3,38.5h0M19.7,35.2h0M26.5,22.8h0M38.2,21.9h0M48.7,49.1h0M30,23.2h0M56.2,21.3h0M22.2,59.4h0M46.9,70.3h0M43.6,73.4h0M54.6,58.5h0M38,39.5h0M10,42.7h0M57.7,72.1h0M46,51.3h0M30.5,69.4h0M46.7,33.4h0M35.5,2.9h0M59.2,16h0M44.6,69.5h0M26.3,44.5h0M40.3,68.7h0M20.1,34.3h0M14.5,55.6h0M43.2,27.5h0M40.9,69.6h0M27.2,62.6h0M29.1,73.6h0M40.6,68.9h0M17.1,19.8h0M17.8,20.2h0M49.6,61.4h0M28.8,53.9h0M18.9,41.4h0M48.3,54.5h0M42.9,18.8h0M17.9,54.9h0M15.5,45.5h0M38,12.7h0" stroke="#27a84e" stroke-width="1.3" stroke-linecap="round" fill="none" opacity="0.9"/><path d="M16.9,27.7h0M18.2,36.2h0M42.4,41.8h0M51.3,13h0M26,37.3h0M50.8,20.8h0M23.8,76.4h0M16.5,17h0M24.5,62.3h0M17.4,34.4h0M40.6,31.7h0M36.5,19.7h0M32.8,57.6h0M36.1,35.3h0M44.7,64.8h0M40.2,29.2h0M27.6,4.2h0M41.1,61h0M0.5,52.1h0M58.3,66.1h0M23.4,55.1h0M45.9,64.5h0M15.8,45.6h0M31.9,12h0M34.1,61.5h0M14.7,40.1h0M48.4,6.6h0M43.7,58h0M10.3,49.8h0M16.3,66.7h0M44,35.5h0M18.8,60.5h0M53.7,58.3h0M31.1,25.2h0M16,64.9h0M50.9,44.5h0M44.9,32.2h0M48.2,30.1h0M15.5,43.3h0M58.5,25.9h0M51.7,34.7h0M40.3,9.6h0M44.3,18.2h0M52.2,51h0M11,44.5h0M13.5,40.2h0M54,24.4h0M30.4,59.2h0M33.5,73h0M30.3,51.7h0M49.3,24.5h0M42.9,58.3h0M54.6,30.3h0M23.1,42.4h0M30.7,30.1h0M68.9,15.4h0M51.7,63h0M34.4,24.9h0M57.6,63.7h0M60.7,28.2h0M21.6,46.3h0M46.3,82.1h0M46.2,63.9h0M15,31.6h0M23.4,64.7h0M25.6,63.9h0M22,25.1h0M38.6,68.7h0M46.2,30.5h0M37.5,17h0M43.1,24h0M41.2,20.1h0M55.2,61.5h0M41.2,17.3h0M38.9,71.7h0M14.5,66.8h0M53.4,22.1h0M52.6,18h0M45.3,5.9h0M54.4,76.5h0" stroke="#45d672" stroke-width="1.2" stroke-linecap="round" fill="none" opacity="0.95"/><path d="M40,32L43,31L45,32" stroke="#3fd070" stroke-width="1.2" stroke-linecap="round" stroke-linejoin="round" fill="none" opacity="0.9"/></g></svg>
<svg x="939.25" y="425.6" width="123.6" height="124.4" viewBox="0 0 100 100" preserveAspectRatio="none"><rect width="100" height="100" fill="#0c0707"/><use href="#ge2" opacity="0.9"/><use href="#re2" style="mix-blend-mode:screen" opacity="1"/></svg>
<rect x="774.40" y="540.30" width="30.00" height="2.70" fill="#fff"/>
<rect x="900.65" y="540.30" width="30.00" height="2.70" fill="#fff"/>
<rect x="1028.15" y="540.30" width="30.00" height="2.70" fill="#fff"/>
<rect x="959.6" y="462.9" width="11.1" height="11.2" fill="none" stroke="#e8e8e8" stroke-width="0.8"/>
<svg x="685.5" y="590.1" width="123.6" height="124.4" viewBox="0 0 100 100" preserveAspectRatio="none"><rect width="100" height="100" fill="#0b0707"/><g id="rf1" filter="url(#b03)" opacity="0.8"><radialGradient id="h1"><stop offset="0" stop-color="#5a0c16" stop-opacity="0.5"/><stop offset="0.55" stop-color="#5a0c16" stop-opacity="0.30"/><stop offset="1" stop-color="#5a0c16" stop-opacity="0"/></radialGradient><ellipse cx="52" cy="52" rx="34" ry="46" fill="url(#h1)" transform="rotate(-25 52 52)"/><path d="M66.1,45L66.1,49.3L65.1,53.7L62.4,57L59.8,60.5L56.3,63.1L52.2,64.4L48,63.5L44,63.3L40.4,61.5L37.5,58.8L34.8,56.1L33.7,52.2L33.1,48.6L32.4,45L33.5,41.5L35.2,38.6L37,35.8L39.1,33.3L42,32L44.7,29.9L48,29L51.4,29.4L55,29.6L58.5,31.2L61.1,34L63.7,37.1L64.7,41Z" stroke="#c81c34" stroke-width="0.8" stroke-linecap="round" stroke-linejoin="round" fill="none" opacity="0.85"/><path d="M35.2,38.6L37,35.8L39.1,33.3L42,32L44.7,29.9L48,29L51.4,29.4L55,29.6L58.5,31.2L61.1,34L63.7,37.1" stroke="#f03048" stroke-width="1.0" stroke-linecap="round" stroke-linejoin="round" fill="none" opacity="0.9"/><path d="M72.6,54.8L73.2,53.3L73.1,51.7L72.8,50.2M48.9,66.3L47.5,67L46.2,67.9L44.7,68.5L43.1,68.5L41.5,68.7M31.7,26.7L30.7,28L29.9,29.4L29.9,31M45,65.3L43.4,65.3L41.9,64.9L40.4,64.3L38.9,63.7L37.7,62.7L36.5,61.6M68.5,46.4L69.6,45.2L69.9,43.6L70.2,42L70.5,40.5L70.5,38.9L71.1,37.4L72,36.1L72.4,34.5M25.3,45.8L25.3,47.4L25.7,48.9L26.5,50.3L26.5,51.9L26.7,53.5L27,55.1L27,56.7M49,22.6L47.4,22.7L45.9,22L45,20.7L43.7,19.7L43.2,18.2M63.6,33.9L63,32.4L62.9,30.8L63.5,29.4L64.7,28.3L66.1,27.5L67.6,27M23.1,43L23.4,41.5L24.1,40.1L25.4,39L26,37.6M66.5,63.3L65.3,64.4L63.9,65L62.3,65.5M71.3,44.3L72.7,45.1L74.3,45.2L75.8,45.9L77.2,46.6L78.4,47.7L79.5,48.8M53.5,68.4L55.1,68.8L56.5,69.5L57.5,70.8M71.6,39.8L71.8,38.2L71.7,36.6L71.3,35.1M24.6,41L25.3,42.4L25.5,44L25.6,45.6L25.2,47.1L25.1,48.7L25.6,50.2M30,41.3L29.6,42.8L29.5,44.4L30.3,45.8L31.6,46.7L33.1,47.4M35.5,61.1L34.2,60.3L32.9,59.3L31.7,58.3M66.8,39.4L67.7,38L68.2,36.5L68.2,34.9L68.9,33.5L69.8,32.2L71.3,31.5M36,68.3L37.6,68.5L39,69.2L40.6,69.6L41.8,70.7M68.2,56.6L69,55.3L70.1,54.1L70.9,52.7L71.5,51.2L71.8,49.7L72,48.1M27.9,31.6L27.4,33.1L27.7,34.7L27.5,36.3L27.9,37.8L28.7,39.2L30.1,40L31.7,40.2L33.3,40.2M29.6,48L29.7,46.4L30.7,45.1L31.4,43.7M63.4,67.2L61.8,67.4L60.3,67L58.8,66.4L57.2,66.1L55.7,65.7L54.4,64.7M69.6,44.2L70.4,42.8L71,41.3L71.9,39.9L73.2,39.1L74.7,38.5L76.1,37.7L77,36.4M58.5,65.5L60,66L61.3,67L62.8,67.5L64.3,67.9L65.6,68.9M48.6,69.6L47.2,68.8L45.7,68.4L44.1,68.2L42.5,68.4L40.9,68.2M29.8,24.5L31,23.4L32.3,22.5L33.5,21.4L34.4,20.1L34.6,18.5L35.4,17.1L36.7,16.1M71.2,50L70.5,48.6L69.3,47.6L68.5,46.2L68,44.7L68,43.1M32.6,67.8L31.8,66.4L31.2,64.9L30.3,63.6L30.2,62L29.4,60.6L28.4,59.3M38.6,62.6L38.1,61.1L37.6,59.5L37.6,57.9L37.3,56.4M48,23.6L46.5,23.2L44.9,23.5L43.3,23.8L41.7,23.9M37.3,69.7L36,68.8L35.3,67.4L35.3,65.8L35.4,64.2L35.3,62.6L36,61.1M38.5,23.9L39.1,22.4L39.4,20.9L40,19.4L41.3,18.5L42.4,17.3L43.8,16.4L45,15.4M65.3,37.6L64.4,36.3L62.9,35.7L61.3,35.7L59.8,36.2L58.2,36.5L56.6,36.7L55.3,37.5M29.4,48.7L28.6,47.4L27.9,46L27,44.6L25.6,43.9L24.2,43L22.6,43L21,43.1M64,55.8L63.9,54.2L64,52.6L64.8,51.2L65.4,49.7L65.4,48.1L65.9,46.6L67.1,45.4L67.8,44M59.6,60.1L58,60.3L56.7,61.2L55.8,62.6L55.4,64.1M30.9,58.8L29.4,58.2L28,57.5L26.4,57.7L25,58.4L23.6,59.3M37.5,27.9L38.4,26.6L38.6,25L38.9,23.4L38.4,21.9L38.8,20.3L39.4,18.8L40.3,17.5L40.4,15.9M28.7,38.5L28.2,40L28.4,41.6L28.8,43.1L29.8,44.4L31.3,45M66.9,32.5L68.2,33.5L69.5,34.3L70.5,35.6L71.6,36.7M44.2,71.2L45.4,72.2L46.4,73.4L46.6,75L47,76.6L47,78.2L46.5,79.7L45.3,80.8M65.3,25.1L63.8,24.4L62.3,24.1L60.7,24L59.2,23.4L58.1,22.3L57.3,20.9L57.2,19.3M30.7,32.6L29.6,33.8L29.1,35.3L29.1,36.9L29.7,38.4L30.1,40L30.3,41.6L30,43.1M35.1,22.9L36.7,23.1L38,24L39.6,24.1L40.9,25M30.3,60.2L29.1,59.1L28.5,57.7L28.5,56.1L27.7,54.7L26.3,53.9L24.9,53.2L23.9,51.9M66,26.3L64.5,25.8L62.9,25.5L61.6,24.6L60,24.4M22.8,47.3L23.8,46.1L24.6,44.7L25.7,43.5L26.7,42.3L28.1,41.5M41.3,27.4L39.7,27.2L38.3,26.5L36.7,26.5L35.3,25.7L34.4,24.3L33.5,23L32,22.3L30.9,21.3M27.4,31.7L26.9,33.3L26.9,34.9L27.3,36.4M27.6,51.6L27.4,50L27.4,48.4L28.1,46.9M45.4,19.6L46.7,18.7L47.5,17.3L48.7,16.2L49.8,15L51.2,14.3L52.5,13.4L53.8,12.4M46,22.9L44.4,22.6L42.9,22L41.3,22L39.7,21.7L38.2,22L36.6,22.3L35.2,23.1L33.7,23.8M63.9,34.1L65.5,34.4L66.8,35.3L68.2,36L69.8,35.9L71.2,35.1M37.7,62.9L38.9,64L40.3,64.8L41.1,66.1L41.4,67.7L40.9,69.2L41,70.8M69.3,55.7L69.5,54.1L68.9,52.6L68.9,51M28.8,61L29.8,62.2L30.1,63.8L29.6,65.3L29.8,66.9L29.5,68.5L28.8,69.9L28.3,71.4L28.6,73M49.5,20.2L51.1,20L52.6,19.8L54,18.9L55.6,18.6L57.1,19L58.7,19L60.3,19.2L61.9,18.9M39,27.2L37.6,28L36.4,29L34.8,29.3L33.5,30.3L32.1,31M58.4,25.4L57.1,24.5L55.5,24.2L54.2,23.2L52.6,23L51.1,23.3M48.1,25.5L49.3,24.4L50.8,23.7L52.3,23.2M67,64.5L66,65.8L64.9,66.9L64.3,68.4L63.3,69.6M48.5,63.6L50.1,63.3L51.7,63.4L53.2,62.8L54.2,61.5L54.4,59.9L55.1,58.5M59,68.3L58.1,69.6L57,70.8L55.5,71.4L54.1,72.1L53.1,73.4L52.3,74.8L51.1,75.8L49.9,76.9M56.1,26.9L54.9,25.8L53.5,25L52.6,23.7M61.9,69L61.2,70.4L60,71.4L58.5,71.9L56.9,71.6L55.3,71.4L53.8,72L52.2,71.9L50.7,71.3M54.8,26.2L56.4,25.8L57.7,24.9L59.1,24.1L60.5,23.3M67.7,44.7L67.7,46.3L67.3,47.9L66.3,49.1L64.8,49.6L63.2,49.8L61.6,49.6M40.2,69.9L41.5,70.8L42.9,71.6L44.1,72.7L44.9,74L45.4,75.6M54.6,26.7L55.8,27.8L57,28.8L58.5,29.4L59.6,30.5L61.2,31L62.8,31.1L64.2,31.8L65.7,32.2M65,25.3L64,24.1L63.1,22.8L62.6,21.3L61.5,20.1L60.5,18.8L59.9,17.3L59.4,15.8M53.9,22.6L52.4,22.1L50.9,21.7L49.5,20.9L48.3,19.9L46.8,19.1L45.3,18.6L44.3,17.4L43.1,16.3M25.5,35.3L26.1,33.9L26.7,32.4L26.9,30.8L27.9,29.5L28.4,28M31.6,39.9L32.2,38.4L33,37L34.2,36L35,34.6L35.7,33.1L37,32.2M28.5,51.9L29.1,53.4L29.1,55L29.5,56.5L30.4,57.9L31.2,59.3M39.1,23.9L40.4,22.9L41.6,21.9L42.4,20.5M71.3,47.7L72.1,46.3L73.4,45.3L74.6,44.3L75.4,42.9L76.4,41.7L77.1,40.2L77,38.6M68.2,45.3L67.9,46.8L67.2,48.3L66.2,49.6L65,50.6L64.1,51.9L63.2,53.3M28.1,41.3L28.4,42.9L28.1,44.5L28.3,46.1L28.9,47.6L28.9,49.2M30.3,50.7L30,49.1L29.5,47.6L28.4,46.5M63.6,55.7L64.8,54.6L65.9,53.5L67.4,53L69,52.8L70.6,53.2L72.2,53.3L73.8,53.1L75.3,52.6M26,49.5L25.8,47.9L24.9,46.6L24.9,45L24.4,43.5L24,41.9L23.7,40.3L23.3,38.8L22.7,37.3M66.8,52L67.2,50.5L67.5,48.9L67.1,47.4L66.9,45.8L66.2,44.3L65.2,43.1L63.8,42.3M48,21.9L49.6,22.1L51.2,22.1L52.7,21.7L54.2,20.9L55.8,20.8L57.3,20.6L58.9,20.1M66.4,29.8L65.7,28.4L65.2,26.8L64.5,25.4L63.6,24.1L63.5,22.5M49,24.3L47.4,24.6L45.8,24.2L44.2,24.3L42.7,24.8L41.3,25.6M38.7,64.5L40.1,65.3L41.1,66.6L41.9,68M38.9,71.8L37.4,71.4L35.8,71.7L34.2,71.9L32.6,71.9L31.2,72.7L29.7,73L28.1,73.3M64.6,32L66.2,32.4L67.8,32.6L69.1,33.4L70.7,33.5L72.3,33.6L73.8,34.2L75,35.3L76.5,35.9M24.8,42.1L23.7,40.9L22.8,39.6L22.4,38.1L21.4,36.8L20.2,35.8L18.6,35.4L17.2,34.7L15.6,34.5M41.6,24.5L40.3,25.4L38.7,25.6L37.1,25.7L35.7,26.5L34.8,27.8L34.3,29.4L33.3,30.6L32.2,31.7M61.2,60.2L60.8,58.6L59.6,57.5L58.7,56.2L57.8,54.9L57.5,53.3L56.7,52M66.4,79.2L65.8,80.7L65.4,82.3L64.6,83.6M70.2,66.1L70.5,64.6L70,63L70.4,61.5M65.2,73.6L65,75.2L64.3,76.6L63.2,77.8L62.6,79.3L62.7,80.9L62.7,82.5L62.5,84.1L62.1,85.6M67.1,91.7L68.7,92L70.3,91.8L71.8,92.3L73.1,93.2M50.9,71.8L49.9,70.6L48.4,69.9L47.2,68.8L45.9,67.9L44.5,67.2L43,66.5L41.4,66.3L39.9,66.1M57.3,72.3L55.8,72.5L54.2,72.6L52.6,72.1L51.2,71.4L50.2,70.2L49,69.1L47.5,68.6M54.2,68.2L54.5,69.7L54.5,71.3L54.5,72.9L54,74.4L54,76L54.1,77.6L53.8,79.2L53.4,80.7M70.8,91.1L69.2,91.1L67.6,91.3L66.1,91.8L64.5,91.6L62.9,91.5L61.5,92.2L59.9,92.2M65.1,69.3L65.1,67.7L65,66.1L64.6,64.6L64,63.1L64.2,61.5L64.7,60L64.8,58.4L65.2,56.8M42.3,29.2L43.9,29.1L45.5,29.2L46.9,30L48.4,30.4L49.9,31.2L51.4,31.7L53,31.9M54.3,71.5L55.7,72.2L56.9,73.2L58.1,74.3L59.5,75.1L60.5,76.3L61.3,77.7L61.6,79.3L61.8,80.9M62.6,71.3L63.7,70.1L64.2,68.6L64.6,67L65.2,65.5L65,63.9L64.8,62.4L64.6,60.8M46.2,66.5L45.2,65.3L44.8,63.7L44.4,62.1L43.9,60.7L43.3,59.2M62.5,81.1L64,81.6L65.6,81.8L67.2,81.6L68.7,82L70.3,81.7M65,75.8L64.8,74.2L65.3,72.7L65.6,71.1L65.7,69.5M62.1,56.9L62.8,58.4L63.6,59.7L64.9,60.7L65.6,62.1M75,72.3L74.8,70.8L75.5,69.3L75.5,67.7L76.4,66.3L76.4,64.7L76.3,63.1L75.8,61.6M62.5,54.8L62.3,53.2L62.8,51.7L63.6,50.2M72,60.1L72.3,58.5L72.7,57L73.4,55.5L74.5,54.3L75.5,53.1M74.8,73L74.5,74.6L73.6,75.9L72.7,77.3L71.3,78L69.8,78.6M45.5,65L44.7,63.6L44.6,62L45.1,60.5L46.2,59.3L47,57.9L47.2,56.4L47.9,54.9M63.4,70L62,70.8L60.6,71.6L59.4,72.6L58.2,73.7L57.7,75.2L57.5,76.8L57,78.3L56.6,79.9M57.3,75.3L55.7,75.2L54.1,74.9L52.9,73.9L51.4,73.2L49.8,73.1L48.3,73.5L46.7,73.1L45.1,73M61.8,60.4L63.1,61.3L64.1,62.5L65.5,63.2L66.8,64.2M69.5,70.2L69.4,68.6L70.1,67.2L70,65.6L69.7,64L69.7,62.4M58.3,83.6L59.4,84.8L60.8,85.6L62.3,86.2L63.8,86.8L65.3,87.3M61.1,55.7L62.2,56.8L62.8,58.3L64,59.3L65.5,60M61.5,74.7L62.5,73.4L63.8,72.6L65.4,72.6L66.8,73.3L68.4,73.4L69.8,74.2L71.3,74.8L72.9,75M42.3,65.8L42.3,67.4L43.1,68.8L43.7,70.3L44,71.9L44.6,73.4L44.5,75L44.8,76.5L45.4,78M61.2,54.5L60,53.4L58.4,53.1L56.8,52.8L55.2,52.7L53.8,53.3M49.8,66.3L50.2,67.9L50.2,69.5L49.5,70.9M48.7,69.5L49.2,71.1L50.2,72.3L50.9,73.7L51.3,75.3L51.7,76.8L52.5,78.2L53.7,79.2L55,80.2M75.1,76.9L74.7,78.4L74.2,79.9L74.2,81.5M70.3,79.1L71.6,78.1L72.5,76.9L73.2,75.4M33.8,38.2L33.8,36.6L33.6,35L32.9,33.6L32.8,32L33.5,30.5L34.1,29.1M54.2,72L55.5,72.9L57,73.6L58.2,74.7L59.1,76L59.2,77.6L59.8,79.1L60.5,80.5L61.8,81.4M60.9,90.2L62.3,90.9L63.6,92L64.2,93.4M43,70.2L42.9,71.8L42.3,73.3L41.1,74.3L40.2,75.7L38.9,76.6M75.6,70.5L74.7,69.2L74.1,67.7L73,66.5L72.4,65.1L72.2,63.5L71.5,62L71.4,60.4L71,58.9M40.4,64L41.9,64.6L43.3,65.3L44.2,66.7L44.7,68.2L45.3,69.7M69.4,87.7L68.5,89L67.4,90.2L67,91.7L67,93.3L66.5,94.9L66,96.4M56.4,74.2L58,74.3L59.5,74.6L61,75.2L62.6,75.3L64.2,75.6L65.8,75.6L67.3,75M73.7,77.8L73.4,76.2L73.2,74.6L72.7,73.1L72.5,71.5L72.3,69.9L71.9,68.4M48.5,75.1L50.1,75.5L51.5,76.1L53,76.6L54.5,77.2L56.1,77.5L57.4,78.4L58.9,79L60.5,79M62.3,62.9L62.2,64.5L62.8,65.9L62.9,67.5L63.3,69.1L63.5,70.6M67.8,78.3L68.8,77L70,76L71,74.8L71.9,73.4L72.5,72M71.9,68.1L72.2,69.7L72.1,71.3L72.4,72.9L71.8,74.4L72.1,76L72,77.5M53.4,71.2L52.1,70.3L51.2,69L50.1,67.8L49.5,66.3L49.7,64.7L50.3,63.2L50.5,61.6L50.4,60.1M74.2,76.1L74.2,74.5L75,73.1L76.3,72.2L77.7,71.4M59.2,70.5L57.9,69.5L56.5,68.7L54.9,68.8L53.3,69M49.6,74.8L50.4,76.2L50.9,77.7L51.3,79.3M58.5,74.9L57.8,73.5L57,72.1L56.7,70.5L56,69.1M57.6,84.8L56.5,83.7L55.2,82.7L53.8,81.9L52.4,81.2M52,76.9L50.7,75.9L49.7,74.7L49.2,73.2L49.6,71.6L49.8,70M57.8,70.2L59.1,69.2L60.7,68.9L62.2,68.4L63.8,68.7M48.4,64.6L47.9,63.1L47.5,61.5L46.8,60.1L45.7,58.9L44.4,58M63.7,64L63.8,62.4L64.6,61L65.7,59.9L66.8,58.7L67.8,57.4L69.2,56.7L70.6,56L72.2,55.8M69.8,77.2L71.2,76.4L72.5,75.5L73.9,74.8L74.8,73.4L76.2,72.7M50.5,73.2L50.9,71.6L50.7,70L50.4,68.5M68.2,65.9L67.9,64.3L68.1,62.7L68.7,61.2L69.1,59.7M50.7,65.6L49.8,64.3L48.9,63L48.4,61.5L48.2,59.9L48.2,58.3L48.7,56.7M60.2,71.2L58.6,71.2L57.1,70.6L56.2,69.3M43.6,70.5L42.2,69.8L40.6,69.8L39,70.3L37.5,70.7L36.3,71.8L35.3,73L35,74.6L34.3,76M70.3,88.7L68.7,88.9L67.1,89.3L65.6,89.8L64.1,90.4L63.1,91.7L62.9,93.2L63.1,94.8M73.7,74.4L74.3,73L74.2,71.4L74,69.8M64.8,48.2L65.5,49.7L66.2,51.1L66.1,52.7L66.3,54.3L66.9,55.8L68,56.9M63.4,50.5L64,52L64.5,53.5L64.8,55.1L64.7,56.7L63.8,58L62.5,58.9M63.5,46.7L63.4,48.3L63.4,49.9L63.5,51.5L64.2,52.9M49.7,64.5L49.9,66.1L50.8,67.5L51.5,68.9M60.4,56.6L61.3,57.9L61.7,59.5L61.9,61.1L61.5,62.6L61.6,64.2L61.1,65.7M66.5,86.2L68,85.6L69.2,84.6L70.7,83.9M59.8,77.2L58.2,76.8L56.7,76.4L55.2,75.9L53.9,74.9M71.8,67.4L71.6,65.8L71.6,64.2L70.8,62.9M48.1,65.4L48,67L47.7,68.6L46.9,70L46.8,71.6L46.2,73.1L45.9,74.7L46.3,76.2L47.4,77.4" stroke="#bc1a2e" stroke-width="0.6" stroke-linecap="round" stroke-linejoin="round" fill="none" opacity="0.8"/><path d="M70,50L71.6,50.5L73.1,51.3L74.3,52.5L75.6,53.6L76.9,54.7L78.4,55.5L79.9,56.3M74,58L73.6,59.6L73.5,61.3L73.3,63L73.5,64.7L73.5,66.4M56,12L57.4,12.6L58.9,12.5L60.4,12.7M45,10L46.3,10.8L47.6,11.4M68,18L68.5,19.5L68.7,21.1L68.9,22.7L69.2,24.3" stroke="#a81628" stroke-width="0.6" stroke-linecap="round" stroke-linejoin="round" fill="none" opacity="0.8"/><path d="M97,18h0M90,66h0M20,58h0M36,74h0M62,62h0M45,26h0" stroke="#8a1424" stroke-width="1.2" stroke-linecap="round" fill="none" opacity="0.8"/></g></svg>
<svg x="811.75" y="590.1" width="123.6" height="124.4" viewBox="0 0 100 100" preserveAspectRatio="none"><rect width="100" height="100" fill="#07150d"/><rect width="100" height="100" fill="url(#vgrn)"/><g id="gf1" filter="url(#b03)" opacity="0.85"><g filter="url(#b1)"><path d="M64.4,39.5L63.6,39.1M61.8,55.3L61,55M61.4,40.7L61.5,41.6L61.7,42.5M64.4,60.4L65.3,60.3L66.2,60.5M59.1,42.4L60,42.2M37.3,48L38,48.5L38.9,48.5M60.4,62.9L59.6,63.4M58.1,57.5L59,57.4L59.9,57.6M53.5,34.1L54.3,34.5L55,35.1M61.9,52.2L62,51.3M62.8,53.1L63.6,52.9L64.3,52.3M65.7,37.9L64.8,38.2M39.5,37.9L38.7,37.5L37.9,37.7M64.4,50.2L64.5,51.1M44.2,42.4L43.3,42.1L42.7,41.4M56.2,32.2L56.6,31.4M45.8,41L44.9,40.9L44.1,41.3M58.8,31.7L58.8,32.6L58.5,33.5M42.9,46.1L43.6,45.5M58.1,46.8L58.5,47.6L59.4,48M50.6,36L49.9,36.6L49.2,37.2M56.4,39.3L56.9,40.1M63.6,49.2L63.2,48.4M54.8,62.8L54.7,63.7L54.2,64.5M52.5,38.1L53.2,38.5L54.1,38.6M44.9,41.4L45.1,40.6L45.7,39.9M40.2,38.4L39.5,39M59,37.4L59.7,37.9L60.6,37.9M41.2,55.9L40.4,55.5L39.5,55.6M45.2,48.4L44.9,49.3M41.1,52.6L40.3,53L39.4,53.2M61,32.6L61.9,32.4L62.8,32.4M48,61.4L48.8,61M65.1,38.7L65,37.8M53.7,64L54.6,64.2M44.1,59L45,59L45.9,59.1M51.1,57.2L52,57.4L52.8,56.9M61.5,48L62,47.4L62.9,47.2M48.4,48.9L47.7,49.4L46.8,49.4M52.6,37.4L52.8,38.3L52.5,39.1M66.5,44.3L66.4,45.2L65.8,45.9M41.8,55.7L41,55.4M59.8,62.2L60.4,61.5L60.9,60.8M62.7,38.8L63.3,38.2L64,37.6M47.1,34L46.2,34.3M60.8,38.9L61.4,38.2M39.2,49.4L38.8,48.5M52,57.4L52.8,57L53.7,57M43.9,48.3L44.5,48.9M53.2,32.3L53.3,31.5M57.3,62.8L57.9,63.5M47,43L47.7,43.6M49.5,52.7L50.2,52.1M65.9,53.6L66.5,54.2L67.3,54.8M45.9,37.5L45.4,36.7M46.2,43.6L46.9,44.2M60.3,45.7L60.9,46.4L61,47.3M51,46.4L50.1,46.5L49.3,46.2M50.7,52.3L50.2,53L49.7,53.8M54,51.5L53.4,52.1L52.8,52.8M65.6,40L65.9,39.2M46.6,56.4L47.4,56.6M55,41.6L54.4,41L53.9,40.2M39.6,41.6L38.9,41.1L38,41.2M57.6,52.2L56.9,52.7M62.4,47.4L62,48.2M52.6,58.1L52.8,57.3L53,56.4M50,54.7L50.2,55.6L50.1,56.5M68.1,50.4L69,50.3L69.9,50.1M46.7,56.4L45.9,56.8L45.1,57.1M55.2,62.8L55.2,63.7M50,35.3L49.3,35.8L48.6,36.4M70.2,45.5L69.7,46.2M68.6,42.9L69,42.1M63.3,38.6L63.6,37.7L63.8,36.8M66,42L66.6,43L67.2,44L67.7,45.2M70,52L69.8,53.2L69.6,54.4M44,74L45,74.2M66,70L67,70.1" stroke="#1f9a58" stroke-width="2.0" stroke-linecap="round" stroke-linejoin="round" fill="none" opacity="0.5"/></g><path d="M64.4,39.5L63.6,39.1M61.8,55.3L61,55M61.4,40.7L61.5,41.6L61.7,42.5M64.4,60.4L65.3,60.3L66.2,60.5M59.1,42.4L60,42.2M37.3,48L38,48.5L38.9,48.5M60.4,62.9L59.6,63.4M58.1,57.5L59,57.4L59.9,57.6M53.5,34.1L54.3,34.5L55,35.1M61.9,52.2L62,51.3M62.8,53.1L63.6,52.9L64.3,52.3M65.7,37.9L64.8,38.2M39.5,37.9L38.7,37.5L37.9,37.7M64.4,50.2L64.5,51.1M44.2,42.4L43.3,42.1L42.7,41.4M56.2,32.2L56.6,31.4M45.8,41L44.9,40.9L44.1,41.3M58.8,31.7L58.8,32.6L58.5,33.5M42.9,46.1L43.6,45.5M58.1,46.8L58.5,47.6L59.4,48M50.6,36L49.9,36.6L49.2,37.2M56.4,39.3L56.9,40.1M63.6,49.2L63.2,48.4M54.8,62.8L54.7,63.7L54.2,64.5M52.5,38.1L53.2,38.5L54.1,38.6M44.9,41.4L45.1,40.6L45.7,39.9M40.2,38.4L39.5,39M59,37.4L59.7,37.9L60.6,37.9M41.2,55.9L40.4,55.5L39.5,55.6M45.2,48.4L44.9,49.3M41.1,52.6L40.3,53L39.4,53.2M61,32.6L61.9,32.4L62.8,32.4M48,61.4L48.8,61M65.1,38.7L65,37.8M53.7,64L54.6,64.2M44.1,59L45,59L45.9,59.1M51.1,57.2L52,57.4L52.8,56.9M61.5,48L62,47.4L62.9,47.2M48.4,48.9L47.7,49.4L46.8,49.4M52.6,37.4L52.8,38.3L52.5,39.1M66.5,44.3L66.4,45.2L65.8,45.9M41.8,55.7L41,55.4M59.8,62.2L60.4,61.5L60.9,60.8M62.7,38.8L63.3,38.2L64,37.6M47.1,34L46.2,34.3M60.8,38.9L61.4,38.2M39.2,49.4L38.8,48.5M52,57.4L52.8,57L53.7,57M43.9,48.3L44.5,48.9M53.2,32.3L53.3,31.5M57.3,62.8L57.9,63.5M47,43L47.7,43.6M49.5,52.7L50.2,52.1M65.9,53.6L66.5,54.2L67.3,54.8M45.9,37.5L45.4,36.7M46.2,43.6L46.9,44.2M60.3,45.7L60.9,46.4L61,47.3M51,46.4L50.1,46.5L49.3,46.2M50.7,52.3L50.2,53L49.7,53.8M54,51.5L53.4,52.1L52.8,52.8M65.6,40L65.9,39.2M46.6,56.4L47.4,56.6M55,41.6L54.4,41L53.9,40.2M39.6,41.6L38.9,41.1L38,41.2M57.6,52.2L56.9,52.7M62.4,47.4L62,48.2M52.6,58.1L52.8,57.3L53,56.4M50,54.7L50.2,55.6L50.1,56.5M68.1,50.4L69,50.3L69.9,50.1M46.7,56.4L45.9,56.8L45.1,57.1M55.2,62.8L55.2,63.7M50,35.3L49.3,35.8L48.6,36.4M70.2,45.5L69.7,46.2M68.6,42.9L69,42.1M63.3,38.6L63.6,37.7L63.8,36.8M66,42L66.6,43L67.2,44L67.7,45.2M70,52L69.8,53.2L69.6,54.4M44,74L45,74.2M66,70L67,70.1" stroke="#38cc7c" stroke-width="1.15" stroke-linecap="round" stroke-linejoin="round" fill="none" opacity="0.95"/></g></svg>
<svg x="939.25" y="590.1" width="123.6" height="124.4" viewBox="0 0 100 100" preserveAspectRatio="none"><rect width="100" height="100" fill="#120f07"/><rect width="100" height="100" fill="url(#volv)"/><use href="#gf1" opacity="0.9"/><use href="#rf1" style="mix-blend-mode:screen" opacity="1"/></svg>
<rect x="783.80" y="704.80" width="20.60" height="2.70" fill="#fff"/>
<rect x="910.05" y="704.80" width="20.60" height="2.70" fill="#fff"/>
<rect x="1037.55" y="704.80" width="20.60" height="2.70" fill="#fff"/>
<rect x="1005.5" y="624.9" width="11.1" height="11.2" fill="none" stroke="#e8e8e8" stroke-width="0.8"/>
<svg x="685.5" y="719.5" width="123.6" height="124.4" viewBox="0 0 100 100" preserveAspectRatio="none"><rect width="100" height="100" fill="#0a0808"/><g id="rf2" filter="url(#b03)" opacity="0.85"><g filter="url(#b3)"><ellipse cx="48" cy="48" rx="27" ry="27" fill="none" stroke="#6a0e18" stroke-width="10" opacity="0.45"/></g><path d="M32.8,57.4L31.5,57.1L30.2,57.2M66.8,61.1L65.6,61.6L64.5,62.2L63.5,63M33.5,74.6L32.5,73.8M44.4,74.8L43.4,75.6L42.5,76.5L41.6,77.5M35.1,24.4L36.3,24.7L37.5,25.4L38.4,26.3L39,27.4M33.5,62.8L32.8,61.7L32.1,60.6M35.8,66.3L35.9,65M26.2,44.9L27.1,44M34.2,57.1L32.9,57.4L31.8,58L31,59.1M30,61.1L28.8,60.8L27.7,60.1L26.9,59L25.9,58.2M59.6,26.4L60.7,27.2M40.2,62.5L38.9,62.3L37.7,61.9L36.6,61.1L35.5,60.5M32.3,62.4L32.1,61.1L31.8,59.9L31.8,58.6M37.7,74.6L36.4,74.3M40,70.7L38.7,70.8L37.4,71.2M64.2,32.6L65.5,32.2M51.8,75L51.2,76.1M57.9,22.8L58.8,23.7L60.1,24.1L61.4,24.1L62.5,23.4M45.3,25.3L46.6,25.4L47.8,25.1L48.9,24.3L49.8,23.4M67.1,45.6L67.6,46.8L67.6,48.1M67.9,37.2L67.8,38.5L67.8,39.8M63.9,32.8L65.1,32.2L65.9,31.2L66.2,29.9M34.8,65.7L33.5,66L32.2,65.6L31.2,64.7L30.2,63.9M62.7,70.1L61.6,69.5M71.5,48L72.3,49L73.4,49.6L74.4,50.5M51.8,25.2L53,25.8L54,26.6L55.2,27M63.2,30.3L63.5,31.6M25.8,27.9L26.6,26.8L27.7,26.2L28.5,25.2M30.7,65.2L30.3,64L29.4,63.1M24.2,33.7L25,32.7M40.8,35.5L41.5,34.5M47.2,23.7L48.5,24M76,38.7L75.9,40L76,41.3L75.7,42.6L75,43.7M31,29.9L32.1,29.2L32.9,28.1L33.3,26.9M59.6,17.6L60.6,18.4L61.4,19.4M26.1,29.3L26.5,28.1M33.8,33L33.3,31.8L33.2,30.5L33,29.2L32.9,27.9M27.5,58.4L27,57.2L26.4,56M68.8,30.7L68.4,32L68.4,33.3M29.9,53.4L30.4,52.2M26.3,27.9L27.3,27.1L28.4,26.5L29.7,26.3M34.6,61.8L33.4,61.2L32.1,61.2M51,68L49.7,67.9L48.5,68.4L47.3,68.9M77.7,44.4L77.7,45.7L77.4,47M25.8,45L24.9,44.1L24.1,43.1L23.5,41.9M61.6,68.2L61,69.3M33.9,63.5L32.7,63L31.4,62.7M40.8,40.2L39.4,40.7L38,41.3L36.9,42.3L35.9,43.4M56.2,56.2L57.6,55.6L59,55.2L60.3,54.4L61.5,53.5M36.9,39.3L36.5,40.7L35.8,42.1L34.9,43.2L33.7,44.1L32.9,45.4M55.7,49.5L55.7,48L55.8,46.5L56.3,45.1L56.7,43.7M53.6,37.7L55.1,37.8L56.5,38.3L58,38.6M40.7,36.4L41.5,35.2L42.1,33.8L43.1,32.7L44.4,32L45.9,31.7L47.2,31M53.7,55.9L52.5,56.7L51.3,57.6L50,58.5M50.1,39.6L51.6,39.8L53,40L54.5,40.1L56,40.2L57.5,40.7L58.6,41.7L59.9,42.4M55.9,38.1L55.2,36.8L54.5,35.4L53.4,34.4L52.3,33.4L51.1,32.6L49.6,32.2M40,43.5L39.4,44.9L38.3,46L37.1,46.8L36.2,48.1L35.7,49.5M44,72L45.4,72.8L46.5,73.9L48,74.7L49.2,75.7L50.5,76.6L51.9,77.4M40,68L40.3,69.6L40.9,71L41.4,72.6L42.1,74L42.4,75.6M52,74L53.5,74.6L54.8,75.5L56.3,76.1L57.8,76.4" stroke="#c41a30" stroke-width="0.9" stroke-linecap="round" stroke-linejoin="round" fill="none" opacity="0.9"/><path d="M37.5,25.4L38.3,24.4M63.5,34.7L63.6,36L64,37.3L64.7,38.3M37.6,28.3L38.8,28.8M32.4,28.8L32.9,27.6M46.5,65.7L45.5,66.5L44.5,67.3L43.7,68.3M37,20.5L38.2,20.8L39.5,20.8L40.8,21L42.1,21.1M46.8,23.9L48.1,23.9L49.3,23.4L50.3,22.6L51.6,22.4M71.5,49.9L72.5,50.7M28,43.9L27.2,42.9L26.1,42.1L25.4,41.1M26.5,28.9L27.6,28.3L28.9,28L29.9,27.3M72.1,59.7L70.8,59.8L69.5,59.6M20.9,56.3L21.2,55L21.3,53.7L21.4,52.4L21.8,51.2M55.9,68.1L54.8,67.4L54,66.3L53.1,65.4L52,64.7M49.5,20.6L50.7,20.8M52.8,33L53.7,32L54.5,31L54.8,29.7L54.7,28.4M71.4,59.7L71.4,61L71.4,62.3L70.8,63.5M27.3,40.5L27,39.2L26.8,37.9M41.4,31.3L42.6,31.7L43.8,32.1M17.8,43.4L18.4,42.3L19.4,41.5M28.8,61.3L27.5,61.6L26.2,61.6M32.9,72.2L31.8,71.6L30.6,71L29.6,70.3L28.3,69.9M49.5,29.9L50.3,30.9M69.7,28.2L71,28.3L72.2,27.8M47,72.3L45.9,71.6L44.7,71L43.5,70.5M40,71.6L38.8,71.9L37.5,72.1M25.1,50.6L25.1,49.3M29.8,29.7L30.8,28.8M26.7,28.1L26.9,26.8M66.3,35.4L67.5,36L68.5,36.8M39,29.1L39.7,28L40.4,26.9L40.9,25.7M27.5,40.9L28.5,40M74.1,43.1L73.1,44L71.9,44.5L70.6,44.3M43.8,64.3L42.7,65L41.5,65.5L40.5,66.3M78.6,48.7L78.9,50L79.2,51.2L79.5,52.5L79.6,53.8M29.2,47.1L28.6,45.9M74,61.4L72.8,61.9L71.6,62.4L70.3,62.3L69,62M25.9,48L26,46.7L26.1,45.4M36.2,23.3L37.5,23.1L38.7,22.8M66.3,56.7L66.4,58L66.8,59.2M24,26.2L25.3,26.3L26.4,26.9M70.2,48.3L71.1,49.2L71.9,50.3L72.7,51.3L73.7,52.2M34.8,71.2L34.4,70L34.6,68.7L35.3,67.6M25.1,43.1L24.8,41.8L24.3,40.6L23.9,39.4L23.4,38.2M24.3,54.5L23.9,53.2L23.3,52.1L22.3,51.2M37.4,23.7L37.5,22.4L37.8,21.1M66,31.5L66.9,30.6L67.8,29.6L68.9,28.9M64.5,28.8L65.2,29.9L65.7,31L66,32.3M57.3,25.2L58.3,26M68.9,25.4L69.5,26.6L70,27.8L70.7,28.9M27,26L28,25.2M28,20.4L29.2,20.9M60.1,24.1L61.2,23.5L62.5,23.3L63.7,22.8M53.4,20.6L54.6,21.2L55.5,22.1L56.5,22.9M65.5,25.4L65.6,26.7L65.3,28L65,29.2M57.8,22.2L59,22.8M68.6,26.6L68.8,27.9L69.3,29.1M46.3,32.9L47.5,32.4M36,29.8L37.1,30.6M37.7,25L38.4,26.1L38.7,27.3L39.5,28.4M48,27.5L48.6,28.6L48.8,29.9L49.4,31M27.6,26.4L28.7,27.2L29.7,27.9L30.8,28.6M50.6,26L51.8,26.5L53,26.8L54.1,27.5M62.6,23.5L63.9,23.5L65.2,23.3L66.4,23.1M35.5,29.7L36.2,28.6M46,19.8L47.2,20.3L48.3,20.9M68.2,30.8L69.4,31.4L70.6,31.7L71.9,31.5" stroke="#dc2138" stroke-width="2.2" stroke-linecap="round" stroke-linejoin="round" fill="none" opacity="0.92"/><path d="M12,26h0M14,30h0M74,22h0M78,40h0" stroke="#a01828" stroke-width="1.4" stroke-linecap="round" fill="none" opacity="0.8"/></g></svg>
<svg x="811.75" y="719.5" width="123.6" height="124.4" viewBox="0 0 100 100" preserveAspectRatio="none"><rect width="100" height="100" fill="#081510"/><g id="gf2" filter="url(#b03)" opacity="0.85"><radialGradient id="h2"><stop offset="0" stop-color="#10402a" stop-opacity="0.6"/><stop offset="0.55" stop-color="#10402a" stop-opacity="0.36"/><stop offset="1" stop-color="#10402a" stop-opacity="0"/></radialGradient><ellipse cx="52" cy="55" rx="46" ry="44" fill="url(#h2)"/><g filter="url(#b2)"><ellipse cx="33" cy="51" rx="11" ry="7.5" fill="#1f8a55" transform="rotate(15 33 51)"/><ellipse cx="42" cy="51" rx="5" ry="4" fill="#1f7a4a"/></g><g filter="url(#b1)"><ellipse cx="26" cy="47.5" rx="4" ry="3.6" fill="#34c084"/><ellipse cx="32" cy="55" rx="3.4" ry="3.4" fill="#3cd08a"/><ellipse cx="37" cy="50" rx="3" ry="2.8" fill="#30b878"/><ellipse cx="43" cy="51" rx="3" ry="2.6" fill="#2aa56a"/></g><path d="M31,56h0M33,54h0M27,47h0M36,49h0M30,58h0" stroke="#9af0a0" stroke-width="1.2" stroke-linecap="round" fill="none" opacity="0.9"/><path d="M60,30h0M75,47h0M62,60h0M57,73h0M49,45h0" stroke="#1f7a48" stroke-width="1.0" stroke-linecap="round" fill="none" opacity="0.7"/></g></svg>
<svg x="939.25" y="719.5" width="123.6" height="124.4" viewBox="0 0 100 100" preserveAspectRatio="none"><rect width="100" height="100" fill="#0e0c08"/><radialGradient id="h3"><stop offset="0" stop-color="#2e240a" stop-opacity="0.6"/><stop offset="0.55" stop-color="#2e240a" stop-opacity="0.36"/><stop offset="1" stop-color="#2e240a" stop-opacity="0"/></radialGradient><ellipse cx="50" cy="52" rx="50" ry="48" fill="url(#h3)"/><use href="#gf2" opacity="0.9"/><use href="#rf2" style="mix-blend-mode:screen" opacity="1"/></svg>
<rect x="778.40" y="834.20" width="26.00" height="2.70" fill="#fff"/>
<rect x="904.65" y="834.20" width="26.00" height="2.70" fill="#fff"/>
<rect x="1032.15" y="834.20" width="26.00" height="2.70" fill="#fff"/>
<rect x="975.1" y="784.2" width="11.1" height="11.2" fill="none" stroke="#e8e8e8" stroke-width="0.8"/>
<svg x="685.5" y="848.2" width="123.6" height="124.4" viewBox="0 0 100 100" preserveAspectRatio="none"><rect width="100" height="100" fill="#0a0607"/><g id="rf3" filter="url(#b03)" opacity="0.85"><g filter="url(#b3)"><ellipse cx="47" cy="48" rx="17" ry="30" fill="none" stroke="#6a0e18" stroke-width="8" opacity="0.4" transform="rotate(-12 47 48)"/></g><path d="M65.2,63.7L66,65.1L66.9,66.4L68.2,67.4L69.2,68.7L69.8,70.1L70.1,71.7L70.4,73.3L70.9,74.8L71.3,76.3M45.8,80L45,78.6L43.9,77.5L42.6,76.6M36.9,23.7L35.6,24.6L34.2,25.4L32.8,26.2L31.6,27.3M56,73.3L57.3,72.4L58.5,71.4L59.7,70.2L60.6,68.9L61.4,67.6L62.6,66.4L63.5,65.1L64.5,63.8L65.4,62.5M47.6,74.4L48.9,75.3L50.1,76.4L51.4,77.4L52.5,78.5L53.9,79.3L55.5,79.7M37.4,26.3L36.5,27.6L35.6,29L34.8,30.3L33.9,31.7L33.1,33L32.5,34.5L32.2,36.1M30.6,43L30.9,44.6L30.9,46.2L31,47.8L31.2,49.4M36.9,23.8L35.4,24.5L34,25.2L32.6,26L31.2,26.9L29.9,27.8L28.7,28.8L27.5,29.9L26.2,30.8M51.7,28.6L53.2,29.3L54.5,30.1L56.1,30.4L57.5,31.2L58.8,32.1M32.1,38L32.7,36.5L33.3,35L33.6,33.5L34.3,32L35.2,30.7L35.8,29.2M32.1,32.8L32.4,31.3L32.6,29.7L32.7,28.1L32.6,26.5L32.4,24.9L32.1,23.3L31.8,21.7L31.8,20.1L31.6,18.6M64.7,57L64.6,55.4L64.1,53.9L63.9,52.3L63.8,50.7L64,49.1L64.4,47.6L64.4,46L64.5,44.4L64.8,42.8M63.6,58.9L62.9,57.4L62.1,56.1L61.4,54.6L60.3,53.4L59.2,52.3L58.4,50.9M38.5,25.5L39.6,24.3L40.7,23.1L41.9,22.1L43.1,21L44.2,19.8L45.4,18.8L46.5,17.6M31.4,44.6L30.9,43.1L30,41.8L29.4,40.3M37.8,27.8L39.3,27.3L40.9,26.9L42.4,26.5M65.5,51.8L65.5,53.4L65.7,55L66,56.5L66.5,58.1M60.6,63.8L60.4,65.4L60.5,67L60.3,68.6L60.3,70.2L60,71.7L59.3,73.2L58.3,74.4M30.9,31.7L30,33L29.1,34.3L28.7,35.9L28.6,37.5L28.8,39.1M32.7,58.1L31.7,57L30.8,55.6L30.2,54.1L29.8,52.6L29.4,51L28.7,49.6L28.5,48L28.4,46.4M62.5,44L62.8,42.5L62.7,40.9L62.1,39.4L61.5,37.9L60.9,36.4L60,35.1L59.1,33.8L58.3,32.4M46.8,24.7L48,25.8L49,26.9L50.4,27.8M40.5,71.4L41.5,72.7L42.4,74L43.4,75.2L44.4,76.5M31.1,51L31.3,52.6L31.3,54.2L31.9,55.7L32.2,57.2L32.7,58.8L33.4,60.2M61.4,47L61.2,48.6L61.3,50.2L61,51.7L60.9,53.3L61,54.9L61.5,56.5L62.4,57.8L63.3,59.1M60.9,67.4L60.2,68.8L59.5,70.3L58.6,71.6L57.6,72.9L56.4,73.9L55.1,74.7M51.6,77.7L53.2,77.4L54.8,77.2L56.4,77.1L57.9,76.8L59.4,76.1L60.9,75.4M29.8,48.3L29.6,49.9L29.1,51.5L29,53L28.5,54.6L28.2,56.2L27.9,57.7L27.3,59.2L26.4,60.5M41.4,18.8L39.8,18.7L38.2,18.5L36.7,18.3L35.1,18.1L33.5,18L31.9,17.7L30.3,17.4L28.7,17.3L27.2,17M39.6,73.4L40.4,74.9L41.1,76.3L42.3,77.4L43.2,78.7L44.1,80L45,81.3L45.9,82.7L46.7,84.1M60.8,65.6L61.3,67.1L61.2,68.7L61.4,70.3L61.4,71.9M44.5,77.2L42.9,76.8L41.3,76.7L39.7,76.4L38.3,75.8L36.7,75.4L35.1,75.3L33.5,75.2L31.9,75.3M44.8,78.9L43.7,77.8L42.3,77L41.2,75.8L40.1,74.7L38.7,73.9L37.4,72.9L36,72.1M48.1,22.4L46.5,22L45.1,21.2L43.8,20.3L42.4,19.5L40.9,19M32,52.2L32.4,53.7L32.9,55.3L33.5,56.7M32.7,48L32.4,46.4L32,44.8L31.3,43.4L31,41.8L30.4,40.4M32.2,42.6L32.6,44.1L33.2,45.6L33.7,47.1L34.2,48.6L34.4,50.2L34.2,51.8L33.9,53.3L33.3,54.8L33.2,56.4M50,78.5L51.6,78.8L53.2,79.1L54.8,79.1L56.3,78.7L57.7,77.9L58.9,76.9L60,75.7L60.9,74.4L62.1,73.3M44.4,18.5L46,18.5L47.6,18.5L49.2,18.5L50.7,19L52.3,19.2L53.9,19.2L55.5,19.4L57.1,19.2L58.6,18.9M31.1,53.2L30.5,51.8L29.4,50.6L28.1,49.6L27.1,48.4L26.4,46.9M60.2,66.7L60.8,68.2L61.2,69.8L61.5,71.3M55.2,78.5L56.8,78.1L58.4,77.7L59.9,77.5L61.5,77.1M65.7,59.2L64.7,58L63.9,56.6L63.4,55.1L62.6,53.7L62,52.2M54.4,27L54.9,28.5L55.5,30L56.4,31.4L57.4,32.6L58.4,33.9L59,35.3L59.3,36.9L59.4,38.5M59.8,71.5L60.7,70.2L61.8,69L62.6,67.6L63,66.1L63.3,64.5L64,63L64.4,61.5M34.9,57.1L34,55.8L32.9,54.6L31.5,53.8L30.2,53L29,51.9L28.2,50.5L27.4,49.1L26.9,47.6L26.5,46M41,75.7L41.8,77.1L42.4,78.6L42.9,80.1L43.2,81.7L43.1,83.3L43.4,84.8L43.3,86.4L43.2,88M30.6,37.8L30.7,36.2L31.2,34.7L31.5,33.1L32.1,31.6L32.9,30.2L33.7,28.9L34.7,27.6M63.7,48.4L63.7,46.8L64.1,45.3L64.7,43.8L65.7,42.6L67.1,41.7L68.5,40.9L70,40.5L71.5,39.8M29.2,40.3L29,41.9L28.9,43.5L29.1,45L29.1,46.6L29,48.2L28.9,49.8L28.5,51.4L28.2,53M63.2,48.6L62.6,50.1L62.4,51.7L62.2,53.3L62.4,54.9L62.6,56.4L63.1,58L63.4,59.5L64.1,61M61.8,61.8L62.8,60.6L63.6,59.2L64.2,57.7L64.7,56.2M33,37.7L33.4,36.2L33.6,34.6L34.1,33.1L34.8,31.7L35.6,30.3L36.3,28.8L37.3,27.6M29.6,40.5L29.2,39L28.8,37.4L28.7,35.8L28.7,34.2L28.5,32.7M63.8,59.7L63.9,58.1L63.6,56.6L63.1,55L62.5,53.5L61.9,52.1L61.4,50.6L61.2,49M38,14L38.8,15.5L39.8,16.9L40.4,18.5L40.9,20.1L41.1,21.8L41,23.5L41.3,25.2L41.5,26.8L42,28.5L42.7,30L43.6,31.5L44.1,33.1M42,13L42.4,14.7L42.9,16.3L43.7,17.8L44.5,19.3L45.6,20.6L46.4,22L47.2,23.6L48.1,25L48.8,26.6L49.1,28.2L49.5,29.9M35,20L35.4,21.6L35.9,23.3L36.3,24.9L36.6,26.6L37,28.3L37.1,30L37.4,31.6L37.8,33.3L38.5,34.8M45,18L44.4,19.6L44.1,21.3L43.6,22.9L42.8,24.4L42.2,26L42.1,27.7L41.5,29.3L41.2,30.9" stroke="#cc1c32" stroke-width="1.1" stroke-linecap="round" stroke-linejoin="round" fill="none" opacity="0.92"/><path d="M47,31L51,34L55,36L60,33M52,37L56,38M66,51L67,54M61,60L62,66M40,64L43,68M45,74L50,73L54,76M48,78L56,79M36,40L34,47M60,70L57,74" stroke="#e0243c" stroke-width="2.6" stroke-linecap="round" stroke-linejoin="round" fill="none" opacity="0.95"/><path d="M24,29h0M28,42h0M72,24h0M80,39h0M82,41h0M61,86h0M63,84h0M47,93h0M6,85h0M9,84h0M30,4h0M36,3h0" stroke="#a81a2c" stroke-width="1.4" stroke-linecap="round" fill="none" opacity="0.85"/></g></svg>
<svg x="811.75" y="848.2" width="123.6" height="124.4" viewBox="0 0 100 100" preserveAspectRatio="none"><rect width="100" height="100" fill="#06140c"/><rect width="100" height="100" fill="url(#vgrn)" opacity="0.6"/><g id="gf3" filter="url(#b03)" opacity="0.85"><g filter="url(#b1)"><path d="M37,65L39,67L40,65M38,69L40,70M59,66L61,68M66,61L67,65L65,68M68,66L69,69M48,78.5L56,78M48,83L50,84M57,83L58,84" stroke="#1f9a5c" stroke-width="3.2" stroke-linecap="round" stroke-linejoin="round" fill="none" opacity="0.55"/></g><path d="M37,65L39,67L40,65M38,69L40,70M59,66L61,68M66,61L67,65L65,68M68,66L69,69M48,78.5L56,78M48,83L50,84M57,83L58,84" stroke="#3ed488" stroke-width="1.5" stroke-linecap="round" stroke-linejoin="round" fill="none" opacity="0.95"/><path d="M47,29h0M60,55h0" stroke="#1f7a48" stroke-width="0.9" stroke-linecap="round" fill="none" opacity="0.6"/></g></svg>
<svg x="939.25" y="848.2" width="123.6" height="124.4" viewBox="0 0 100 100" preserveAspectRatio="none"><rect width="100" height="100" fill="#0d0c07"/><radialGradient id="h4"><stop offset="0" stop-color="#201c08" stop-opacity="0.7"/><stop offset="0.55" stop-color="#201c08" stop-opacity="0.42"/><stop offset="1" stop-color="#201c08" stop-opacity="0"/></radialGradient><ellipse cx="52" cy="55" rx="50" ry="54" fill="url(#h4)"/><use href="#gf3" opacity="0.9"/><use href="#rf3" style="mix-blend-mode:screen" opacity="1"/></svg>
<rect x="769.40" y="962.90" width="29.10" height="2.70" fill="#fff"/>
<rect x="895.65" y="962.90" width="29.10" height="2.70" fill="#fff"/>
<rect x="1023.15" y="962.90" width="29.10" height="2.70" fill="#fff"/>
<rect x="1010.9" y="926.1" width="11.1" height="11.2" fill="none" stroke="#e8e8e8" stroke-width="0.8"/>
<svg x="685.5" y="1014.8" width="123.6" height="124.4" viewBox="0 0 100 100" preserveAspectRatio="none"><rect width="100" height="100" fill="#080606"/><g id="rg1" filter="url(#b03)" opacity="0.8"><path d="M73.2,56.6L74.3,55.5L75.7,55L76.7,53.8L78,53.3L79.5,53.4L80.9,52.8L82.4,52.4L83.8,52.7M47.6,18.9L46.2,18.6L44.8,19.3L44,20.5L43.4,21.9L43.6,23.4L44.7,24.5L46.2,24.6L47.6,24.2L49,23.7L50.5,23.4L52,23.4M30.9,27.5L29.7,28.3L28.2,28.4L26.8,27.9L25.3,27.6L23.8,27.7L22.3,28L21.3,29.2L21.1,30.7L20.9,32.1M31.7,59.8L32.7,60.9L33,62.4L32.8,63.9L31.8,65L30.6,65.8L29.7,67L29.8,68.5L30.3,69.9L31.2,71.2L32.6,71.6M32.1,49.9L31.5,51.3L31.2,52.8L31.7,54.2L33,55L33.8,56.2L34.1,57.7M28.3,33.7L28.5,32.3L29,30.8L28.9,29.4L28.8,27.9M36.1,64.9L37.1,66.1L38.5,66.4L39.8,67.2L41.3,67.4L42.7,66.9L43.8,65.9L44.3,64.5M53.6,66.4L55.1,66.1L56.5,66.6L58,66.3L59.5,66.3L61,66.5L62.2,67.3L63.1,68.6L63.4,70L63.9,71.4L64,72.9M43.7,19.4L42.8,20.5L42.8,22L43.6,23.3L44,24.7L44.3,26.2L44.9,27.6L44.8,29.1L44.4,30.5M59.4,66.8L60.9,66.5L62.3,67.2L63.5,68.1L64.2,69.4L65.1,70.6L65.7,72L66.9,72.8L68.4,72.9M46.5,67.8L46.9,69.2L47.2,70.7L46.7,72.1L45.8,73.3L44.5,74.1L43.8,75.4M44,73.8L43.1,72.6L42.3,71.4L42.4,69.9L43.1,68.6L44.2,67.6L45.7,67.4L47.2,67.6L48.7,67.7L50,68.4L51.1,69.5L52,70.6M75.5,59.8L76.4,58.6L77.8,58.2L78.8,57L78.9,55.5L79.3,54.1L79.2,52.6L79.4,51.1L79.6,49.6M61.5,74.5L62.7,73.6L64,72.8L65.1,71.7L66.3,70.9L67,69.6L67.3,68.1L68.3,66.9L68.9,65.6L69.5,64.2M64.4,20.7L63.4,19.5L62.9,18.1L61.9,17L61.8,15.5M49.6,15.9L48.3,15.3L46.8,14.9L45.4,14.3L43.9,14.4M74.3,36.6L74.5,38.1L74.5,39.6L73.6,40.8L73.5,42.3L73.8,43.8M56.2,72.7L54.8,72.2L53.3,72.4L52,73.1L50.5,73.4M72.6,37.8L73.4,39L74.3,40.2L75,41.5L76.3,42.3L77.2,43.4L77.3,44.9M70.5,64.6L69.6,65.8L68.8,67.1L67.6,68L66.1,68.3L65,69.3L64.7,70.8L65.2,72.2L65.7,73.6L66.9,74.4L68.3,75.1L69.7,75.5M46.3,16.1L47.7,15.5L49,14.8L50.4,14.2L51.6,13.4M75,47L74.6,48.5L73.5,49.4L72.8,50.8L72.3,52.2L71.8,53.6L72,55.1L71.7,56.5L71,57.9L70.1,59.1L68.8,59.7L67.3,60.3M70.7,58.7L70.3,60.2L69.7,61.6L70.1,63L70.2,64.5L70.7,65.9L71.8,66.9L73.2,67.5L74.6,67.9M72.4,50L72.7,48.5L73.8,47.5L74.7,46.3L74.6,44.8M52.2,68.4L52.9,69.7L53.1,71.2L53.5,72.7L53.1,74.1L52.1,75.2L51.3,76.5L50.5,77.8L49.7,79M73.4,65.4L74.1,64L73.9,62.6L73.5,61.1L73.9,59.7L73.8,58.2L73.1,56.9L72,55.8M65.6,60.6L67.1,60.3L68.2,59.3L69.4,58.5L70.9,58.5L72.4,58.2L73.8,57.7L75.3,57.5L76.7,58L78.2,58.2M29.1,56.6L30,57.7L31.3,58.6L32.5,59.3L33.8,60.2L35.3,60.4L36.7,60.9L38.2,61.2L39.4,61.9M72.3,28.1L71.5,26.8L70.5,25.7L69.3,24.7L68.7,23.4L67.8,22.2L67.6,20.7L66.5,19.7M35.6,66.5L34.9,65.2L34,63.9L33.8,62.4L33.2,61.1L33.2,59.6L33.4,58.1L34.2,56.8L34.5,55.3M32,34.2L31.8,32.7L32,31.2L32.8,30L34.2,29.5L35.7,29.6L37.2,29.1M75.6,35.6L75.4,37.1L74.4,38.3L73.5,39.5L73,40.9L72.7,42.3L72.8,43.8L73.8,45L75.2,45.6L76.6,45.9M30.4,59.1L31.9,59.5L33,60.4L34.5,60.8L35.9,61.3L36.9,62.4M56,67.1L57.4,66.5L58.4,65.5L59.8,64.8L61.2,64.3L62.2,63.1L63.5,62.5L64.5,61.4L65.7,60.5M43.4,24L41.9,24L40.4,23.8L38.9,23.6L37.5,24.1L36.1,24.5L34.6,25M64.4,68.8L65.2,67.5L65.6,66L66.4,64.8L67.7,63.9L68.7,62.8L68.8,61.3M47.1,73.9L48.5,74.5L49.7,75.4L50.2,76.8L51,78.1L52.1,79.1L52.8,80.4L54,81.4L55.2,82.3M63.5,24.5L62.8,23.1L61.9,22L61.4,20.6L61.8,19.1L62.7,17.9L63.7,16.8L63.9,15.3L63.2,14L63,12.5L63.1,11L64.2,9.9M44.6,68.5L43.2,69.1L42,70L41,71.1L40.5,72.5L39.8,73.8L38.4,74.5L37,74.6L35.6,75.3L34.3,76L33.2,77.1M43.1,19.1L44.6,19.4L45.8,20.3L46.6,21.6L47.2,22.9M27.2,55.7L26.8,54.2L26,53L25.5,51.6L24.7,50.3L24,49L23,47.8L21.5,47.5L20,47.5L18.7,46.9M46.5,65.9L45.1,65.3L44.2,64.1L43.8,62.7L42.7,61.6L42.2,60.2L41.1,59.2L39.9,58.3L38.4,58M55.1,73.3L56,74.5L56.4,75.9L57,77.3L57.5,78.7L58.1,80.1M37,59L37.9,60.3L38.3,61.7L39.4,62.8L40.9,63L42.3,62.6L43.8,62.9L45.2,62.4L46.7,62.2L48.1,62.9L49.5,63.1L50.5,64.3M69.5,57.8L69.5,59.3L68.5,60.5L68.3,62L68.1,63.4L68.1,64.9M77.2,51.3L76.6,49.9L75.8,48.6L75.9,47.1L76,45.6L75.9,44.1L76.2,42.7L76.7,41.2L77.7,40.1L78.4,38.8L79,37.4L79.7,36.1M61.5,69.8L62.9,69.2L63.6,67.9L64.5,66.7L65.6,65.6L66.9,65M32.9,35L32.9,36.5L32,37.7L31.9,39.2L32.4,40.6M61.5,64.2L60.1,64.6L58.7,65.2L57.9,66.5L57.1,67.7L57,69.2L57.8,70.5L58.2,72M76.3,41.7L76.9,40.4L77.4,39L77.3,37.5L76.9,36L75.8,35L74.6,34.1L73.6,33L72.5,31.9M71.1,49.6L71.8,48.3L72.7,47.1L73.2,45.7L72.8,44.2L73.3,42.8L72.8,41.4M45.3,69.6L44,68.9L43.1,67.7L42.1,66.5L41.8,65.1L41.8,63.6L42.2,62.1L43.4,61.1L44.4,60.1L45.9,59.6M74.5,28.2L75,29.6L75.8,30.8L77.2,31.4L78.6,32L80,32.4L81.4,33L82.9,32.7L84.4,32.7L85.6,31.8L87.1,31.7M55.6,73.3L56.8,72.3L57.2,70.9L58.3,69.9L59.5,69L61,69.1L62.2,70.1L63.6,70.5L64.6,71.7L65.4,72.9L66,74.3M38,70.6L36.6,70L35.8,68.7L35.5,67.3L34.8,65.9L33.5,65.2L32.7,63.9L31.5,63.1L30.2,62.3L28.9,61.5M50.5,23.6L51.3,22.3L51.6,20.8L51.4,19.3L51.3,17.8L52.1,16.6L52.9,15.3L53,13.8L53.6,12.4L53.6,10.9L54,9.5L54.7,8.2M27.4,33.4L27.4,34.9L28.2,36.2L28.8,37.5L29.1,39M34.9,38.6L34.9,37.1L34.1,35.8L32.8,35L31.5,34.4L30,33.9M77,48.9L78,50L79.4,50.5L80.9,50.4L82.4,50.4L83.5,49.3L84.7,48.4L86.2,48.4L87.4,49.3L88.9,49.3M45.3,66.4L44.1,67.4L43.1,68.5L41.8,69.2L40.5,70L39,69.8L37.5,69.9L36.1,69.3L34.6,69.1L33.3,68.4M38.5,59.2L39.7,60.1L40.2,61.5L40,63L40.1,64.5M49.1,74L47.8,73.4L46.3,73.2L44.9,73.7L43.5,74.2L42.1,74.9L40.8,75.5L39.3,75.2L38,74.4M45.7,66.8L47.2,66.7L48.7,66.6L50.2,67L51.6,66.6L53.1,66.7M45.9,20.9L47.3,20.5L48.8,20.7L50.3,20.9L51.7,20.4L53.2,20.1L54.6,20.6M77.1,47L77.9,48.3L78.6,49.6L79.1,51L80.1,52.2L80.9,53.4L81.6,54.8L82.9,55.5M73.6,48.7L74.8,49.6L76.3,49.9L77.7,50.3L79.2,50.5L80.7,50.3L82.2,50L83.6,50.5L85,50L85.9,48.8L86.9,47.7M50.5,22.7L51.9,23.1L53.2,23.8L54.5,24.7L56,24.9L57.4,24.3L58.7,23.8L59.9,22.8L61.4,22.8L62.6,21.9L63.7,20.8L63.9,19.3M31.6,45.5L32.1,46.9L32.6,48.4L33.8,49.2L34.4,50.6L34.8,52.1L35.9,53.1L36.8,54.3L37.9,55.3M46.5,69.5L47.9,70.2L49.3,70.6L50.7,69.9L52.1,69.4L53.5,68.9L55,69.1L56.3,68.4L57.1,67.1M74.8,43.5L75.1,42.1L75.7,40.7L76.6,39.5L77.7,38.5L78.3,37.1L78.8,35.7M37.6,70.3L39.1,69.9L40.5,69.8L42,69.3L43.4,69.7L44.9,69.4M78.2,58.3L78.6,59.8L78.1,61.2L77.1,62.3L76.2,63.5L75.3,64.7L74.8,66.1M66.8,26.5L68.3,26.9L69.7,27.3L71.2,27.1L72.6,27.6M53,19.4L54.2,20.3L55.6,20.5L57.1,20.7L58.6,20.7L60,20.2L61.5,20.2L62.8,19.4L63.4,18L63.6,16.5M34.8,23L36.3,23.1L37.8,23L39,22.2L39.8,20.9L39.7,19.4L39.7,17.9L40,16.4L40.7,15.1L40.4,13.6M76.8,30.4L75.8,29.3L74.8,28.1L74.2,26.8L73.6,25.4L73.5,23.9L73,22.5L73,21L73.4,19.6M48.8,68.1L47.4,67.8L45.9,67.8L44.6,66.9L43.3,66.3M73.7,28.4L74.5,29.7L74.9,31.1L74.4,32.6L74.1,34L73.1,35.1L71.7,35.8L70.2,35.9L68.8,35.5M56.3,22.9L57.8,23.2L59.3,23.4L60.7,23.6L62.2,23.9L63.5,23.2M75.7,44.3L74.9,45.6L75,47.1L75.4,48.5L76.3,49.8M75.2,54.3L76.3,53.3L77.8,53.2L79.3,53.2L80.8,53M44.1,71L44.9,72.2L44.9,73.7L45.6,75L45.9,76.5L45.7,78L44.9,79.3L44.1,80.5M28.6,42L27.8,40.7L26.6,39.9L26.1,38.4L25.9,37L26.7,35.7L26.8,34.2M56.4,74.4L57.8,74.9L59.2,75.6L60.6,75.4L61.8,74.5M76.1,47.7L75.3,49L73.9,49.7L72.5,50.1L71.5,51.2M78,53.6L76.7,54.4L76.3,55.9L75.7,57.2L74.8,58.4L74.3,59.8L73.2,60.8L71.7,61.2L70.3,61.1L68.8,61.1L67.5,60.3L66.2,59.6M68.1,23.5L69.5,23.9L71,24L72.4,23.5L73.7,22.6L74.6,21.4L75.6,20.3L76.4,19.1L77.6,18.2M53.4,74.6L52.3,73.7L51.2,72.6L49.9,71.8L49.4,70.4L48.9,69M67.9,66L66.6,66.9L65.2,67.2L63.7,67.3L62.2,67.4L60.7,67.2L59.2,67M38.9,69.9L37.4,69.8L36,69.3L34.5,69L33.1,68.7L31.6,68.8L30.4,69.8M41.4,74.1L39.9,73.8L38.4,73.6L36.9,73.6L35.5,73.3L34,73.7L32.5,73.8L31.3,72.9L30.6,71.6M37.1,62.2L36.6,63.6L36,65L35.1,66.2L34.1,67.3M32.1,57.5L30.7,58L29.3,57.6L27.8,57.9L26.6,58.8L25.6,59.9M33.1,58.4L31.9,59.2L30.4,59.7L29,60.1L27.6,59.6L26.6,58.5L25.7,57.3L24.3,56.8M52.5,68.9L51.1,69.5L50.1,70.6L49.6,72L48.3,72.7L46.9,73.4M42.4,61.5L43.5,62.5L43.7,64L44.6,65.3L44.8,66.8L45.4,68.1L45.4,69.6L44.9,71L43.6,71.8M44.4,70.5L45.3,69.3L46.6,68.5L47.9,67.8L48.9,66.6L49.6,65.3L50.8,64.4L52.3,64.2L53.8,64M45.5,71.6L47,71.1L48.4,71.3L49.6,72.3L50.1,73.7L51,74.9L51.9,76.1L52.7,77.4M37.2,72.5L36.7,71.1L37.2,69.7L38,68.4L38.8,67.1M35.8,62.9L37.3,62.6L38.8,62.6L40,61.8L41.5,61.6L43,61.8L44.5,62.2L46,62.4L47.4,62.9M27.5,64.9L27,63.5L26.6,62.1L26,60.7L26.2,59.2L25.5,57.9M35.3,61L34.2,61.9L33.1,62.9L31.8,63.8L30.8,64.9L30,66.2M39.3,71.4L40.7,71.7L41.7,72.9L42.9,73.7L43.3,75.2L44.2,76.4L45.2,77.5L45.2,79L44.6,80.4M36.3,69.6L35.3,68.4L33.9,68L32.8,67L31.7,66L30.4,65.3L29.4,64.1M32.7,69L33.6,70.1L34,71.6L34.8,72.8L35.7,74L36,75.5L36.3,76.9L36.3,78.4L36.1,79.9L36.6,81.3M27.8,66.7L28.8,65.6L29.8,64.5L30,63L30.7,61.6L31.7,60.6M37.2,72.7L38.6,73.2L39.5,74.4L40.6,75.4L41.5,76.6M40.5,61.7L39,61.6L37.6,61.2L36.5,60.1L35.1,59.7L33.6,60.1L32.3,60.8L31.1,61.6L30.5,63L31,64.5M47.2,64.2L47.4,65.7L46.8,67.1L45.4,67.7L44.7,69L43.3,69.7L41.9,69.9L40.4,70.1M45.5,74L46,72.6L46.7,71.3L47.7,70.2L48.8,69.2L49.9,68.2L51.4,68.2L52.8,68.7L53.8,69.9M45,67.3L44.6,68.7L43.5,69.7L43.1,71.2L42.3,72.4L41.6,73.8L40.7,74.9L40.1,76.3L38.9,77.3M30.1,61.4L28.8,62.1L27.9,63.4L28,64.9L27.8,66.3L28.1,67.8L28.6,69.2M20,27L21.3,27.8L22.3,28.9L23.4,29.9L24.3,31.1L25.4,32.1L26.9,32.5L28.3,32.9L29.8,33M24,30L24.4,31.4L24.9,32.9L25.8,34L26.9,35.1L28,36.1L29.4,36.6L30.4,37.8" stroke="#c41a2e" stroke-width="0.8" stroke-linecap="round" stroke-linejoin="round" fill="none" opacity="0.95"/></g></svg>
<svg x="811.75" y="1014.8" width="123.6" height="124.4" viewBox="0 0 100 100" preserveAspectRatio="none"><rect width="100" height="100" fill="#06100a"/><g id="gg1" filter="url(#b03)" opacity="0.75"><g filter="url(#b5)"><path d="M24.0,25.0C26.7,20.8 30.3,17.3 36.0,15.0C41.7,12.7 51.7,10.5 58.0,11.0C64.3,11.5 69.2,14.3 74.0,18.0C78.8,21.7 85.3,27.7 87.0,33.0C88.7,38.3 86.5,44.5 84.0,50.0C81.5,55.5 76.8,61.3 72.0,66.0C67.2,70.7 60.3,74.7 55.0,78.0C49.7,81.3 44.2,86.0 40.0,86.0C35.8,86.0 32.8,82.7 30.0,78.0C27.2,73.3 24.7,64.3 23.0,58.0C21.3,51.7 19.8,45.5 20.0,40.0C20.2,34.5 21.3,29.2 24.0,25.0Z" fill="#0f4426" opacity="0.85"/></g><g filter="url(#b05)"><path d="M40.2,16.6h0M67.1,32.3h0M61,64.4h0M44,58.4h0M71.1,57.2h0M34.7,63.8h0M32.3,66.7h0M57,66.1h0M79.3,55.3h0M23.5,57.9h0M22.2,48.2h0M36.7,29.9h0M57.1,75.9h0M29.7,35.5h0M27.2,31.6h0M46.9,74.4h0M56.4,62.7h0M61.3,17.3h0M78.6,47.1h0M57.9,65.2h0M30.7,51.5h0M56.5,66.5h0M49.4,23h0M45,82.2h0M83.7,45.8h0M41.6,76.7h0M32.5,45.6h0M68.1,20.1h0M81.7,32.9h0M27,47.5h0M66.8,24h0M31.4,52.5h0M31.4,35.5h0M66.1,23.9h0M37.1,77.5h0M28.7,21.7h0M52.1,27h0M70.6,39.8h0M40.7,34.2h0M29.9,58.4h0M77.8,52.6h0M38.3,75.1h0M52.1,21h0M33.8,54.9h0M41.7,72.3h0M59.1,20.2h0M50.4,15.6h0M41.4,80.2h0M43.7,65.5h0M55.5,66.7h0M33.5,47.5h0M39.7,43h0M29.1,44.1h0M34.6,71h0M40.3,40h0M74.1,49.9h0M21.6,35.7h0M71.9,25.8h0M27.4,24.6h0M42.2,71.3h0M81.4,52.2h0M65.7,24.8h0M85.6,39.6h0M74.2,40.1h0M56.3,65.8h0M36.3,60.7h0M32.3,19.2h0M40.7,50.2h0M36,41.4h0M70.7,43.4h0M37.6,68.1h0M67.5,61h0M43.4,17.8h0M32.4,73.4h0M54.2,11.8h0M64.1,26.8h0M30.3,32.2h0M85.4,33.3h0M67.7,18h0M67.9,53.7h0M29.6,72.4h0M59.1,67h0M50.6,75.6h0M36.4,44.5h0M44.8,18.4h0M62,72.2h0M56,75.5h0M69.1,25.1h0M54,77.6h0M49.1,19.7h0M86,37.5h0M63,67.4h0M79.5,44.8h0M31.8,36.3h0M38.3,28.7h0M59.6,12.9h0M68.2,38.9h0M21.3,38.4h0M32.2,37.4h0M53.9,12.7h0M70.1,29.5h0M38.5,38.5h0M35.9,17.6h0M62.9,32.1h0M45.9,74.3h0M21.8,47.1h0M49.6,29.9h0M45.4,18.7h0M32.9,50.4h0M35.3,74.2h0M34,68.2h0M61.3,18.2h0M36.6,18.2h0M32.4,43.8h0M69,53.1h0M42,26.9h0M32,41.4h0M39.1,16.7h0M35.1,33.5h0M65.2,18.8h0M32.8,34.5h0M32.4,65.2h0M44.7,81.1h0M29.2,49.9h0M40.5,80.7h0M57.1,70.6h0M34,44.4h0M28.5,58.1h0M61.1,65.3h0M68.1,57.9h0M44.1,72.8h0M52.9,31.2h0M79.6,53.5h0M71.2,62.7h0M79.5,52.3h0M76.9,57.8h0M40.2,34h0M44.2,18.3h0M28.1,27.6h0M64.8,68.2h0M46.8,14.3h0M79.9,48h0M26.2,48.3h0M64.1,23.2h0M33.4,65.9h0M34.9,63.6h0M56.2,65.2h0M80.9,46h0M70.9,60.1h0M29.3,45.4h0M72.2,55.7h0M59.8,17.2h0M45.3,75.6h0M68.1,22.7h0M36.7,43.7h0M27,39.6h0M35.1,31.1h0M48.9,76h0M44,14.6h0M81.5,40.2h0M44,32.8h0M55.4,73.9h0M39.7,84.2h0M42.5,30.8h0M67.7,32.6h0M29,25.2h0M43.5,63.5h0M35,68.6h0M41.7,31.7h0M34,55.1h0M45.6,77.7h0M33.7,33.4h0M76.6,32.7h0M82.8,37.1h0M32.1,70.6h0M85.9,34.2h0M35.3,69.1h0M72.3,60.6h0M59.3,63.5h0M50,21.8h0M54.7,65.5h0M22.2,50.6h0M58.4,26.6h0M42.7,64.5h0M63.1,71h0M60,28.2h0M43.8,19.4h0M76.7,33.3h0M41.2,26.7h0M51.2,64.5h0M38.8,54.4h0M70.5,57.2h0M73.7,48h0M52.4,75.8h0M73.3,27.7h0M35.8,30.3h0M48.2,77.8h0M25.8,55.5h0M39.7,29.9h0M53.5,76.9h0M80.2,43.2h0M67.8,60.2h0M73.6,59h0M31,70.4h0M35.6,57.7h0M39.7,48.3h0M66.1,24h0M35.1,72.3h0M34,57.7h0M76.9,50.7h0M63.9,22.2h0M52.4,71.6h0M42.8,59.3h0M73.8,45.9h0M51.1,23.2h0M39.4,72h0M29.3,70.4h0M25.1,27.4h0M43.7,37.6h0M62,28.1h0M72.7,18.3h0M65.6,57.4h0M31,39.7h0M80.9,46.3h0M52.6,30.1h0M48.3,31h0M23.9,55h0M74.1,39.2h0M71.9,28.2h0M39.7,71.9h0M63.1,25.2h0M33.1,66.9h0M21.6,47.6h0M73.7,31.6h0M22.6,48.4h0M79.4,38.3h0M29.6,26.3h0M66.5,16.9h0M59.8,20.6h0M39,74.9h0M78.1,28.7h0M41.5,38.6h0M20.6,40.4h0M31,22.4h0M45.7,33.1h0M35.1,63.8h0M66.5,64.9h0M29.9,46.4h0M33.8,76.9h0M29.1,49.1h0M39.5,58.2h0M67.3,30.8h0M74.6,46.1h0M69.9,45.2h0M41.6,17h0M41.8,27.7h0M29.3,59.9h0M67.1,26.2h0M27.5,33.5h0M77.8,23.4h0M74.9,49.1h0M46,14.5h0M52.2,64.6h0M32.1,71.7h0M42.5,54.5h0M75.1,61.5h0M42.8,71.5h0M48.3,61.9h0M70.4,51.4h0M39.5,85.2h0M45.3,81.4h0M74.6,31.8h0M65.2,20.8h0M63.7,64.5h0M61.8,25.2h0M40.7,63.4h0M42.2,21h0M41.6,65.6h0M72.6,20.5h0M30,29h0M35.1,29.5h0M41.1,69.8h0M34.9,31.3h0M82.6,40.9h0M25.4,51.3h0M40.9,80.5h0M47.6,28.4h0M47.6,24.9h0M54,62.8h0M38.7,45.9h0M68.6,56.8h0M70,34.2h0M39.1,27.2h0M44.6,83.1h0M43.3,38.3h0M76.9,50.4h0M35,66.7h0M38.4,30h0M28.8,30.2h0M73.7,41.7h0M47.7,16.4h0M81.5,37.6h0M33.2,69.5h0M46.1,62.6h0M30.1,24.8h0M27.6,63.1h0M49.4,31.5h0M53.8,26.5h0M52.1,28.4h0M22.6,52.2h0M71.2,34.1h0M77.3,45.9h0M30.4,24.9h0M66.5,63.8h0M45.6,82.3h0M51.8,27.8h0M55,13.9h0M78.2,25.1h0M53.8,72.7h0M75.2,22h0M29.6,50.3h0M74.1,54.1h0M44,29.9h0M41.7,36.2h0M51.2,29.8h0M81.7,39.6h0M32.8,79.4h0M58.2,13.4h0M34.3,20h0M32.6,59h0M35.8,64.3h0M74.8,21.5h0M64.7,67.2h0M55.8,19.8h0M76.6,53.1h0M33.6,77.5h0M32,77h0M85.1,37.1h0M54.1,74.9h0M28,63.5h0M44.6,24.7h0M80.4,50.3h0M32.6,62.9h0M29.7,56.5h0M36,45.7h0M68.1,30.6h0M34.5,40.9h0M42.8,70.8h0M36,65h0M77.7,39h0M46.7,21.8h0M74.6,48.5h0M33.2,78.1h0M81.4,40.8h0M24.9,56.5h0M68.3,40.5h0M51.3,26.1h0M44.2,19.8h0M51.5,25.5h0M32.7,54.7h0M62.5,23.4h0M41.5,36.6h0M86.2,36.6h0M43.1,26.8h0M30,49.7h0M23,44.8h0M24.2,52.3h0M71,20.5h0M33.6,75.2h0M47,15h0M23.8,33.4h0M25.4,50.6h0M64.3,16.8h0M61.6,62.7h0M36.7,26.8h0M23.9,27.5h0M69.6,54.1h0M58.8,23.3h0M74.5,28.4h0M56,68.2h0M45.6,66.9h0M64.8,17.9h0M32.3,59.7h0M28.3,41.7h0M71,52.3h0M69.2,19.5h0M68.8,39.9h0M74.3,47h0M35.4,40.9h0M72.4,63h0M48.4,26.1h0M69.1,20.9h0M32.2,20.5h0M38.4,66.2h0M41.5,66.4h0M84.3,46.7h0M27.5,52.4h0M41.5,52.4h0M43.3,57.4h0M34,47.9h0M27.7,69h0M54.3,12.5h0M31,28.2h0M60.1,15.8h0M39.7,32.7h0M34,55.9h0M64.6,26.4h0M32.8,53.8h0M45.8,13.6h0M36.1,32.4h0M75.8,34.8h0M27.6,48.2h0M26.2,33.4h0M69.5,66.5h0M76.7,48.9h0M29.5,68.7h0M39.8,23.9h0M45,62.5h0M57.3,17.2h0M34,74.5h0" stroke="#1a7840" stroke-width="1.5" stroke-linecap="round" fill="none" opacity="0.6"/></g><path d="M41.6,27.4h0M45.3,60h0M46.4,24h0M37.6,73.7h0M43.3,68.8h0M74,33.7h0M32.8,63.4h0M65.5,57.8h0M41.4,53.2h0M49,69.3h0M46,73.2h0M65.1,30.3h0M28.6,44.6h0M71.1,52.5h0M36.7,61.4h0M50.7,29.4h0M75.5,34.5h0M57,23.3h0M45.2,58.9h0M39.9,44h0M29.7,54.8h0M40.4,59.3h0M45.7,28.8h0M46.2,64h0M67.3,54.5h0M47.2,27.5h0M50.9,30.2h0M36.3,69.6h0M67,20.9h0M73.1,44.7h0M33.6,44.9h0M55.8,19.5h0M55.3,29.7h0M47,19.7h0M37.1,48.4h0M63.5,59.9h0M35.4,69.3h0M43.2,29.7h0M31.1,46.5h0M34,34.3h0M33.9,53.5h0M38.3,54.7h0M34.7,27.6h0M61.1,32.4h0M37.7,59h0M46.1,67.8h0M58.4,20.2h0M33.6,32.4h0M49.4,67.9h0M72.2,28.6h0M31.7,32.4h0M40.9,20.9h0M50.5,25.7h0M48.2,62.4h0M41.8,53h0M67.8,22.8h0M29.8,33.5h0M32.2,41.9h0M67,38.8h0M39.9,52.5h0M57.6,30.9h0M45.6,64.1h0M39.8,52.8h0M34.9,28.5h0M35.8,38.7h0M33.9,64.6h0M54.3,23.8h0M59.8,29.8h0M51.3,29.4h0M57.4,67h0M56.4,17.3h0M40.9,63.3h0M58.8,28.3h0M40,56.7h0M40.6,45.7h0M45.2,60.6h0M31.7,50.9h0M72.7,48h0M61.3,29.9h0M75.2,46.2h0M41.4,58.1h0M45.6,74.8h0M70.3,36.4h0M34.9,34.9h0M48.5,26.8h0M69.2,40.5h0M38.9,54.2h0M40.8,64.3h0M72.6,28.1h0M66.4,33.7h0M31.9,55.5h0M35.2,59.1h0M34.6,63.4h0M38.8,52.8h0M47.4,22.3h0M70.2,43.7h0M44.6,28.3h0M38.9,24.4h0M41.7,64.1h0M51,23.2h0M29.8,44.7h0M78.4,36.5h0M32.9,60.6h0M46.3,30.7h0M49,63.3h0M35.1,65.8h0M39.1,52.8h0M70.5,23h0M36.8,23.4h0M54.5,69.2h0M41.9,33.2h0M35.7,62.4h0M35.4,64.2h0M33.4,49.6h0M38,27.4h0M50.9,25.9h0M40.1,34.1h0M38.7,38h0M75.3,48.9h0M35.8,42.9h0M39.1,38.6h0M42.3,55.7h0M54.8,22.4h0M71.4,39.1h0M33.4,60.7h0M39.3,39.8h0M66,35.3h0M74.6,28h0M61,32h0M50.5,71h0M55.1,63.6h0M74.3,40.6h0M49.3,69.5h0M41.4,22.6h0M75.7,31.7h0M70.6,56.3h0M59.5,20.7h0M36.1,58.7h0M47.6,18.8h0M71.2,52.3h0M32.8,48.6h0M55,63.8h0M47.4,61.4h0M34.9,67.6h0M38,39.5h0M75.4,32.5h0M39.7,43.1h0M56.1,26.7h0M43.4,75.8h0M69.2,51h0M64.6,26.6h0M29.1,34.3h0M36.1,67.9h0M34.3,35h0M65.3,62h0M41.1,39h0M31.3,43.9h0M50.8,70.9h0M55.3,63.8h0M34.9,65.2h0M56.9,21.2h0M48.1,32h0M40,72.2h0M40.2,37.5h0M49.1,31.9h0M32.5,31.1h0M29,40.5h0M35.8,40.8h0M32.9,55.1h0M36.2,67h0M52.2,67h0M77.6,34.8h0M50.4,69.4h0M70.5,55.4h0M48.4,70.7h0M57.4,19.3h0M69,28.6h0M55.2,65.7h0M40.9,49.4h0M64.3,23.3h0M73.3,26.5h0M48.7,25.1h0M77.6,37.8h0M45.2,33h0M72.4,36.8h0M73.5,39h0M47.2,20.1h0M45.3,25.1h0M63.1,26.8h0M70.5,50.8h0M40.4,49h0M49.4,66.1h0M39,39.9h0M53.7,68.2h0M41,37.5h0M68.5,33.2h0M66.4,25.3h0M62.4,33.5h0M67.6,30.3h0M35.7,61.7h0M60.6,31.8h0M55.8,62.7h0M38.8,41.3h0M47.9,70.5h0M52.2,67.5h0M39.7,72.5h0M37,44.3h0M39.6,69.4h0M39.7,65.9h0M51.9,22.9h0M69.8,43.1h0M38.1,23h0M53.8,17.1h0M74.4,33.9h0M37.9,43h0M31.3,52.8h0M40.8,26.9h0M75.1,38.8h0M73.5,46.1h0M55.6,17.3h0M43.3,66.2h0M34.7,68.4h0M39.9,24.6h0M36.2,38.8h0M63,28.3h0M71.2,42.5h0M41,71.7h0M70.6,33.5h0M34.4,27.7h0M47.2,62.5h0M51.6,21.6h0M28.5,48.2h0M69.8,23.8h0M38.2,61.2h0M47.4,30.9h0M54.3,31.3h0M68.1,34.3h0M40.5,76h0M40.4,48.1h0M59.5,64h0M41,34.6h0M60.5,23.8h0M53.2,17.7h0M78.7,35.6h0M56.9,67.3h0M42.8,29.8h0M42.8,20.8h0M59.2,29.8h0M76.8,41.4h0M53.7,20h0M37.7,48.7h0M58.2,25.4h0M70.2,36.2h0M35.2,31.7h0M66.8,32.2h0M76.9,34.7h0M66.3,30h0M69.2,53.9h0M69.7,49.7h0M47.9,64.3h0M71.4,32.5h0M52.8,19.3h0M45.7,22.3h0M37.2,51.1h0M31.8,50.8h0M40.4,32.5h0M39.6,28.9h0M72.1,26.3h0M38.5,30.2h0M41.4,33h0M78.2,40.1h0M31.1,40.8h0M74.4,27.6h0M52.7,17.6h0M34.3,32.3h0M35.4,49.2h0M41,65.2h0M43.5,36.7h0M39.5,48.4h0M71.2,45.9h0M45.9,24.4h0M69.1,33.9h0M41.4,39.7h0M60.3,29.5h0M37.5,60.3h0M29.8,51h0M33.5,63.3h0M34.1,31.4h0M30.5,49h0M30.1,31.6h0M47.7,24h0M40.6,77.5h0M28.6,38.9h0M38,36.7h0M74.6,27.6h0M29.3,41.6h0M38.4,49.3h0M67.1,24.2h0M65,33.4h0M34.1,57.5h0" stroke="#239a52" stroke-width="1.4" stroke-linecap="round" fill="none" opacity="0.75"/><path d="M57.9,26h0M31.8,40.9h0M67.1,58.4h0M57.1,63.5h0M72.3,44.6h0M70.6,25.1h0M53.4,68.3h0M58,25.5h0M29,49.1h0M76.9,36.1h0M47.7,28.7h0M37.4,37.1h0M50.9,27.1h0M75.4,47.5h0M70.9,52.5h0M37.6,69.5h0M53,26.7h0M71.9,25.9h0M40.5,61.1h0M74.8,40.7h0M31.5,38.3h0M72.5,50.7h0M40.9,20.4h0M74.4,48.7h0M39.5,32.3h0M47.3,71.6h0M55.2,21.2h0M58.7,64h0M69.9,34.9h0M54.9,30.2h0M73.7,39.7h0M41.4,24.9h0M48,62.1h0M35.3,31.7h0M75.2,35.5h0M51.4,26.7h0M64,60.2h0M32.4,37.6h0M33.1,59.4h0M55.8,23.1h0M47.2,66.1h0M73.3,44h0M41.8,38.5h0M37.5,66.1h0M43.9,28.7h0M50,27h0M57.3,20.9h0M64.3,60.4h0M44.9,63.5h0M30,33.9h0M38.3,50.7h0M51.4,24.1h0M66.7,57.8h0M40.3,44.6h0M40.1,57.1h0M39.5,36.8h0M69.2,48.3h0M57.1,23.7h0M43.8,30.8h0M41.4,20.7h0M62.7,61.1h0M47.3,22.9h0M35.6,44.6h0M41.8,65.2h0M31.6,42.8h0M54.5,69.1h0M67.9,40.5h0M43.2,22h0M70.2,48.5h0M42.8,37.2h0M32.3,48.6h0M70.5,25h0M40.5,30.8h0M29.5,46.5h0M38,53.7h0M33.9,33.2h0M31.5,29.2h0M33.7,56h0M67.1,58.3h0M66.7,24.7h0M34.8,32.9h0M37,44.3h0M39,45.8h0M49.5,66.3h0M41.6,62.1h0M44.9,26h0M76.9,45.3h0M54,63.7h0M33.3,28.6h0M39.2,32.6h0M32.9,62.1h0M66.3,61.2h0M42.8,26.7h0M72.8,52.9h0M30.9,31.2h0M53.4,19.4h0M33.7,64.8h0M71.1,37.4h0M30.5,36h0M40.9,38.6h0M39.9,74.7h0M70.6,45.8h0M58.5,30.7h0M65.7,30.7h0M60.7,62.1h0M71.8,42.9h0M31.8,45.7h0M69.1,39.2h0M40.8,22.8h0M38.8,46.8h0M57.8,20h0M61.2,27.7h0M55.1,65.2h0M35.8,68.4h0M32.3,58.2h0M71,50.5h0M41.7,36.5h0M37,35.3h0M43.5,74.7h0M43.4,76.4h0M62.4,62.2h0M56.1,25.5h0M59.8,25.6h0M39.4,37h0M48.7,24.3h0M42,36.4h0M51.2,65.4h0M35.5,67.2h0M53.4,28.1h0M40.5,30.8h0M42.1,70.7h0M39.8,71.9h0M60,63.7h0M33.1,62.9h0M48.8,26.6h0M36.2,34.9h0M42.5,67.5h0M32.6,58.5h0M75.6,32.5h0M43,20.4h0M65,22.5h0M40.2,67.1h0M39.8,44h0M38.4,39.6h0M45.3,71.9h0M37.4,56.3h0M62.5,19.7h0M56.5,65.7h0M40.4,46.5h0M41.6,31.5h0M41.2,74.8h0M39.9,47h0M70.4,37.2h0M67.8,39.1h0M55.2,66.5h0M50.6,24.7h0M33.2,30.8h0M56.8,23.3h0M37.1,60.3h0M74.9,45.9h0M32.4,42.3h0M31.5,36.7h0M67.9,26h0M35.5,30.9h0M39.1,35.1h0M44.2,19.7h0M35.1,70.4h0M57.7,28.4h0M29.4,43.9h0M65.4,25.7h0M44.8,36.3h0M36.7,63.6h0M68.4,41.3h0M74.1,39.8h0M53.5,26.1h0M37.6,39.2h0M49.5,28.2h0M29.6,39.5h0M49.4,65.9h0M65.5,31.6h0M78.5,38.7h0M57.6,65.2h0M37.4,57.9h0M41.9,23.2h0M41,34h0M71,51.5h0M51.5,65.2h0M62.5,26.9h0M39.9,57.1h0M65.1,31.8h0M65.8,20.8h0M44.7,25.7h0M78,35.5h0M57.2,28.5h0M52.5,65.9h0M55.3,25.6h0M34.4,48h0M48.3,23.2h0M40.1,40.9h0M57.3,21.8h0M60.5,61.5h0M42.1,32.4h0M36.4,56.8h0M38.5,24.2h0M75.1,33.8h0M36.2,36.4h0M37.8,30.6h0M35.5,31.5h0M70.8,39.1h0M58.5,19.8h0M41.7,31.5h0M78.7,33.6h0M45.8,73.9h0M71.4,41.9h0M56.8,31.2h0M70.5,26.2h0M53,70.2h0M50.1,67.3h0M75.8,45.8h0M48,72h0" stroke="#3cc872" stroke-width="0.95" stroke-linecap="round" fill="none" opacity="0.9"/><ellipse cx="55" cy="47" rx="14" ry="15.5" fill="#0e3e24" stroke="#1f8a4a" stroke-width="0.7"/><path d="M34,36h0M69,56h0M57,64h0" stroke="#6fe898" stroke-width="1.7" stroke-linecap="round" fill="none" opacity="0.9"/></g></svg>
<svg x="939.25" y="1014.8" width="123.6" height="124.4" viewBox="0 0 100 100" preserveAspectRatio="none"><rect width="100" height="100" fill="#0a0c07"/><use href="#gg1" opacity="0.9"/><use href="#rg1" style="mix-blend-mode:screen" opacity="0.8"/></svg>
<rect x="784.10" y="1129.50" width="20.30" height="2.70" fill="#fff"/>
<rect x="910.35" y="1129.50" width="20.30" height="2.70" fill="#fff"/>
<rect x="1037.85" y="1129.50" width="20.30" height="2.70" fill="#fff"/>
<rect x="973.1" y="1094.9" width="11.1" height="11.2" fill="none" stroke="#e8e8e8" stroke-width="0.8"/>
<svg x="685.5" y="1144.3" width="123.6" height="124.4" viewBox="0 0 100 100" preserveAspectRatio="none"><rect width="100" height="100" fill="#090606"/><g id="rg2" filter="url(#b03)" opacity="0.8"><g filter="url(#b3)"><ellipse cx="50" cy="55" rx="42" ry="9" fill="#4a0a12" opacity="0.45" transform="rotate(-42 50 55)"/></g><path d="M67.7,34.5h0M37.4,77.7h0M23.3,79.3h0M27.9,80.2h0M55.7,62.2h0M32.7,81.7h0M55.9,61.5h0M25.5,72.3h0M26.3,86.4h0M30.5,75.5h0M49,63.5h0M72.2,47.3h0M21.7,80.2h0M50.7,64.3h0M51.9,62h0M66.5,37.4h0M80.7,34.4h0M19.2,82.8h0M56.6,37h0M29.7,61.1h0M83,34.4h0M52.9,61.8h0M42.1,62.3h0M38.1,75.5h0M31.8,72.4h0M49.5,72h0M66.1,44.7h0M34,68.9h0M30.2,76.8h0M76,32.9h0M66.7,50h0M41.5,62.4h0M52.3,60.2h0M63.4,34h0M71.3,34.5h0M38.8,77.8h0M44.6,74.2h0M52.5,61.8h0M69.6,39.1h0M73.2,31.1h0M67.8,41.9h0M61.1,39.9h0M24,85h0M23.5,75.3h0M79.5,32.3h0M66.5,44h0M64.7,53.2h0M28.9,64.1h0M57.1,36h0M48.8,61h0M61.3,34.4h0M51.2,70.4h0M74.4,43.9h0M64.3,53.6h0M21.4,83.4h0M59.5,37h0M65.6,36.2h0M62.4,59.1h0M44.8,65.8h0M58.8,38.8h0M39.5,70.9h0M41.3,68.4h0M28.9,75h0M64.9,33.3h0M35.7,60.1h0M29.4,80.1h0M73.1,36.1h0M43.2,55.7h0M51.5,60.5h0M29.6,63.8h0M44.8,61.4h0M80.6,38.2h0M67.7,49.9h0M48.1,69.6h0M49.2,64.8h0M19,87h0M79.6,27.4h0M78.2,36.4h0M72.2,31.2h0M24.9,76.8h0M33.7,57.5h0M73.9,26.6h0M64.5,32.4h0M37.3,52h0M40.5,54.9h0M52,39.2h0M79.4,29h0M65.2,41.9h0M35.4,70.3h0M75.5,33.3h0M59.4,36.7h0M77.2,41h0M20.1,84.4h0M40.6,61.6h0M24.1,79.2h0M39.9,74.5h0M38,66.1h0M62,36.5h0M82.9,28.2h0M70.3,41h0M72.6,33.1h0M31.2,72.5h0M66.1,35.2h0M36.2,77h0M21.1,76.6h0M80.4,28.1h0M38.8,56h0M66.9,32.9h0M42,77.4h0M80.6,27.4h0M23,76.1h0M82.5,35h0M34.7,67.9h0M47.6,65.4h0M51.8,60.2h0M67.1,46.1h0M62.9,42.3h0M47.1,68.4h0M76.7,42.8h0M62.9,57.4h0M25.7,83.3h0M17.8,85.4h0M19.7,76h0M27.6,82.1h0M56.3,59.2h0M74.6,40.6h0M67.4,38.1h0M40.2,61.5h0M38.5,53.3h0M68.3,35h0" stroke="#b0182a" stroke-width="1.7" stroke-linecap="round" fill="none" opacity="0.8"/><path d="M79.6,31.7h0M61.4,34.5h0M80.5,27h0M73.7,44.2h0M30.9,66.6h0M73.9,25.8h0M43.1,60.8h0M41.2,59.4h0M66.8,46.6h0M37.4,68.3h0M63.4,34.8h0M38.5,52.7h0M16.5,83.8h0M72.5,29h0M28.3,62.2h0M35.8,81.1h0M77.4,31.3h0M51.4,60.9h0M37.4,63.6h0M71.8,41.7h0M77.6,33.4h0M77.7,41.9h0M34.3,74.7h0M29.1,71.3h0M45.4,64.2h0M29.2,60h0M31.6,72.8h0M42,61.9h0M81.8,27.8h0M80.6,25.2h0M73.8,35.2h0M64,45.9h0M37.8,51.1h0M27.6,85.1h0M33.4,65.8h0M34,69.4h0M67.1,35.2h0M25.6,79.6h0M46.3,72.1h0M18.8,81.5h0M49.7,66.3h0M33.3,80.4h0M58.8,58.7h0M71,37.2h0M59.3,35.9h0" stroke="#8a1424" stroke-width="1.2" stroke-linecap="round" fill="none" opacity="0.8"/><path d="M69.5,42.1h0M67.6,41.7h0M71.5,44h0M68.6,45.1h0M68.9,41.9h0M69.7,43.9h0M68.4,49.3h0M68.6,47.6h0M66.9,44.7h0M71.1,44.7h0M62.4,43.1h0M66.8,40.2h0M63,45.7h0M63.2,43.1h0M30.3,67.6h0M33.9,64.4h0M33.5,71.4h0M38.2,71.1h0M35.4,68.3h0M38.1,64.7h0M29.4,68.6h0M30.3,68.4h0M37,65.9h0M38.5,69.1h0M33.4,69.3h0M29.5,69.6h0M36.8,69.3h0M31.2,67.2h0M33.2,68.1h0M34.4,67.4h0M31.5,71.2h0M40.7,69.8h0M32.2,72.2h0M35.1,65.3h0M33.5,70.9h0M34.4,66.6h0" stroke="#dc243a" stroke-width="2.0" stroke-linecap="round" fill="none" opacity="0.9"/><g filter="url(#b05)"><ellipse cx="40" cy="76" rx="3.4" ry="3.4" fill="#e83048"/><ellipse cx="67" cy="45" rx="2.6" ry="2.6" fill="#e02840"/></g></g></svg>
<svg x="811.75" y="1144.3" width="123.6" height="124.4" viewBox="0 0 100 100" preserveAspectRatio="none"><rect width="100" height="100" fill="#06110b"/><g id="gg2" filter="url(#b03)" opacity="0.8"><g filter="url(#b5)"><path d="M88.0,28.0C92.0,29.5 91.5,35.0 90.0,40.0C88.5,45.0 83.0,52.0 79.0,58.0C75.0,64.0 71.3,70.7 66.0,76.0C60.7,81.3 53.5,86.5 47.0,90.0C40.5,93.5 32.3,97.7 27.0,97.0C21.7,96.3 16.8,91.0 15.0,86.0C13.2,81.0 13.7,73.0 16.0,67.0C18.3,61.0 24.2,54.8 29.0,50.0C33.8,45.2 38.8,41.2 45.0,38.0C51.2,34.8 58.8,32.7 66.0,31.0C73.2,29.3 84.0,26.5 88.0,28.0Z" fill="#114a2a" opacity="0.9"/></g><g filter="url(#b05)"><path d="M63.9,71.6h0M50.9,72.8h0M78.8,54.3h0M69.8,34.8h0M79.1,40h0M54.7,74.8h0M56.1,40.2h0M67.8,36.7h0M81.9,40h0M73.3,47.8h0M44.7,69h0M79.2,29.3h0M75.9,51h0M72.7,60.2h0M27.3,53.2h0M59.5,38.2h0M40.2,68h0M19.2,83.6h0M22.5,79.9h0M15.7,74.4h0M24.2,94.4h0M43.9,64.1h0M16.7,68.9h0M71.4,32.9h0M81.8,33.8h0M85,29h0M72.5,57.4h0M36.2,59.3h0M59,43.6h0M46.8,80.6h0M44.7,74.7h0M52.4,65.1h0M84.5,38.4h0M64,48.4h0M38.6,70.8h0M37.5,90.7h0M28.8,59.5h0M63.4,77.1h0M36.8,87h0M40.5,43.5h0M60.3,40.7h0M77.3,55.6h0M87.8,39.7h0M33.7,69.8h0M33.1,66.7h0M34,74.3h0M68.8,41.3h0M33.9,91.1h0M63.6,35.8h0M65.1,48.1h0M71.6,32.9h0M77.7,48.4h0M34.5,84.6h0M47.1,73.7h0M84.7,31h0M60.5,79.4h0M17.3,81.5h0M34.4,54h0M47.9,76.1h0M76.6,34.4h0M58.1,80.6h0M21,63h0M24.7,72.9h0M63.8,40.4h0M48.2,85.2h0M68.2,68.2h0M24.5,80.4h0M32.7,79.7h0M81.9,46.7h0M36.2,86.3h0M58.1,79.1h0M42.3,67.1h0M21.5,73h0M38.9,76.6h0M35.8,50h0M25.5,69.1h0M47.7,83.8h0M71.9,46.2h0M78.4,53.8h0M56.2,36.6h0M67.6,39.3h0M42.8,88.5h0M34,55.7h0M24,77.1h0M64.1,71h0M62.1,71.8h0M26.2,66.5h0M83.4,30.3h0M27.7,85h0M61.7,58.8h0M49.3,81.4h0M21.6,66.2h0M69.7,68.4h0M46.5,38.7h0M72.6,47.1h0M85.6,32.8h0M31.9,80.8h0M43.7,82h0M37.3,56.9h0M36,68.9h0M83.1,44.9h0M80.8,46h0M53.6,38.9h0M81.4,35.3h0M76.6,58.2h0M63.1,38.8h0M46.6,74.8h0M72,67h0M59.1,38h0M63.9,47.1h0M20.6,68.1h0M68.9,58.9h0M44.9,39.9h0M54.5,66.6h0M34.3,57.1h0M18.9,85.4h0M32.4,64.6h0M74.9,57.4h0M37.7,45h0M48.6,71.6h0M77.1,34.6h0M79.1,41.9h0M59.3,33.6h0M23.1,79.8h0M38.6,65.4h0M36.3,75.3h0M34.7,64h0M62.6,74.5h0M63.8,39.8h0M79.4,36.2h0M26.3,80.4h0M72.6,48.4h0M44.6,84.8h0M38.8,45.2h0M86.6,34.6h0M39.4,90h0M37.1,66.5h0M51.8,83.1h0M73.1,34.8h0M62.1,40h0M44.1,38.8h0M27.7,77.7h0M51.8,74.9h0M61.1,67.2h0M46.9,72.5h0M30.7,49.2h0M59,64.7h0M42.8,68.5h0M80.4,46.7h0M66,72.6h0M58.7,65h0M34.7,52.2h0M44.4,78h0M46.2,40.2h0M29.3,52.4h0M65.9,71.3h0M56.6,82.1h0M47.9,86h0M84.7,42.3h0M69.6,57.3h0M88.2,31.3h0M38,67h0M82.8,42.9h0M25.6,86h0M50.2,77.1h0M76.4,42.4h0M19.5,77.4h0M77.9,39h0M48.6,38.1h0M59.8,66.5h0M29.8,80.7h0M37,81h0M72.9,55.3h0M69.4,43.4h0M69.6,67.9h0M69.9,68.2h0M37,74.9h0M71,39.3h0M48.1,63.4h0M83.8,41.3h0M35.8,58.9h0M53.1,79.9h0M65.9,38.9h0M38.3,72.8h0M40.4,81.4h0M55.7,83.5h0M37.2,60.3h0M57.4,62.2h0M50.4,38.3h0M85.3,43.3h0M26.4,84.4h0M65.3,50h0M67.2,68.9h0M88.2,30.6h0M31.1,78.3h0M17.1,68h0M23.1,63.6h0M83.6,46h0M33,70.1h0M33.4,57.9h0M70.2,46.9h0M69.5,70.8h0M58.5,66.4h0M24,84h0M40.7,79.2h0M53,82.1h0M56.6,42.3h0M27.3,66.9h0M61.4,75.8h0M31.1,72.1h0M36.5,83.1h0M57.6,37.6h0M70.9,61h0M47.6,71.5h0M68.4,56.1h0M79.3,50.1h0M83.6,29.6h0M49.5,65.4h0M36,67.2h0M51.7,37.6h0M68.8,30.9h0M77.4,37.8h0M23.6,60.3h0M78.2,54.1h0M33.9,56.4h0M36.2,60.5h0M33.2,93.3h0M80.8,54.5h0M74.1,42.9h0M43.3,87.7h0M78.2,57.2h0M46.2,89.4h0M56,39h0M68.3,40.3h0M15.9,81.5h0M39.1,80.2h0M69.1,35.7h0M35.5,73.5h0M41.4,89.8h0M36.7,83.9h0M66.6,61.8h0M82.8,38.6h0M71.1,51.6h0M25.7,67.6h0M69.6,54h0M66.1,57.8h0M81.5,53.3h0M36.6,69.2h0M19,68.6h0M53.8,63.1h0M68.2,60.4h0M27.2,83.2h0M19.9,85.2h0M63.6,42.8h0M38.3,63.6h0M21.5,89.2h0M40.7,69.9h0M43,41.8h0M63.4,40.2h0M57.6,80.7h0M26.8,66.1h0M47.4,78.1h0M66.7,41.4h0M31.7,61.7h0M32.2,89h0M17.1,70.2h0M73.2,50.1h0M41.1,91.4h0M67.8,58.4h0M18,65.4h0M67.1,59.4h0M30.4,60.7h0M24.5,87.9h0M59.2,70.7h0M20.8,78.2h0M68.9,48.1h0M39.8,88.8h0M54.7,76.3h0M23.5,77.9h0M64.5,63.3h0M47.9,71.3h0M78.5,46.5h0M56.5,36.1h0M22,84.1h0M27.9,69.5h0M40.8,77h0M16.8,71.8h0M58.9,71.6h0M49.3,40.9h0M72.2,54.5h0M76,60.2h0M47.8,67.3h0M38.4,64.2h0M84.4,35.3h0M22,64.8h0M33.2,86.6h0M37,85.1h0M20.8,87.5h0M20.6,74.6h0M35.1,52.4h0M88.6,31.6h0M58.5,38h0M28.2,77.1h0M25.2,80.5h0M60.1,41.3h0M51.4,80.8h0M58,70.6h0M45,69.3h0M25.8,93.1h0M45.7,88.5h0M80.6,55.2h0M50.1,87.4h0M72.8,63.8h0M23.9,84.4h0M51.4,72h0M28,67.3h0M47,87h0M38,92.9h0M67.7,70.9h0M32.5,52.8h0M74.8,44.8h0M82.8,49.1h0M82.3,39.4h0M28.9,68.2h0M58.8,41h0M39.2,42.7h0M73,41.7h0M29.9,64.5h0M71.5,51.8h0M52.8,85.2h0M49.3,82.9h0M67.7,60.6h0M62.6,56.8h0M34.7,77.2h0M80.6,52.7h0M55.1,78.8h0M44.6,75.4h0M81,35.7h0M23,68.4h0M55.6,72.8h0M49.5,67.9h0M46.6,39.3h0M68.2,60.4h0M39.9,90.9h0M64.2,40.7h0M44.3,72.5h0M75.6,34.8h0M35.8,59.5h0M52.7,74.1h0M34.4,93.8h0M42.3,86.6h0M26.1,71.7h0M50.1,38.8h0M58.7,77.7h0M37.5,78.1h0M62.2,32.3h0M58.9,42.5h0M16.2,73.8h0M20.6,87.2h0M70.2,49.5h0M71.8,39.5h0M60.3,65h0M72.3,55.4h0M23.4,58.8h0M57.4,61.4h0M87.7,31.2h0M40.9,91.4h0M47,79.6h0M23.6,62h0M84.9,33h0M37.8,49.3h0M69.1,66.7h0M82.6,35.6h0M38.9,85.8h0M30.2,91.5h0M73.3,59.7h0M67.5,51.8h0M53,75h0M28.3,87.3h0M39.2,69.2h0" stroke="#1c7c44" stroke-width="1.6" stroke-linecap="round" fill="none" opacity="0.6"/></g><path d="M56.6,72h0M38.8,78.1h0M37.4,58h0M30.9,65.6h0M45.1,72.6h0M24,77.9h0M71.2,50.1h0M78.3,41.7h0M70.3,44.7h0M78.3,41.9h0M70.5,53.8h0M76.9,34.6h0M26.5,69.2h0M26.3,71.5h0M53.6,74.5h0M32.3,75.1h0M36,83.2h0M24.6,80.1h0M42.8,75.5h0M30.7,71.9h0M66.9,42.6h0M57.5,42.5h0M38,63.2h0M79,41.7h0M50.9,78h0M44,65.2h0M61.2,63.6h0M56.9,41.2h0M56.3,71.8h0M76.3,47.2h0M36.6,82.9h0M35,72.1h0M44.6,68.4h0M50.2,66.6h0M57.2,69.9h0M68.2,48.3h0M27.3,80.6h0M61.8,66.9h0M38.6,67.6h0M63.6,67.8h0M68.4,37h0M51.3,69.1h0M69.8,45.4h0M53.9,66.2h0M62.5,57.5h0M48.8,67.6h0M31.3,60.7h0M33.9,74.9h0M23.9,80.9h0M36.3,56.5h0M60.5,40.4h0M55.6,69.6h0M26.5,72.6h0M77.1,47.7h0M28.9,76.6h0M60.6,67.5h0M40,80.1h0M66.7,55.3h0M43.2,79.5h0M78.4,44.9h0M67.1,48.9h0M68.5,37.6h0M33.6,81h0M65.6,62.9h0M59.6,70h0M27.4,73.8h0M44.2,65.1h0M47.7,78.8h0M42.9,68.5h0M66.6,42.4h0M47,81.4h0M68.7,49.4h0M30.7,70.2h0M67.9,48.1h0M28.6,82.6h0M64.3,63.5h0M68.6,48h0M56.9,64.9h0M65.8,50.3h0M28,63.7h0M27,78.1h0M31.9,75.7h0M28.9,78.7h0M75.7,37.9h0M33.9,57.5h0M29.4,79.9h0M72.5,55.6h0M65.7,51.9h0M43.7,81.4h0M70.8,39.1h0M49.4,76.3h0M46.1,70.7h0M46.1,80h0M69.5,50.7h0M62.7,39.6h0M32.6,67.9h0M64.8,48.3h0M28.2,83.1h0M81.2,42.5h0M59.2,71.4h0M35,66.2h0M33.5,82.7h0M76,49.3h0M23.3,72.2h0M67.3,56.4h0M31.8,87.3h0M61.3,67.2h0M28.7,87.4h0M74,44.6h0M68.1,56.7h0M63.2,59.1h0M41.4,62.5h0M63.7,65.6h0M65.9,45.8h0M37,60.8h0M43.3,75.4h0M56.2,64.6h0M40.3,61.2h0M26.1,70.6h0M32.7,80.3h0M66.8,48.4h0M58.3,64.5h0M28.8,73.4h0M38,63.6h0M69.5,42.4h0M72,43.1h0M35.5,80.5h0M80.6,43.1h0M67.6,55.7h0M72.7,52.2h0M33.8,66.2h0M28.5,83.5h0M28.4,68h0M30.7,69.9h0M39.2,65.9h0M56.8,66.8h0M79.7,39.8h0M35.4,65.1h0M38.1,66.3h0M36.4,59.3h0M69.4,60.1h0M28.8,75.6h0M33.5,67.4h0M33.5,82.3h0M40.1,84.1h0M35.3,58.6h0M27.5,64.2h0M63.6,61.1h0M41.7,76.8h0M26.4,80.9h0M49.8,78.2h0M35.9,83.6h0M25.7,76.3h0M43.1,70.8h0M70.3,52.9h0M32.3,68.5h0M50.6,71.7h0M73.9,41.2h0M29.5,74.5h0M74.6,40.1h0M44.2,62.9h0M34.1,64.2h0M70.9,51h0M34.3,78.1h0M64.4,55.2h0M80,35.1h0M32.6,78.6h0M52.2,68.9h0M38.2,80.9h0M34.6,66.4h0M32.3,63h0M29.5,76.5h0M34,75.8h0M62.5,41.1h0M32.5,76.1h0M32.1,62h0M54.6,72.4h0M35,80.8h0M59.6,61.5h0M72.6,47.2h0M25.5,84.2h0M27.3,71.8h0M75.2,40.3h0M32.9,68.6h0M45.5,73.5h0M35.5,65.1h0M70.6,44.9h0M38.5,75.4h0M77.2,46.9h0M74.1,50h0M40.1,68.5h0M38.5,63.2h0M35,54.4h0M27.1,84.5h0M73.5,44h0M59.5,64.7h0M59.8,43.4h0M40,83.6h0M63.3,58.4h0M36,63.7h0M28.6,68.4h0M33.8,69h0M74.2,47.6h0M46.2,62.8h0M29.1,67.8h0M82.2,36.8h0M64.9,41.6h0M74.7,52.7h0M33.9,87h0M36.7,74.4h0M40.3,69.3h0M57.8,66.2h0M79.3,41.7h0M81.9,33.8h0M30.3,68.3h0M41.1,65.2h0M28.3,64.6h0M47.9,69h0M43.6,68.2h0M42.8,73.3h0M71.5,56.7h0M42.3,78.1h0M73,41.5h0M53.5,76.1h0M38.1,63.2h0M56.9,67.6h0M70.8,42h0M32.6,87.4h0M35.5,61h0M35,54.7h0M74.5,52.7h0M66.5,62.9h0M60.2,63.5h0M66.7,44.2h0M47.8,80h0M74.6,48.2h0M60.9,63.6h0M72.1,54.9h0M72.8,55.4h0M44,82.1h0M46.6,66.9h0M58.2,42h0M40.1,64.6h0M79.6,37h0M70.9,48.7h0M34.4,62.2h0M29.9,83.3h0M36.4,85.4h0M39.6,82.5h0M68.2,57.5h0M42.1,67.1h0M55.1,70.2h0M70.1,49.7h0M41.1,77.4h0M49.5,72.8h0M45.3,73.9h0M31.3,73.1h0M30.4,75.1h0M38.6,69.2h0M27.1,72.9h0M55.5,41.4h0M28.3,73.1h0M74.8,35.8h0M36.1,62.5h0M80,41.8h0M61.3,68.5h0M52.2,73.8h0M37.6,77.6h0M82.1,34.1h0M61.1,63.9h0M38.5,80.4h0M30.4,61.4h0M38.8,84.1h0M55.7,66.1h0M73.3,44.7h0M53.6,71.7h0M59.9,66.8h0M28.8,71.6h0M47.1,72.1h0M51.3,74.5h0M31.9,72.2h0M32.6,63h0M37.8,64.6h0M65.5,57.8h0M39.8,80.4h0M82.7,41.1h0M43.8,76.8h0M27.7,65.3h0M23.7,74.5h0M39.4,58.4h0M22.8,82h0M75.5,42.5h0M81.3,35.1h0M34.3,55.8h0M38.1,80.9h0M73.1,43.1h0M38.8,62.6h0M27.5,82.1h0M35.9,82.5h0M55.2,41.1h0" stroke="#25a052" stroke-width="1.5" stroke-linecap="round" fill="none" opacity="0.8"/><path d="M72.4,48.8h0M74.2,53h0M35.8,54.2h0M63.6,45.1h0M47.8,71.9h0M27,70.6h0M47.1,78.1h0M52.6,63.3h0M28.5,86.4h0M31.3,64.5h0M29.2,79.8h0M43.7,79.5h0M31.2,76.9h0M68.9,42.4h0M67.9,38.9h0M64.8,38.9h0M73.9,54.6h0M56.1,73.2h0M23.1,82.6h0M43.4,77.4h0M48.5,80.2h0M39.8,62.8h0M62.7,45.2h0M72.6,38.7h0M40.6,62.2h0M28.7,62.9h0M72.9,54.3h0M64.2,50h0M31.1,81.7h0M78.9,42.7h0M58,63.4h0M32.5,74.3h0M65.6,57h0M50.6,75.5h0M37.5,68.7h0M41.9,68.4h0M35.2,67h0M62.6,64.3h0M26.2,72.4h0M69.2,42.5h0M76.6,47.6h0M58.3,72.1h0M39,82.2h0M66.6,44.5h0M40.8,67.8h0M40.6,74.9h0M31.6,59.2h0M49.8,65.4h0M35.7,76.8h0M56.6,70.4h0M42.2,80.4h0M30.5,69.4h0M39.7,67.7h0M61,43.1h0M27.8,68.9h0M28.9,72.5h0M77.9,38.1h0M58.7,72.7h0M37.3,76.8h0M64.8,56.6h0M34.8,63.9h0M42.4,67.6h0M67.1,41.9h0M31.5,67.6h0M45.4,74h0M40.5,83.4h0M43.4,75h0M33.5,57.5h0M27.9,70.3h0M40.5,69.9h0M77.5,47.8h0M36.2,55.2h0M40,61.2h0M29.7,68.7h0M78.4,42.8h0M40.2,74.2h0M44.6,78.9h0M47.7,73h0M65.7,53.7h0M44.5,63.7h0M80.1,41.4h0M35.1,58.8h0M34.6,75.1h0M27.4,80.4h0M61.4,43.4h0M32,73.2h0M73,37.9h0M71.3,37.8h0M32.6,70.3h0M23.1,73.4h0M45.1,63.3h0M61.5,43.2h0M73,53.6h0M56.3,66.1h0M64.5,51.3h0M29.9,68.3h0M61.6,60.5h0M75.1,47.3h0M69.3,60.4h0M47.5,79h0M81.7,39.2h0M33.7,61.2h0M30.1,64.9h0M37.2,70.3h0M52.7,69.9h0M64.9,40.3h0M70.8,58.2h0M42.6,82.2h0M40.3,79.3h0M24.2,78.1h0M75.5,35.1h0M41.8,71.7h0M29.6,61.8h0M43.4,74.6h0M54.9,40.8h0M71.3,36.7h0M77,45.3h0M26.5,86.3h0M69.6,48.6h0M35.5,60.6h0M63.9,37.9h0M61.9,60.4h0M44.4,75.2h0M63.1,39.5h0M48.6,76.6h0M79.1,39.4h0M71.2,49.9h0M31.9,63h0M36,63.4h0M51.6,74.8h0M53.2,74.5h0M31,70.1h0M52,73.4h0M28.5,64.7h0M50.4,65.8h0M73.2,35.8h0M49.6,74.6h0M44.4,80.1h0M43.4,64.7h0M58.6,62.2h0M46.3,80.3h0M62,60.2h0M43.5,78h0M31.1,76.2h0M46.8,78.7h0M69.1,57.5h0M23.3,82.1h0M49.6,64.9h0M58.3,39.8h0M35.1,75.7h0M62.8,57.6h0M76.9,46.5h0M58.5,67.8h0M75,49.3h0M23.1,82.3h0M43.3,70.8h0M36.4,73.7h0M23.5,71.1h0M33.3,57.6h0M25.6,78.1h0M40.2,73.5h0M70.8,56h0M29.7,85h0M70.6,53.5h0M34.9,57.9h0M64.4,45.2h0M24.5,67.1h0M39,76.8h0M31.3,60.3h0M35.4,62.9h0M31.8,61.1h0M70.3,46.4h0M27.1,65.8h0M62.5,63.9h0M32.7,83.9h0M65.3,55.6h0M70,55.2h0M63.7,53.1h0M51.2,69.7h0M77.4,34.9h0M56.6,71.8h0M28.5,67h0M43.9,82h0M37.8,58.4h0M28.1,87.8h0M23,82.9h0M81.4,36.4h0M57.7,69h0M73.4,37.7h0M36,68h0M29.9,65.6h0M33.7,83.7h0M72.1,55.3h0M50.3,66.1h0M44.6,80.1h0M68.6,61.4h0M71,45.3h0M67.4,49.4h0M26.2,67h0M32.1,81.1h0M42.7,82.2h0M59.6,41.3h0M54.6,74.3h0M32.1,83.2h0M72,50.7h0M26.8,65.1h0M50.3,68.9h0M47.9,68.8h0M25.4,68.4h0M70.2,39.4h0M37.1,75.4h0M30.4,76.6h0M59.2,42.2h0M68.9,55.5h0M43.6,66.4h0M46.8,65.4h0M75.1,50.1h0M59.9,64.2h0M27.4,77.5h0M63.5,41.3h0M76.3,46.4h0M28,79.1h0M26.8,83.4h0M75.4,50h0M72.6,41.6h0M36.5,59.4h0M27.4,77.1h0M33.8,63.9h0M56.8,40.4h0M33.6,85.3h0M52.3,74.5h0M36.4,69.3h0M62.5,62.8h0M32.6,79.8h0M30.8,72.4h0M66.7,53.8h0M27.4,71.4h0M74.5,45.7h0M27.8,77.4h0M24.9,66.6h0M61.3,58.8h0M52.6,67h0M24.6,83.5h0M36.7,84.5h0M44.5,68.5h0M51.2,69.6h0M33.6,60.5h0M80,43.5h0M63,42.7h0M74.7,37.7h0M23.2,81.8h0M76.2,50.9h0M47.6,75.1h0M29.1,85.3h0M38.2,75.1h0M33.4,63.1h0M67.8,38.9h0M50,77.3h0M40.7,64.7h0M40.4,59.7h0" stroke="#44d078" stroke-width="1.05" stroke-linecap="round" fill="none" opacity="0.9"/><ellipse cx="50.5" cy="52" rx="13" ry="11" fill="#15582f" stroke="#2eae5e" stroke-width="1" transform="rotate(-10 50.5 52)"/><path d="M24,83h0" stroke="#7af0a0" stroke-width="2" stroke-linecap="round" fill="none" opacity="0.9"/><path d="M52,75h0M56,73h0" stroke="#03100a" stroke-width="2" stroke-linecap="round" fill="none" opacity="0.9"/></g></svg>
<svg x="939.25" y="1144.3" width="123.6" height="124.4" viewBox="0 0 100 100" preserveAspectRatio="none"><rect width="100" height="100" fill="#0b0c07"/><use href="#gg2" opacity="0.9"/><use href="#rg2" style="mix-blend-mode:screen" opacity="0.85"/></svg>
<rect x="785.70" y="1259.00" width="18.70" height="2.70" fill="#fff"/>
<rect x="911.95" y="1259.00" width="18.70" height="2.70" fill="#fff"/>
<rect x="1039.45" y="1259.00" width="18.70" height="2.70" fill="#fff"/>
<rect x="982.5" y="1232.0" width="11.1" height="11.2" fill="none" stroke="#e8e8e8" stroke-width="0.8"/>
<svg x="685.5" y="1273.7" width="123.6" height="124.4" viewBox="0 0 100 100" preserveAspectRatio="none"><rect width="100" height="100" fill="#080606"/><g id="rg3" filter="url(#b03)" opacity="0.65"><g filter="url(#b3)"><ellipse cx="52" cy="47" rx="22" ry="22" fill="none" stroke="#4a0a12" stroke-width="9" opacity="0.4"/></g><g filter="url(#b05)"><path d="M45,24L50,25M52,29L54,33L52,37M58,27L61,30M63,33L67,32L70,35M72,38L74,41M66,42L70,44M60,46L57,50L53,53M66,50L68,54M34,37L31,42L29,46M38,62L44,60L50,62M52,64L58,63L61,66M33,66L37,68M28,56L27,60M62,55L63,58" stroke="#b8182c" stroke-width="3.0" stroke-linecap="round" stroke-linejoin="round" fill="none" opacity="0.8"/></g><path d="M52,29L54,33L52,37M58,27L61,30M63,33L67,32L70,35M38,62L44,60L50,62" stroke="#e8304a" stroke-width="1.8" stroke-linecap="round" stroke-linejoin="round" fill="none" opacity="0.9"/><path d="M40,70h0M43,73h0M37,72h0M74,31h0M46,30h0M26,66h0M57,72h0M48,67h0M70,48h0" stroke="#981626" stroke-width="1.5" stroke-linecap="round" fill="none" opacity="0.85"/></g></svg>
<svg x="811.75" y="1273.7" width="123.6" height="124.4" viewBox="0 0 100 100" preserveAspectRatio="none"><rect width="100" height="100" fill="#07130b"/><rect width="100" height="100" fill="url(#vgrn)" opacity="0.7"/><g id="gg3" filter="url(#b03)" opacity="0.7"><g filter="url(#b5)"><path d="M18.0,30.0C21.7,25.2 26.8,19.2 33.0,16.0C39.2,12.8 48.2,10.8 55.0,11.0C61.8,11.2 68.5,13.8 74.0,17.0C79.5,20.2 85.3,24.8 88.0,30.0C90.7,35.2 90.7,42.3 90.0,48.0C89.3,53.7 87.7,59.3 84.0,64.0C80.3,68.7 74.0,73.3 68.0,76.0C62.0,78.7 54.7,80.2 48.0,80.0C41.3,79.8 33.5,78.0 28.0,75.0C22.5,72.0 17.8,67.0 15.0,62.0C12.2,57.0 10.5,50.3 11.0,45.0C11.5,39.7 14.3,34.8 18.0,30.0Z" fill="#0e3c20" opacity="0.75"/></g><g filter="url(#b05)"><path d="M42.4,24.1h0M82.3,54.2h0M52.6,59.1h0M78.3,58.3h0M24.7,39.3h0M63.9,20.6h0M23.9,43h0M82.3,28.1h0M80.4,26.1h0M13,45.3h0M40.9,37.6h0M41.2,20.6h0M44.8,32.5h0M21.5,49.2h0M17.7,30.7h0M47.7,35.7h0M36.9,54h0M41.7,34.9h0M65.3,46.8h0M56.1,34.2h0M30,42h0M71.8,59.8h0M55.2,24.8h0M70.1,41.1h0M48.3,20.4h0M41.4,78h0M64.6,20.3h0M34.7,53.4h0M33.3,72.2h0M33.2,71.7h0M36.8,24.8h0M25.3,47.5h0M42.5,58.6h0M66.3,28h0M83.6,36.3h0M35.8,71.8h0M39.5,41.6h0M65.4,38.7h0M75,34h0M42.2,32.5h0M40.5,23.7h0M34.8,33.4h0M72,71.8h0M27.2,68h0M18.5,61.8h0M46.7,20.2h0M61.7,25.1h0M73,22.3h0M34.9,61.4h0M64.6,47.2h0M83.4,34.3h0M54.6,58.9h0M30.9,31.8h0M41.5,39.9h0M76.3,65.1h0M35.9,25.2h0M73.4,39.8h0M69.9,61.5h0M28.6,39.6h0M70.8,67.7h0M30,31.3h0M33.3,33.5h0M75.7,23.3h0M75.5,42.8h0M27.9,32.8h0M35.4,36.7h0M28,60h0M30,40.9h0M72.4,31.7h0M34.2,48h0M78.7,24.1h0M89.3,44.4h0M54.2,65.3h0M34.1,34.6h0M53.2,59.8h0M63.3,29.7h0M17.6,55h0M14.4,49.7h0M21.1,46.9h0M44.3,73.6h0M39.8,22.5h0M49.9,57.9h0M71.6,26.1h0M77.5,55.7h0M13,44.9h0M77.2,35.4h0M24,58.1h0M58.3,75.6h0M40.4,18.5h0M17,54.2h0M84.4,27.8h0M62.7,41.8h0M55.9,56.1h0M47.7,76.1h0M48.2,57.9h0M74.9,28.2h0M32.3,68h0M61.8,62.4h0M24,67.9h0M60.2,33.8h0M82.6,40.5h0M59.2,57.9h0M41.5,61.5h0M24.1,63.3h0M36.3,44.8h0M28,62.7h0M44.3,74.8h0M66.9,44.9h0M14.6,51.7h0M59.8,22.2h0M66,50.7h0M42,29.1h0M23.7,52.1h0M22.6,27.6h0M42.3,31.6h0M62.7,68.9h0M39.6,66.3h0M61.4,54.5h0M38,71.4h0M15.9,46.4h0M25.9,57h0M16.7,49.9h0M57,52.7h0M38.7,65.9h0M13.1,48.2h0M68.1,65.7h0M66.5,52.6h0M67.5,73.2h0M80.6,48.9h0M84.5,62.2h0M88.6,39.4h0M75.5,61.4h0M66,54.4h0M83.8,30.4h0M66.2,60.2h0M39.6,68.6h0M61.4,29.6h0M86.6,47.8h0M46.9,19.2h0M36.4,50.7h0M22.9,54.4h0M28.5,68.5h0M26.4,32.5h0M84.9,52.7h0M73.9,63.1h0M70.7,29.9h0M47.2,18.1h0M37.3,52.4h0M77.4,34.6h0M46.2,69.5h0M83.1,57.4h0M81.5,42.9h0M76.2,35.6h0M43.6,22.2h0M80.4,38.3h0M54.4,72.2h0M87.2,51.9h0M43.4,64.9h0M61.6,26h0M84.4,39.9h0M54.8,33.3h0M53.7,75.4h0M46.2,33.6h0M84.7,60.5h0M81.9,40.3h0M88.2,36.9h0M58.4,41.3h0M46.6,63.4h0M76.9,53.3h0M67.3,15.9h0M81.9,57h0M62,35h0M78.3,48.7h0M77.1,26.9h0M76.3,66.6h0M51.2,79h0M50.6,36.7h0M85.8,28.6h0M37.2,20.6h0M68,47.2h0M14.2,53.7h0M74.5,29.6h0M81.8,55.8h0M73.1,57.2h0M32.4,59.7h0M80.4,58.9h0M55.7,27.7h0M29.9,32.6h0M40.1,21.5h0M21.4,49.3h0M40.9,58.3h0M38.6,66.2h0M66.2,24.3h0M62.1,76.5h0M24.3,28.2h0M70.5,35.3h0M79.6,37.5h0M52.2,76.5h0M45.2,61.8h0M42.7,77h0M72.8,34.6h0M19.5,56.9h0M55.4,62.8h0M37,74.7h0M45.3,60.7h0M68.4,21.1h0M34.5,45.4h0M66.9,20.1h0M69.3,40.8h0M75.4,36.3h0M24.7,40.9h0M73.5,59.9h0M22.9,62.4h0M80.2,35.5h0M67.1,65.3h0M79.3,25.9h0M70.4,56.8h0M65.9,38.1h0M28.1,58.6h0M39.9,64.5h0M65.7,61.7h0M59.4,57.4h0M44.9,19.2h0M66.9,55.5h0M72.2,42.6h0M48.3,69.9h0M61.4,51.2h0M87.5,38h0M34.1,39.9h0M34.5,16.6h0M33.8,29.5h0M59.1,26.6h0M65.1,43.6h0M36.2,53.8h0M26.9,70.2h0M63.8,18.4h0M24,70.9h0M72.1,64.5h0M30.2,25.8h0M36.8,76.4h0M85.5,38h0M67,18.8h0M44.1,18.2h0M54.9,30.8h0M35,40.7h0M22.9,67.7h0M24.8,39.4h0M32.6,46.6h0M56.6,54.2h0M75.6,48.1h0M76.3,65.7h0M37.1,42.9h0M66.4,58.7h0M50.2,69.1h0M53.1,59.2h0M37.4,74.3h0M30.6,26.3h0M45.5,76.7h0M40.5,23.1h0M44,74.4h0M56.1,24.9h0M45.6,58.4h0M74.8,57.4h0M36.1,64.2h0M75.3,57h0M84,55h0M60.8,43.6h0M59.5,72.9h0M25.7,39.5h0M37.6,23.6h0M74.9,66.8h0M36.3,20.3h0M62.6,15.6h0M41.6,62h0M21.9,68.7h0M76.3,65.7h0M22.7,69.5h0M67.2,33.2h0M57.9,23.5h0M67.7,55.1h0M31.2,36.1h0M73.9,40h0M47.5,60.8h0M24.3,58.6h0M63.8,44.3h0M48.5,35.1h0M21.7,48.4h0M88,34.5h0M28.1,37.9h0M17.1,40.5h0M45.9,75.9h0M35.4,44.7h0M53,57.9h0M60.2,30.6h0M48.2,35.1h0M76,27.4h0M72.8,32h0M32.8,59.4h0M55.5,32h0M22.1,42.7h0M34.2,17.4h0M58.5,32.4h0M41,26.4h0M73.7,22.6h0M65.5,24.1h0M34.6,58.5h0M55.4,70.8h0M29.1,65.1h0M67.6,56.7h0M67.2,44.6h0M36.4,66.5h0M82.6,64.8h0M48.8,25.5h0M30.8,23.7h0M37.1,74.6h0M41.9,59.2h0M55.4,63.4h0M33.4,63.5h0M80.5,53.6h0M40.4,73.6h0M70.5,45.2h0M48.8,33.6h0M73.5,64.5h0M67.8,19.8h0M47.1,31.2h0M27,59.5h0M34.4,72h0M62.4,18.8h0M75.6,20.9h0M42.2,27.9h0M49.6,15.1h0M56.2,14.1h0M20.8,36.1h0M62.8,60h0M31.9,55.3h0M30.6,57.5h0M44.5,20.9h0M87.1,33.8h0M84.8,35.7h0M30.4,70.2h0M72.1,41.8h0M60.4,77.2h0M61.4,46.9h0M52.6,72.8h0M41.7,58.2h0M18.2,62h0M22.8,29.2h0M34.5,57h0M58.3,62.6h0M65.4,60.2h0M71,58.9h0M85.4,31.3h0M38.5,71.7h0M62.8,18.6h0M64.2,61.6h0M59.3,43.4h0M61.8,16.4h0M69.4,32.7h0M38.1,63.9h0M20.8,61h0M34.1,23.7h0M62.5,75.9h0M57,57.3h0M55.1,56.8h0M24.5,54h0M39.2,59.7h0M53.5,37.6h0M69.2,31.2h0M51.7,77.3h0M67.2,55.4h0M44.1,30.3h0M42.4,75.9h0M84.8,50h0M26.9,27.3h0M68.8,31.3h0M67,24.3h0M23.1,33.3h0M50.1,28.9h0M60.7,74.5h0M76.3,20.3h0" stroke="#1c7c42" stroke-width="1.3" stroke-linecap="round" fill="none" opacity="0.55"/></g><path d="M67.6,48.5L68.7,47.3L68.8,45.7L69.3,44.2L69.5,42.6L68.8,41.2L68.4,39.7L67,38.8L65.6,38M70.7,55.1L70.5,56.7L69.8,58.2L69.8,59.8M49.8,65L51.4,65L53,64.8L54.1,63.7L55.4,62.7L56.7,61.7L57.6,60.4L58.6,59.2M63.7,33.6L65.1,34.3L66.2,35.5L67.5,36.4L69.1,36L70.5,35.2L72.1,35.3L73.4,34.4M37.9,31.4L36.4,32L34.9,31.4L33.4,30.9L31.8,30.9L30.2,30.6L28.6,30.6M26.4,59.2L25,58.4L23.5,58.7L22,59.5L20.7,60.3L19.8,61.7L18.9,63L18.2,64.4M32.7,30.7L34.3,30.6L35.9,30.4L37.5,30.2L39,30.5L40.6,30.1L42.1,29.7L43.6,30.3L44.8,31.4M22.7,46.3L21.6,47.6L20.7,48.8L19.2,49.3L17.6,49.4L16,49.4L14.4,49.4M64.4,39.2L63.4,38L63.3,36.4L63.8,34.9L63.5,33.3L64.2,31.8L64.7,30.3L65.7,29L67.2,28.7M54.1,22.5L54.5,24L53.9,25.5L53.6,27.1L54.5,28.4L55.4,29.7L55.1,31.3L55.5,32.9M53.5,58.5L55,59L56.6,59.1L57.7,60.2M20.8,53.2L22.2,53.9L23.8,54.1L25.2,53.4L26.8,53.3L28,52.3M68.5,47.1L67.7,48.5L67.5,50.1L67.3,51.7L67.3,53.3L67.1,54.9L66.2,56.2L66,57.8M50.6,30L49.9,28.5L49.8,26.9L49.4,25.3L49.5,23.7M65,25.8L66.6,25.8L68.2,25.7L69.4,26.7L70,28.1L69.7,29.7M57.6,61.7L58.6,60.5L60.2,60.3L61.6,59.5L63.2,59.6L64.6,60.4L66.2,60.4L67.6,61.1M34.7,31.4L35.9,30.3L37.2,29.3L38.7,29L40.3,29.5M29.7,58.3L29.7,56.7L29.1,55.2L28.1,53.9L27.1,52.7L27.2,51.1M42.6,33.6L41.1,33.4L39.5,33.9L38.5,35.2L37,35.4L35.5,36.1L34,36.6L32.7,37.5L31.2,38.2M35.1,41.3L35.3,39.7L35.2,38.1L35.8,36.6M65,48.4L66.3,49.4L67.8,49.6L69.1,48.7L70.6,48.1L71.5,46.8L71.8,45.2L71.6,43.6M31.5,35.4L31.4,33.8L30.4,32.5L30.5,30.9L30.3,29.3L30.6,27.7L29.9,26.3L28.7,25.2L28.4,23.7M33,42.6L33.2,41L32.4,39.6L31.8,38.1L30.4,37.3L28.8,37.3M32.8,32.2L34.3,32.8L35.8,32.3L37.2,33.1L38.7,33.7L39.7,35L39.6,36.6M32.7,49.9L33.1,51.5L33,53.1L34,54.3L35.3,55.2L36.9,55.4M65.3,42.2L65.5,40.7L66.7,39.6L66.8,38L67.1,36.4L68.2,35.3M46,34.5L47.5,34.1L49.1,34.4L50.7,34.6M43.7,23.5L42.2,22.8L40.7,22.4L39.9,21L38.7,20M59.2,67.2L60.1,65.9L61,64.6L61.1,63M49.3,67L50.6,66.1L52.2,66.4L53.7,65.9L55.1,66.7M29,29.2L28,30.4L26.5,30.9L24.9,31.2L23.3,31.3L21.7,31.6L20.4,32.6L19.4,33.7M36.9,30.3L35.5,31L33.9,30.8L32.8,29.7L31.2,29.2M34.6,31.7L35.5,30.4L36.7,29.3L38.3,29.2L39.7,29.9L41.3,29.7L42.8,30.3L44.2,31M66.7,36.5L67.2,38L68.1,39.3L69.7,39.6L71.2,38.9L72.7,39.4L74.3,39.1M31.8,56.9L30.2,56.4L28.7,55.9L27.2,56.3L25.8,57.1L24.3,56.9L22.7,56.8M58.3,63.7L56.8,64.2L55.3,63.6L53.7,63.4L52.4,62.5M20.8,41.3L20.2,39.8L18.8,38.9L17.9,37.6L18,36L17.1,34.7L16.8,33.1L16,31.7M55.8,29.7L57.4,29.8L58.9,30.2L60.3,31L61.9,31.2L63.5,30.9M54.7,29.2L53.7,28L52.1,27.8L50.8,28.8L49.3,29.4M20.7,56.7L20.6,58.3L19.8,59.7L19,61.1L18.6,62.6L17.6,63.9L17.4,65.4L17.7,67L17.2,68.5M66.9,35.9L67.3,37.5L66.5,38.9L66.4,40.5M74.6,48.1L74.7,46.5L74.3,44.9L73.6,43.5L72.8,42.1L72.5,40.5L71.3,39.5L69.8,38.8L68.8,37.6M30.1,62.6L28.9,61.6L28.8,60L29.3,58.5M24.5,39.2L25.8,38.4L27.3,37.8L28.7,36.9L29.1,35.3L30,34L31.4,33.3L33,33.3L34.6,33.4M30.3,54.6L28.9,53.9L28,52.6L27,51.3M55,68.5L53.5,68.8L51.9,68.7L50.3,68.7L49.2,69.8L48.2,71.1M24.5,58.8L24.1,60.4L24.8,61.9L26.2,62.6M32.4,56.1L33.1,57.5L33.5,59.1L33.8,60.7M38.4,70.1L37.3,68.9L35.8,68.3L34.2,68.7L33,69.8L31.6,70.5L30.8,71.9L29.2,72.3L28.3,73.6M28.5,40L28.4,38.4L28.6,36.8L28.3,35.2L27.9,33.7L26.9,32.4L25.5,31.6M23.8,61.2L22.2,61.4L21,62.4L20.6,63.9M42.4,30.5L42.9,29L44.2,28L45.1,26.7L46.6,26.2M48.3,63.9L46.8,63.4L45.3,63.9L43.7,64.1L42.5,63.1L41.6,61.8L40.5,60.6L39.8,59.2L38.5,58.2M22.1,38.2L23.5,37.4L25,37.9L26.6,38M33.4,46.6L32.3,47.8L31,48.8L30.7,50.3L30.1,51.8L30.7,53.3M59.1,40L58,38.8L57.7,37.2L57.1,35.7L56.8,34.2L57.3,32.7L58.7,31.8L59.8,30.7L61.4,30.5M41,33.6L39.7,34.6L39,36L37.7,36.9L36.1,36.7L34.6,36.3M36.7,61.8L37.4,63.2L38.4,64.4L39.3,65.8M73.8,49.7L72.9,48.4L71.3,48L69.8,48.6L68.4,49.4L66.8,49.3L65.6,50.4L65.4,51.9M66.5,49.8L67,51.4L66.9,53L67.9,54.2L69.4,54.5M47,65.6L45.4,65.5L43.8,65.7L42.3,66.2L40.9,67.1L39.7,68.1L38.2,68.6L36.6,68.7M47.3,31.1L46.4,29.8L45,29L43.9,27.9M63.2,26.6L61.6,26.3L60.5,25.1L59.8,23.7L58.7,22.5L57.8,21.2L57.3,19.7L56.7,18.2L55.4,17.3M47.2,27.4L48.7,27.3L50.3,26.8L51.4,25.7L53,25.3L53.8,23.9L53.6,22.3L53.6,20.7M73.8,40.2L72.9,41.5L71.6,42.6L70,42.5M63.1,34L64.7,34.1L66,33.2L67,31.9L68.5,31.5L70,31L70.7,29.5L70.9,27.9L71.8,26.6M65.7,66.3L66.9,65.2L68.2,64.4L69.8,64.4L71.4,64.9L73,64.9L74.1,63.8L74.9,62.4M31.4,34.9L32.1,33.4L31.9,31.8L32.2,30.2L32.2,28.6L33.2,27.4M43.3,31.5L44.8,31L46.4,31.4L48,31.3L49.5,31.8L50.6,32.9L51.2,34.4M31,29.6L32.1,28.4L32.7,27L33.7,25.7L34.1,24.1M59.4,56.3L59.1,57.8L59.8,59.3L61.3,59.8M35.8,55.7L34.4,55L33,54.2L31.7,53.2L30.2,52.7L28.7,53.1L27.2,52.5M68.9,64L69.6,62.5L71,61.8L72.6,61.9M66.1,53L67.5,52.3L69.1,52.1L70.3,51L70.8,49.5L71,47.9L71.7,46.5L72.8,45.3L74.2,44.5M45.5,63.8L43.9,64.1L42.3,64.1L40.8,63.6M56.3,65.1L57.7,64.4L58.3,62.9L58.4,61.3" stroke="#238c4a" stroke-width="0.7" stroke-linecap="round" stroke-linejoin="round" fill="none" opacity="0.7"/><path d="M65.1,57.3L64.3,58.6L63,59.3L61.7,60L60.2,60.1L58.9,59.3M66.3,63.1L67.2,61.9L67.9,60.6L67.7,59.1L68.6,57.8L68.5,56.3L67.6,55.1L66.6,54L66.1,52.6M65.3,46.2L66.1,45L67.2,43.9L67.9,42.6L69.2,42L70.7,41.6M67.3,44.5L66.8,43.1L66,41.8L65.3,40.5L63.9,39.9M66.2,49.4L66.4,50.9L67.1,52.2L68.4,52.9L69.9,53.2L71.3,53.4L72.4,54.5M59.8,60.3L58.3,60.6L56.9,61.1L55.4,61L54,61.5L52.5,61.5L51.1,61.1M61,38.6L62.5,38.3L63.4,37.2L64.1,35.8L64.9,34.5L66.2,33.8L67.7,33.8L69.1,33.3M63.3,48.1L63.9,46.7L63.6,45.2L62.9,43.9L62.8,42.4L61.8,41.3L60.7,40.3L59.2,40.3L57.9,41M66.7,36L67.1,34.6L66.9,33.1L66.4,31.7L66.5,30.2L67.3,28.9L68.3,27.8L69.8,27.4L71.2,27.8M61.7,52.5L62.4,51.2L63.8,50.6L64.7,49.4L64.8,47.9L65.3,46.5L65.1,45L65.8,43.7L66.7,42.5M64.7,47.4L64.4,45.9L64.5,44.4L63.7,43.1M63.2,32.1L61.7,31.9L60.3,31.5L59.1,30.6L58.9,29.1L59.4,27.7L60.2,26.4L61.1,25.2L62.6,24.8M73.1,49.1L73,50.5L73,52L72.7,53.5M69.9,55.1L71.1,54.2L72.6,54L73.9,54.8L75.3,55.1L76.7,54.5M73.3,51.9L73.6,53.3L74.7,54.4L76.1,54.8M64.9,64.6L63.8,65.6L62.3,65.7L61,65L59.5,65.1L58,65.2L56.5,65.2L55.3,66M62.4,52.1L62.9,50.7L63.3,49.3L63.6,47.8L64.7,46.8M63.7,32.2L62.3,31.8L60.9,31.3L60.1,30M69.1,44.2L68.8,42.7L69.3,41.3L70.4,40.4L71.1,39L72.3,38.2L73.7,37.7L75.1,37.1L76.6,37.1M61.3,61.5L59.8,61.6L58.4,61.2L56.9,60.7M61.1,36.4L62.4,37.2L63.8,37.8L65.2,38.4L65.9,39.7L66.6,41L67.3,42.3M70.9,59.3L72.2,58.6L73.4,57.7L74.5,56.7L75.9,56.3L76.9,55.1L77.9,54M67.3,53L68.4,52.1L69.5,51.1L71,50.8L72.5,50.4L73.7,49.6M65,42.8L64.4,41.4L63.3,40.4L62.1,39.6M62.6,59.1L61.4,59.8L60.3,60.9L59.5,62.2M69.7,40.6L69.5,39.1L69.5,37.6L70,36.2L70,34.7L70.8,33.4L71.9,32.4L72.6,31.1M61.6,38.2L60.4,37.4L58.9,37L57.4,37.2M62.4,37.6L63.8,38L65,39L65.3,40.5L65.9,41.8M63.4,41.9L62.3,40.9L61,40.2L59.8,39.4M62.5,43.4L63.5,44.6L64.7,45.4L65.5,46.8L65.8,48.2M66.1,55.9L67.1,54.8L68.1,53.8L69.3,52.8L70.7,52.5L72.2,52.9L73.7,52.9L75.2,52.8L76.3,51.8M64.4,65.1L64.7,63.6L65.7,62.4L66.1,61L66.6,59.6L67.7,58.5L68,57.1L67.4,55.7L66.8,54.3M63.1,38.5L64.6,38.7L65.7,39.7L67.1,40.2L68.2,41.3L68.4,42.8L67.7,44.1M64.5,33.8L66,34.1L67.5,34.3L69,34.4L70.5,34.3L71.9,34.9L73.4,35M64.6,50.8L63.8,52.1L62.6,53.1L61.4,53.9L60.5,55.1L59.9,56.5M68.2,58L69.6,57.6L71.1,57.6L72.6,57.7L74.1,57.7M61.8,34.1L63.3,34.4L64.7,34.1L66.2,34.1M59.4,63.4L60.9,63.4L62.3,63.6L63.5,64.5L64.8,65.2L66.3,65.5L67.8,65.8M67.3,41.8L66.2,40.8L65,39.9L63.6,39.4M62.2,43.8L63.6,44.3L65.1,44L66.5,43.8L67.6,42.7L68.9,41.9L70.3,41.5M65,62L63.6,62.4L62.3,63.2L60.8,63.3L59.4,63M68.7,34.7L69.6,35.9L70.5,37.1L70.4,38.6L69.7,39.9M62.2,63.6L63.3,62.6L64.4,61.5L65.8,61.2L67.3,61M59.4,41L58.6,39.8L58.1,38.4L58,36.9L57.9,35.4M61.2,41.5L62.7,41.4L64,42.2L65.5,42.1L66.9,42.7M71.4,42.7L70.7,44L69.5,44.8L68,44.9L66.5,44.7L65.4,43.7M71.2,54L70.5,52.6L70.8,51.2L72,50.2L73.5,50.1M60.9,35.9L62.4,36L63.9,36.1L65.2,35.4L66,34.1L66.4,32.7L67.6,31.7L68,30.3L69.1,29.3M62.2,55.4L63.1,54.2L63.3,52.7L63.1,51.2M68.3,48.3L67.9,49.7L68.2,51.2L68.2,52.7L68.2,54.2L68.1,55.7M73.5,50.4L73.2,49L73,47.5L73.4,46M72.3,41.5L72.7,40.1L72.9,38.6L73,37.1L73.6,35.7L74.6,34.7L76,34L77.4,34.3L78.6,35.3M68.3,43.4L68.5,44.9L68.9,46.4L69.7,47.6M65.2,50.2L65.4,51.7L65.2,53.2L64.8,54.6L64.2,56L63.5,57.4L63,58.8L62.6,60.2M61.8,42.4L62.9,43.4L63.8,44.6L63.9,46.1L64.4,47.5L64.4,49L64.6,50.5M62.8,37L62.1,35.6L60.7,35L59.4,34.4L58.1,33.6L57.6,32.2M61.8,56.6L63.3,56.1L64.7,55.9L66,55.1L66.5,53.7L67.3,52.4L67.8,51L67.6,49.5M66.3,33L66.5,34.5L67.3,35.7L68.4,36.8L69.7,37.5L71.1,37.9L72.1,39.1M59.2,67.8L57.8,67.4L56.3,67.8L54.9,67.2L53.6,66.6L52.6,65.5L51.3,64.7L49.8,64.8L48.3,64.5M63.3,54.2L63.2,52.7L64.1,51.5L65.5,51L67,51.1L68.4,51.8L69.3,53M71.9,55.5L72.6,54.2L73.4,52.9L74.9,52.5L76.3,53.1L77.7,52.7M66.5,60.7L65,61.1L63.9,62.2L62.6,62.9L61.1,63.1L59.6,63.1M61.9,55.1L62,56.6L61.3,57.9L61.4,59.4L60.7,60.7M73.4,47.4L73.2,45.9L72.2,44.8L71.8,43.3M62.1,48.9L63.1,50L63.3,51.5L63,53L63.7,54.3L64.1,55.8L65.2,56.8L66.6,57.2L68.1,57.1M63.8,49.5L63.8,51L64.5,52.4L64.2,53.9L63.5,55.2L63.6,56.7L64.3,58L64.9,59.4L65.8,60.6" stroke="#34b868" stroke-width="0.85" stroke-linecap="round" stroke-linejoin="round" fill="none" opacity="0.9"/><ellipse cx="46.7" cy="48.3" rx="10" ry="9.5" fill="#124a2a" stroke="#36bc6c" stroke-width="1.1"/><path d="M58,16h0" stroke="#9af0c0" stroke-width="1.0" stroke-linecap="round" fill="none" opacity="0.9"/></g></svg>
<svg x="939.25" y="1273.7" width="123.6" height="124.4" viewBox="0 0 100 100" preserveAspectRatio="none"><rect width="100" height="100" fill="#0b1006"/><rect width="100" height="100" fill="url(#volv)" opacity="0.3"/><use href="#gg3" opacity="0.9"/><use href="#rg3" style="mix-blend-mode:screen" opacity="0.8"/></svg>
<rect x="786.40" y="1388.40" width="18.00" height="2.70" fill="#fff"/>
<rect x="912.65" y="1388.40" width="18.00" height="2.70" fill="#fff"/>
<rect x="1040.15" y="1388.40" width="18.00" height="2.70" fill="#fff"/>
<rect x="1003.3" y="1311.5" width="11.1" height="11.2" fill="none" stroke="#e8e8e8" stroke-width="0.8"/>
<svg x="1065.75" y="296.7" width="123.6" height="124.4" viewBox="0 0 100 100" preserveAspectRatio="none"><rect width="100" height="100" fill="#2c0a07"/><g filter="url(#b2)"><path d="M12,-2C16,10 21,20 22,35S28,55 33,68S40,85 42,102" stroke="#b01428" stroke-width="6" stroke-linecap="round" stroke-linejoin="round" fill="none" opacity="0.85"/><path d="M40,24C46,35 48,45 52,60" stroke="#9a1224" stroke-width="5" stroke-linecap="round" stroke-linejoin="round" fill="none" opacity="0.75"/><path d="M68,33L80,42" stroke="#c41830" stroke-width="5" stroke-linecap="round" stroke-linejoin="round" fill="none" opacity="0.9"/><path d="M50,83L62,87" stroke="#a81428" stroke-width="5" stroke-linecap="round" stroke-linejoin="round" fill="none" opacity="0.8"/><path d="M84,10C90,18 96,24 104,30" stroke="#6a0c16" stroke-width="9" stroke-linecap="round" stroke-linejoin="round" fill="none" opacity="0.7"/><path d="M2,55C8,62 10,70 8,80" stroke="#8a101e" stroke-width="6" stroke-linecap="round" stroke-linejoin="round" fill="none" opacity="0.75"/><path d="M60,60C70,66 80,75 92,92" stroke="#9a1224" stroke-width="5" stroke-linecap="round" stroke-linejoin="round" fill="none" opacity="0.7"/><path d="M30,5C36,12 40,18 44,22" stroke="#8a101e" stroke-width="5" stroke-linecap="round" stroke-linejoin="round" fill="none" opacity="0.7"/><path d="M26,40C30,46 36,52 40,60S48,74 50,80" stroke="#a81428" stroke-width="4" stroke-linecap="round" stroke-linejoin="round" fill="none" opacity="0.7"/><path d="M56,18C60,26 62,32 66,40" stroke="#8a101e" stroke-width="4" stroke-linecap="round" stroke-linejoin="round" fill="none" opacity="0.6"/><path d="M74,48C80,54 86,58 96,66" stroke="#a01226" stroke-width="4.5" stroke-linecap="round" stroke-linejoin="round" fill="none" opacity="0.7"/><path d="M2,30C6,36 10,40 16,46" stroke="#8a101e" stroke-width="4" stroke-linecap="round" stroke-linejoin="round" fill="none" opacity="0.6"/><path d="M44,92L58,98" stroke="#a81428" stroke-width="4" stroke-linecap="round" stroke-linejoin="round" fill="none" opacity="0.7"/><path d="M76,88C82,92 88,94 98,98" stroke="#9a1224" stroke-width="4" stroke-linecap="round" stroke-linejoin="round" fill="none" opacity="0.7"/><path d="M20,88L30,96" stroke="#8a101e" stroke-width="4" stroke-linecap="round" stroke-linejoin="round" fill="none" opacity="0.6"/></g><g filter="url(#b2)"><ellipse cx="87" cy="5" rx="3.4" ry="3.4" fill="#229a58" opacity="0.95"/><ellipse cx="76" cy="4" rx="3" ry="2.5" fill="#229a58" opacity="0.95"/><ellipse cx="97" cy="4" rx="2.5" ry="3.4" fill="#229a58" opacity="0.95"/><ellipse cx="41" cy="12" rx="2.5" ry="5.1" fill="#229a58" transform="rotate(30 41 12)" opacity="0.95"/><ellipse cx="5" cy="16" rx="2.5" ry="4.2" fill="#229a58" transform="rotate(-30 5 16)" opacity="0.95"/><ellipse cx="13" cy="28" rx="3" ry="3" fill="#229a58" opacity="0.95"/><ellipse cx="72" cy="21" rx="2.5" ry="2.5" fill="#229a58" opacity="0.95"/><ellipse cx="22" cy="62" rx="2.5" ry="4.2" fill="#229a58" transform="rotate(-20 22 62)" opacity="0.95"/><ellipse cx="25" cy="71" rx="3.4" ry="2.5" fill="#229a58" opacity="0.95"/><ellipse cx="44" cy="73" rx="3" ry="3.4" fill="#229a58" transform="rotate(-30 44 73)" opacity="0.95"/><ellipse cx="55" cy="72" rx="2.5" ry="3.8" fill="#229a58" transform="rotate(-30 55 72)" opacity="0.95"/><ellipse cx="65" cy="70" rx="2.5" ry="3.4" fill="#229a58" transform="rotate(30 65 70)" opacity="0.95"/><ellipse cx="70" cy="66" rx="2.5" ry="2.5" fill="#229a58" opacity="0.95"/><ellipse cx="10" cy="81" rx="2.2" ry="5.1" fill="#229a58" transform="rotate(-35 10 81)" opacity="0.95"/><ellipse cx="58" cy="88" rx="3" ry="3" fill="#229a58" opacity="0.95"/><ellipse cx="87" cy="88" rx="3.4" ry="3" fill="#229a58" opacity="0.95"/><ellipse cx="17" cy="96" rx="2.5" ry="2.5" fill="#229a58" opacity="0.95"/><ellipse cx="96" cy="79" rx="2.5" ry="3.4" fill="#229a58" opacity="0.95"/><ellipse cx="41" cy="89" rx="3.4" ry="2.5" fill="#229a58" opacity="0.95"/><ellipse cx="69" cy="98" rx="3.4" ry="2.5" fill="#229a58" opacity="0.95"/><ellipse cx="86" cy="45" rx="3.4" ry="3.4" fill="#229a58" opacity="0.95"/><ellipse cx="30" cy="16" rx="2.5" ry="4.2" fill="#229a58" transform="rotate(20 30 16)" opacity="0.95"/><ellipse cx="19" cy="46" rx="3" ry="3" fill="#229a58" opacity="0.95"/><ellipse cx="52" cy="44" rx="2.5" ry="5.1" fill="#229a58" transform="rotate(20 52 44)" opacity="0.95"/><ellipse cx="66" cy="33" rx="2.5" ry="4.2" fill="#229a58" transform="rotate(10 66 33)" opacity="0.95"/><ellipse cx="48" cy="60" rx="2.5" ry="2.5" fill="#229a58" opacity="0.95"/><ellipse cx="36" cy="37" rx="2.5" ry="2.5" fill="#229a58" opacity="0.95"/><ellipse cx="92" cy="60" rx="2.5" ry="4.2" fill="#229a58" opacity="0.95"/><ellipse cx="80" cy="56" rx="2.5" ry="2.5" fill="#229a58" opacity="0.95"/></g><g filter="url(#b1)"><ellipse cx="87" cy="5" rx="2.3" ry="2.3" fill="#58d888"/><ellipse cx="50" cy="31" rx="2.2" ry="2.3" fill="#58d888"/><ellipse cx="95" cy="34" rx="2.9" ry="3.6" fill="#58d888"/><ellipse cx="61" cy="41" rx="2.7" ry="4" fill="#58d888" transform="rotate(10 61 41)"/><ellipse cx="59" cy="51" rx="3.1" ry="2.7" fill="#58d888" transform="rotate(-30 59 51)"/><ellipse cx="40" cy="49" rx="2.3" ry="2.3" fill="#58d888"/><ellipse cx="31" cy="56" rx="2.3" ry="2.5" fill="#58d888"/><ellipse cx="73" cy="56.5" rx="3.1" ry="2.7" fill="#58d888"/><ellipse cx="84" cy="76" rx="2.7" ry="3.6" fill="#58d888" transform="rotate(20 84 76)"/><ellipse cx="77" cy="82" rx="2.9" ry="3.2" fill="#58d888"/><ellipse cx="31" cy="82" rx="2.5" ry="2.3" fill="#58d888"/><ellipse cx="5" cy="87" rx="2.7" ry="2.7" fill="#58d888"/><ellipse cx="24.7" cy="87.5" rx="3.1" ry="2.2" fill="#58d888" transform="rotate(-30 24.7 87.5)"/><ellipse cx="58.5" cy="88" rx="2.2" ry="2.2" fill="#58d888"/></g><g filter="url(#b1)"><ellipse cx="20.5" cy="15" rx="2.2" ry="6" fill="#8a9a30" transform="rotate(-15 20.5 15)" opacity="0.8"/><ellipse cx="18" cy="50" rx="3" ry="4" fill="#9a8a28" opacity="0.6"/><ellipse cx="24" cy="38" rx="2.5" ry="3" fill="#a09030" opacity="0.5"/></g></svg>
<rect x="1123.35" y="413.00" width="63.30" height="2.60" fill="#fff"/>
<svg x="1065.75" y="425.6" width="123.6" height="124.4" viewBox="0 0 100 100" preserveAspectRatio="none"><rect width="100" height="100" fill="#3c0509"/><g filter="url(#b3)"><path d="M20,40C30,25 40,10 48,8C55,12 62,25 66,34C60,48 50,60 40,70C30,80 15,78 2,70C0,62 10,50 20,40Z" fill="#a8122a" opacity="0.85"/><path d="M66,45C80,35 92,30 102,28V102H30C40,90 55,70 66,45Z" fill="#8a0f22" opacity="0.8"/><path d="M80,10C90,6 98,12 102,20V45C92,42 84,30 80,10Z" fill="#6a0a18" opacity="0.7"/></g><g filter="url(#b2)"><path d="M33,38C42,42 52,38 58,33" stroke="#e0203c" stroke-width="6" stroke-linecap="round" stroke-linejoin="round" fill="none" opacity="0.95"/><path d="M22,52C20,58 12,62 8,66" stroke="#d81c38" stroke-width="7" stroke-linecap="round" stroke-linejoin="round" fill="none" opacity="0.9"/><path d="M30,78L42,75" stroke="#e0203c" stroke-width="5" stroke-linecap="round" stroke-linejoin="round" fill="none" opacity="0.9"/><path d="M66,62L76,60" stroke="#d81c38" stroke-width="5" stroke-linecap="round" stroke-linejoin="round" fill="none" opacity="0.8"/><path d="M80,42C86,40 92,40 98,38" stroke="#d01a34" stroke-width="6" stroke-linecap="round" stroke-linejoin="round" fill="none" opacity="0.8"/><path d="M48,22C54,26 60,30 62,36" stroke="#c81832" stroke-width="4" stroke-linecap="round" stroke-linejoin="round" fill="none" opacity="0.8"/><ellipse cx="94" cy="85" rx="5" ry="7" fill="#f02a40" transform="rotate(-10 94 85)"/><path d="M70,78C78,76 86,72 92,68" stroke="#c81832" stroke-width="5" stroke-linecap="round" stroke-linejoin="round" fill="none" opacity="0.7"/></g><g filter="url(#b2)"><path d="M42,30C50,26 58,28 56,36C50,40 44,38 42,30Z" fill="#5a0a14" opacity="0.8"/><path d="M54,40C62,36 68,42 66,50C60,54 54,50 54,40Z" fill="#1f5a30" opacity="0.8"/></g><g filter="url(#b1)"><ellipse cx="63" cy="51" rx="6.5" ry="3.6" fill="#35c070" transform="rotate(10 63 51)"/><ellipse cx="81" cy="50" rx="4" ry="3" fill="#35c070"/><ellipse cx="39" cy="59" rx="4.5" ry="3" fill="#35c070"/><ellipse cx="57" cy="69" rx="3.5" ry="2.6" fill="#35c070"/><ellipse cx="56" cy="87" rx="4" ry="3.5" fill="#35c070"/><ellipse cx="80" cy="87" rx="4.5" ry="3" fill="#35c070"/><ellipse cx="68" cy="90" rx="3.5" ry="3" fill="#35c070"/><ellipse cx="4" cy="59" rx="3.5" ry="3" fill="#35c070"/><ellipse cx="3" cy="4" rx="3" ry="3" fill="#35c070"/><ellipse cx="57" cy="60" rx="4.5" ry="2.6" fill="#2a8a48" opacity="0.8"/><ellipse cx="27" cy="68" rx="4.5" ry="3" fill="#2a8a48" opacity="0.8"/><ellipse cx="25" cy="77" rx="3.5" ry="3" fill="#2a8a48" opacity="0.8"/><ellipse cx="38" cy="22" rx="3" ry="3" fill="#2a8a48" opacity="0.8"/><ellipse cx="27" cy="31" rx="3" ry="6" fill="#2a8a48" transform="rotate(30 27 31)" opacity="0.8"/><ellipse cx="80" cy="98" rx="4" ry="3" fill="#2a8a48" opacity="0.8"/><ellipse cx="22" cy="99" rx="4" ry="2.5" fill="#2a8a48" opacity="0.8"/><ellipse cx="2" cy="98" rx="3" ry="3" fill="#2a8a48" opacity="0.8"/><ellipse cx="47" cy="14" rx="3.4" ry="3" fill="#a0a040" opacity="0.9"/></g></svg>
<rect x="1123.35" y="541.90" width="63.30" height="2.60" fill="#fff"/>
<svg x="1065.75" y="590.1" width="123.6" height="124.4" viewBox="0 0 100 100" preserveAspectRatio="none"><rect width="100" height="100" fill="#2a1c08"/><g filter="url(#b3)"><path d="M30,0H102V60C90,50 70,30 60,25C50,20 40,10 30,0Z" fill="#14260f" opacity="0.9"/><path d="M0,40C5,60 10,80 14,102H-2Z" fill="#1a3014" opacity="0.9"/><path d="M60,45C75,60 90,75 102,88V60C90,55 75,50 60,45Z" fill="#1c2a10" opacity="0.8"/></g><g filter="url(#b2)"><path d="M0,2C8,14 14,26 20,36S30,54 36,62S44,80 50,92" stroke="#d81c38" stroke-width="9" stroke-linecap="round" stroke-linejoin="round" fill="none" opacity="0.95"/><path d="M8,0C14,10 20,18 26,30S34,44 40,52" stroke="#c81832" stroke-width="5" stroke-linecap="round" stroke-linejoin="round" fill="none" opacity="0.8"/><path d="M36,62C44,66 52,74 62,80S80,92 92,102" stroke="#c01830" stroke-width="4" stroke-linecap="round" stroke-linejoin="round" fill="none" opacity="0.85"/><path d="M20,60C24,72 30,84 36,98" stroke="#a81428" stroke-width="3.5" stroke-linecap="round" stroke-linejoin="round" fill="none" opacity="0.8"/><path d="M42,0C48,10 54,16 62,20S70,30 74,38S86,52 102,64" stroke="#c81832" stroke-width="4.5" stroke-linecap="round" stroke-linejoin="round" fill="none" opacity="0.9"/><ellipse cx="68" cy="22" rx="6" ry="4.5" fill="#a01428" opacity="0.8"/><path d="M85,30C92,34 97,38 102,42" stroke="#d01a34" stroke-width="5" stroke-linecap="round" stroke-linejoin="round" fill="none" opacity="0.9"/><path d="M52,78C58,76 64,78 70,84" stroke="#8a1020" stroke-width="3" stroke-linecap="round" stroke-linejoin="round" fill="none" opacity="0.7"/><path d="M60,58L70,44" stroke="#7a2010" stroke-width="3" stroke-linecap="round" stroke-linejoin="round" fill="none" opacity="0.5"/></g><g filter="url(#b2)"><ellipse cx="55" cy="33" rx="6" ry="9.5" fill="#2ab868" transform="rotate(-35 55 33)"/><ellipse cx="60" cy="42" rx="4" ry="4" fill="#35c874"/><ellipse cx="4" cy="31" rx="3.5" ry="6" fill="#1f9456" opacity="0.9"/><ellipse cx="26" cy="71" rx="3.5" ry="5" fill="#25a45c" transform="rotate(-20 26 71)"/><ellipse cx="61" cy="85" rx="4" ry="7.5" fill="#2cb866" transform="rotate(-30 61 85)"/><ellipse cx="54" cy="72" rx="2.5" ry="4" fill="#6ab050" transform="rotate(-30 54 72)" opacity="0.9"/><ellipse cx="27" cy="98" rx="4" ry="3.5" fill="#2cb866"/><ellipse cx="4" cy="70" rx="3" ry="9" fill="#1a6a3a" opacity="0.7"/></g><g filter="url(#b1)"><ellipse cx="14" cy="22" rx="3" ry="9" fill="#9ab838" transform="rotate(-30 14 22)" opacity="0.95"/><ellipse cx="26" cy="60" rx="2.6" ry="6" fill="#d89030" transform="rotate(-25 26 60)" opacity="0.85"/><ellipse cx="31" cy="99" rx="2" ry="3" fill="#c0a030" opacity="0.8"/></g></svg>
<rect x="1123.35" y="706.40" width="63.30" height="2.60" fill="#fff"/>
<svg x="1065.75" y="719.5" width="123.6" height="124.4" viewBox="0 0 100 100" preserveAspectRatio="none"><rect width="100" height="100" fill="#1c6a38"/><g filter="url(#b5)"><path d="M-2,70C10,75 15,90 20,102H-2Z" fill="#2a3010" opacity="0.9"/><path d="M60,102C70,90 85,85 102,88V102Z" fill="#1f4a22" opacity="0.8"/><ellipse cx="50" cy="35" rx="20" ry="18" fill="#1a6236" opacity="0.8"/></g><g filter="url(#b2)"><path d="M68,14C78,6 88,12 87,24C88,34 86,42 78,44C70,44 66,38 67,28C66,22 66,18 68,14Z" fill="#5cc45c" opacity="1"/><path d="M16,18C20,24 24,36 24,46C18,44 10,40 7,34C10,28 13,22 16,18Z" fill="#2cb060" opacity="1"/></g><g filter="url(#b3)"><ellipse cx="48" cy="97" rx="18" ry="14" fill="#9a1820" opacity="0.95"/></g><g filter="url(#b2)"><ellipse cx="29" cy="68" rx="16" ry="17" fill="#d8282c"/><ellipse cx="64" cy="65" rx="7" ry="6.5" fill="#c83a20"/></g><g filter="url(#b2)"><ellipse cx="37" cy="66" rx="8" ry="9" fill="#f07a30" opacity="0.95"/><ellipse cx="65" cy="65" rx="4.5" ry="4" fill="#f08a30"/><ellipse cx="26" cy="66" rx="5" ry="6" fill="#8a1418" opacity="0.7"/><ellipse cx="31" cy="30" rx="2" ry="8" fill="#6a5a20" opacity="0.7"/><ellipse cx="98" cy="4" rx="4" ry="4" fill="#a06020" opacity="0.8"/><ellipse cx="26" cy="3" rx="3" ry="3" fill="#6a5a20" opacity="0.7"/></g></svg>
<rect x="1123.35" y="835.80" width="63.30" height="2.60" fill="#fff"/>
<svg x="1065.75" y="848.2" width="123.6" height="124.4" viewBox="0 0 100 100" preserveAspectRatio="none"><rect width="100" height="100" fill="#17361a"/><g filter="url(#b5)"><path d="M20,10C35,0 55,0 70,5C75,20 70,35 60,45C55,55 50,70 52,80C45,75 40,65 30,62C20,58 10,52 8,46C12,36 18,24 20,10Z" fill="#a82428" opacity="0.9"/></g><g filter="url(#b3)"><ellipse cx="63" cy="17" rx="8" ry="9" fill="#f02c38"/><ellipse cx="38" cy="14" rx="7" ry="8" fill="#c0242c" opacity="0.9"/><ellipse cx="25" cy="38" rx="8" ry="7" fill="#c0242c" opacity="0.85"/><ellipse cx="27" cy="56" rx="6" ry="6" fill="#d0282e" opacity="0.9"/><ellipse cx="50" cy="32" rx="8" ry="7" fill="#c84030" opacity="0.8"/><ellipse cx="50" cy="68" rx="2.5" ry="9" fill="#a02824" opacity="0.8"/></g><g filter="url(#b3)"><path d="M78,22C84,12 98,12 102,20V58C92,62 80,58 74,50C70,42 74,30 78,22Z" fill="#30b860" opacity="1"/><ellipse cx="63" cy="76" rx="11" ry="11.5" fill="#28b45c"/><path d="M-2,78C8,74 18,76 22,82C20,90 16,96 14,102H-2Z" fill="#34b458" opacity="1"/><ellipse cx="80" cy="64" rx="8" ry="10" fill="#1f8a48" transform="rotate(30 80 64)" opacity="0.8"/><ellipse cx="90" cy="90" rx="8" ry="8" fill="#1a6a38" opacity="0.7"/></g><g filter="url(#b2)"><ellipse cx="88" cy="20" rx="8" ry="6" fill="#58c868" opacity="0.9"/><ellipse cx="5" cy="92" rx="5" ry="8" fill="#50c060" opacity="0.9"/></g></svg>
<rect x="1123.35" y="964.50" width="63.30" height="2.60" fill="#fff"/>
<svg x="1065.75" y="1014.8" width="123.6" height="124.4" viewBox="0 0 100 100" preserveAspectRatio="none"><rect width="100" height="100" fill="#0f4526"/><g filter="url(#b3)"><ellipse cx="25" cy="28" rx="9" ry="8" fill="#1f8a4c" opacity="0.75"/><ellipse cx="10" cy="15" rx="5" ry="4" fill="#1f8a4c" opacity="0.75"/><ellipse cx="55" cy="45" rx="6" ry="9" fill="#1f8a4c" opacity="0.75"/><ellipse cx="75" cy="25" rx="8" ry="10" fill="#1f8a4c" opacity="0.75"/><ellipse cx="20" cy="75" rx="10" ry="8" fill="#1f8a4c" opacity="0.75"/><ellipse cx="65" cy="90" rx="8" ry="8" fill="#1f8a4c" opacity="0.75"/><ellipse cx="88" cy="70" rx="7" ry="10" fill="#1f8a4c" opacity="0.75"/><ellipse cx="30" cy="95" rx="8" ry="5" fill="#1f8a4c" opacity="0.75"/><ellipse cx="60" cy="12" rx="8" ry="6" fill="#1f8a4c" opacity="0.75"/><ellipse cx="92" cy="12" rx="6" ry="8" fill="#1f8a4c" opacity="0.75"/><ellipse cx="8" cy="45" rx="5" ry="8" fill="#1f8a4c" opacity="0.75"/><ellipse cx="40" cy="12" rx="6" ry="6" fill="#0a2a14" opacity="0.7"/><ellipse cx="15" cy="52" rx="6" ry="5" fill="#0a2a14" opacity="0.7"/><ellipse cx="72" cy="58" rx="5" ry="5" fill="#0a2a14" opacity="0.7"/><ellipse cx="52" cy="78" rx="5" ry="8" fill="#0a2a14" opacity="0.7"/><ellipse cx="88" cy="92" rx="6" ry="5" fill="#0a2a14" opacity="0.7"/></g><g filter="url(#b2)"><path d="M38,0C40,10 42,18 45,26S46,42 44,52S40,66 42,76S46,92 45,102" stroke="#a81c20" stroke-width="5" stroke-linecap="round" stroke-linejoin="round" fill="none" opacity="0.85"/><path d="M45,24C52,22 58,24 64,28" stroke="#a02420" stroke-width="4" stroke-linecap="round" stroke-linejoin="round" fill="none" opacity="0.8"/><path d="M70,0C74,6 78,10 76,16" stroke="#8a3a20" stroke-width="4" stroke-linecap="round" stroke-linejoin="round" fill="none" opacity="0.7"/><path d="M56,66L64,64" stroke="#a03420" stroke-width="4.5" stroke-linecap="round" stroke-linejoin="round" fill="none" opacity="0.8"/><path d="M72,70C76,78 78,84 80,90" stroke="#a83420" stroke-width="5" stroke-linecap="round" stroke-linejoin="round" fill="none" opacity="0.8"/><path d="M97,28C99,34 99,40 98,46" stroke="#a81c20" stroke-width="4" stroke-linecap="round" stroke-linejoin="round" fill="none" opacity="0.8"/><path d="M82,48L88,46" stroke="#903020" stroke-width="4" stroke-linecap="round" stroke-linejoin="round" fill="none" opacity="0.7"/></g><g filter="url(#b2)"><ellipse cx="7" cy="7" rx="4" ry="5" fill="#d01c34"/><ellipse cx="64" cy="29" rx="4" ry="4.5" fill="#d01c34"/><ellipse cx="8" cy="63" rx="6" ry="3" fill="#d01c34"/><ellipse cx="44" cy="55" rx="3" ry="5" fill="#e02a40"/><ellipse cx="45" cy="26" rx="3.5" ry="4" fill="#c01c30" opacity="0.9"/></g></svg>
<rect x="1123.35" y="1131.10" width="63.30" height="2.60" fill="#fff"/>
<svg x="1065.75" y="1144.3" width="123.6" height="124.4" viewBox="0 0 100 100" preserveAspectRatio="none"><rect width="100" height="100" fill="#1b6e3a"/><g filter="url(#b5)"><ellipse cx="70" cy="5" rx="18" ry="8" fill="#2ab45c" opacity="0.8"/><ellipse cx="92" cy="30" rx="8" ry="12" fill="#2ab45c" opacity="0.8"/><ellipse cx="15" cy="20" rx="8" ry="8" fill="#2ab45c" opacity="0.8"/><ellipse cx="12" cy="88" rx="10" ry="10" fill="#2ab45c" opacity="0.8"/><ellipse cx="85" cy="80" rx="14" ry="14" fill="#2ab45c" opacity="0.8"/><ellipse cx="60" cy="95" rx="14" ry="6" fill="#2ab45c" opacity="0.8"/><ellipse cx="88" cy="8" rx="6" ry="6" fill="#0c3a1c" opacity="0.75"/><ellipse cx="30" cy="5" rx="10" ry="5" fill="#0c3a1c" opacity="0.75"/><ellipse cx="30" cy="70" rx="6" ry="10" fill="#0c3a1c" transform="rotate(-30 30 70)" opacity="0.75"/><ellipse cx="12" cy="36" rx="9" ry="10" fill="#0c3a1c" opacity="0.75"/><ellipse cx="55" cy="94" rx="26" ry="6" fill="#0c3a1c" opacity="0.75"/><ellipse cx="94" cy="56" rx="5" ry="10" fill="#0c3a1c" opacity="0.75"/></g><g filter="url(#b3)"><path d="M28,25C38,12 58,12 68,22C78,32 80,45 76,58C72,72 60,84 46,84C34,80 28,66 26,52C24,42 24,32 28,25Z" fill="#c02a28" opacity="0.95"/><ellipse cx="6" cy="58" rx="8" ry="10" fill="#a81c20" opacity="0.9"/><ellipse cx="2" cy="30" rx="4" ry="5" fill="#8a1418" opacity="0.8"/><ellipse cx="2" cy="98" rx="4" ry="4" fill="#a81c20" opacity="0.9"/></g><g filter="url(#b3)"><ellipse cx="46" cy="62" rx="13" ry="12" fill="#e0202e"/><ellipse cx="38" cy="32" rx="8" ry="7" fill="#e03a2c"/><ellipse cx="60" cy="47" rx="6" ry="6" fill="#f0503a"/><ellipse cx="62" cy="30" rx="6" ry="8" fill="#d02a2c" opacity="0.9"/><ellipse cx="44" cy="45" rx="7" ry="4" fill="#8a4a20" transform="rotate(-30 44 45)" opacity="0.75"/><ellipse cx="72" cy="43" rx="5" ry="5" fill="#7a3018" opacity="0.8"/><ellipse cx="52" cy="28" rx="9" ry="3" fill="#8a5a24" transform="rotate(10 52 28)" opacity="0.6"/><ellipse cx="36" cy="58" rx="4" ry="8" fill="#9a5a24" transform="rotate(10 36 58)" opacity="0.5"/><ellipse cx="64" cy="66" rx="4" ry="7" fill="#8a5020" transform="rotate(30 64 66)" opacity="0.5"/><ellipse cx="27" cy="88" rx="4.5" ry="6" fill="#c89030" opacity="0.9"/><ellipse cx="79" cy="75" rx="3" ry="4" fill="#c86a28" opacity="0.9"/><ellipse cx="34" cy="22" rx="3.5" ry="3" fill="#d8902c" opacity="0.8"/><ellipse cx="86" cy="28" rx="3" ry="4" fill="#8a9030" opacity="0.8"/><ellipse cx="12" cy="72" rx="4" ry="4" fill="#a08a30" opacity="0.7"/></g></svg>
<rect x="1123.35" y="1260.60" width="63.30" height="2.60" fill="#fff"/>
<svg x="1065.75" y="1273.7" width="123.6" height="124.4" viewBox="0 0 100 100" preserveAspectRatio="none"><rect width="100" height="100" fill="#0f3c1e"/><g filter="url(#b3)"><path d="M-2,-2H60C50,10 52,25 48,35C40,45 25,48 10,45C4,40 0,30 -2,20Z" fill="#062410" opacity="0.85"/><ellipse cx="45" cy="65" rx="9" ry="4.5" fill="#28b060" transform="rotate(-20 45 65)" opacity="0.9"/><ellipse cx="70" cy="52" rx="10" ry="4" fill="#28b060" transform="rotate(-10 70 52)" opacity="0.9"/><ellipse cx="28" cy="90" rx="5" ry="6" fill="#28b060" opacity="0.9"/><ellipse cx="92" cy="20" rx="6" ry="14" fill="#28b060" opacity="0.9"/><ellipse cx="90" cy="55" rx="6" ry="6" fill="#28b060" opacity="0.9"/><ellipse cx="30" cy="55" rx="10" ry="5" fill="#17552c" opacity="0.8"/><ellipse cx="55" cy="92" rx="8" ry="6" fill="#17552c" opacity="0.8"/></g><g filter="url(#b3)"><path d="M58,10C66,0 82,2 88,14C92,24 90,36 84,44C76,48 64,46 58,40C54,32 54,18 58,10Z" fill="#7a2014" opacity="0.95"/><ellipse cx="60" cy="42" rx="6" ry="5" fill="#7a3a18" opacity="0.8"/></g><g filter="url(#b3)"><ellipse cx="78" cy="30" rx="7" ry="6" fill="#9a1c18" opacity="0.9"/><ellipse cx="70" cy="10" rx="8" ry="5" fill="#6a1410" opacity="0.8"/></g><g filter="url(#b3)"><path d="M58,70C66,60 80,60 90,64C98,70 98,84 92,92C84,96 70,94 62,88C56,82 54,76 58,70Z" fill="#c8242c" opacity="1"/><ellipse cx="22" cy="68" rx="10" ry="8" fill="#8a2a1c" opacity="0.9"/><ellipse cx="8" cy="96" rx="12" ry="8" fill="#a81c20" opacity="0.95"/><ellipse cx="12" cy="58" rx="6" ry="4" fill="#7a4020" opacity="0.7"/></g><g filter="url(#b3)"><ellipse cx="80" cy="80" rx="9" ry="6" fill="#f04a38" transform="rotate(20 80 80)" opacity="0.95"/><ellipse cx="66" cy="74" rx="6" ry="5" fill="#e0203a" opacity="0.9"/><ellipse cx="24" cy="68" rx="5" ry="5" fill="#b01c20" opacity="0.9"/></g></svg>
<rect x="1123.35" y="1390.00" width="63.30" height="2.60" fill="#fff"/>
</g>
<g id="panel-h">
<text transform="translate(658.9,1447) scale(1.12,1)" font-size="26" font-weight="bold" fill="#111" stroke="#111" stroke-width="0.8" stroke-linejoin="round">h</text>
<rect x="758.90" y="1515.50" width="31.90" height="118.75" fill="#e9213a"/>
<rect x="758.90" y="1515.97" width="31.90" height="118.27" fill="#f9b92c"/>
<rect x="758.90" y="1517.99" width="31.90" height="116.26" fill="#e9e437"/>
<rect x="758.90" y="1543.76" width="31.90" height="90.49" fill="#3f6fb5"/>
<rect x="758.90" y="1515.50" width="31.9" height="118.75" fill="none" stroke="#7a7a7a" stroke-width="0.7"/>
<line x1="774.85" y1="1543.76" x2="774.85" y2="1529.99" stroke="#4a4a4a" stroke-width="0.8"/>
<line x1="772.25" y1="1529.99" x2="777.45" y2="1529.99" stroke="#4a4a4a" stroke-width="0.8"/>
<line x1="774.85" y1="1517.88" x2="774.85" y2="1512.53" stroke="#4a4a4a" stroke-width="0.8"/>
<line x1="772.25" y1="1512.53" x2="777.45" y2="1512.53" stroke="#4a4a4a" stroke-width="0.8"/>
<line x1="774.85" y1="1515.50" x2="774.85" y2="1507.54" stroke="#4a4a4a" stroke-width="0.8"/>
<line x1="772.25" y1="1507.54" x2="777.45" y2="1507.54" stroke="#4a4a4a" stroke-width="0.8"/>
<rect x="807.00" y="1515.50" width="31.90" height="118.75" fill="#e9213a"/>
<rect x="807.00" y="1588.06" width="31.90" height="46.19" fill="#f9b92c"/>
<rect x="807.00" y="1616.79" width="31.90" height="17.46" fill="#e9e437"/>
<rect x="807.00" y="1630.69" width="31.90" height="3.56" fill="#3f6fb5"/>
<rect x="807.00" y="1515.50" width="31.9" height="118.75" fill="none" stroke="#7a7a7a" stroke-width="0.7"/>
<line x1="822.95" y1="1630.69" x2="822.95" y2="1629.97" stroke="#4a4a4a" stroke-width="0.8"/>
<line x1="820.35" y1="1629.97" x2="825.55" y2="1629.97" stroke="#4a4a4a" stroke-width="0.8"/>
<line x1="822.95" y1="1616.79" x2="822.95" y2="1614.30" stroke="#4a4a4a" stroke-width="0.8"/>
<line x1="820.35" y1="1614.30" x2="825.55" y2="1614.30" stroke="#4a4a4a" stroke-width="0.8"/>
<line x1="822.95" y1="1588.06" x2="822.95" y2="1585.56" stroke="#4a4a4a" stroke-width="0.8"/>
<line x1="820.35" y1="1585.56" x2="825.55" y2="1585.56" stroke="#4a4a4a" stroke-width="0.8"/>
<line x1="822.95" y1="1515.50" x2="822.95" y2="1504.46" stroke="#4a4a4a" stroke-width="0.8"/>
<line x1="820.35" y1="1504.46" x2="825.55" y2="1504.46" stroke="#4a4a4a" stroke-width="0.8"/>
<rect x="855.10" y="1515.50" width="31.90" height="118.75" fill="#e9213a"/>
<rect x="855.10" y="1593.04" width="31.90" height="41.21" fill="#f9b92c"/>
<rect x="855.10" y="1617.98" width="31.90" height="16.27" fill="#e9e437"/>
<rect x="855.10" y="1632.47" width="31.90" height="1.78" fill="#3f6fb5"/>
<rect x="855.10" y="1515.50" width="31.9" height="118.75" fill="none" stroke="#7a7a7a" stroke-width="0.7"/>
<line x1="871.05" y1="1632.47" x2="871.05" y2="1631.64" stroke="#4a4a4a" stroke-width="0.8"/>
<line x1="868.45" y1="1631.64" x2="873.65" y2="1631.64" stroke="#4a4a4a" stroke-width="0.8"/>
<line x1="871.05" y1="1617.98" x2="871.05" y2="1602.54" stroke="#4a4a4a" stroke-width="0.8"/>
<line x1="868.45" y1="1602.54" x2="873.65" y2="1602.54" stroke="#4a4a4a" stroke-width="0.8"/>
<line x1="871.05" y1="1593.04" x2="871.05" y2="1581.53" stroke="#4a4a4a" stroke-width="0.8"/>
<line x1="868.45" y1="1581.53" x2="873.65" y2="1581.53" stroke="#4a4a4a" stroke-width="0.8"/>
<line x1="871.05" y1="1515.50" x2="871.05" y2="1491.99" stroke="#4a4a4a" stroke-width="0.8"/>
<line x1="868.45" y1="1491.99" x2="873.65" y2="1491.99" stroke="#4a4a4a" stroke-width="0.8"/>
<rect x="903.20" y="1515.50" width="31.90" height="118.75" fill="#e9213a"/>
<rect x="903.20" y="1595.78" width="31.90" height="38.48" fill="#f9b92c"/>
<rect x="903.20" y="1629.74" width="31.90" height="4.51" fill="#e9e437"/>
<rect x="903.20" y="1515.50" width="31.9" height="118.75" fill="none" stroke="#7a7a7a" stroke-width="0.7"/>
<line x1="919.15" y1="1629.74" x2="919.15" y2="1629.03" stroke="#4a4a4a" stroke-width="0.8"/>
<line x1="916.55" y1="1629.03" x2="921.75" y2="1629.03" stroke="#4a4a4a" stroke-width="0.8"/>
<line x1="919.15" y1="1595.78" x2="919.15" y2="1581.53" stroke="#4a4a4a" stroke-width="0.8"/>
<line x1="916.55" y1="1581.53" x2="921.75" y2="1581.53" stroke="#4a4a4a" stroke-width="0.8"/>
<line x1="919.15" y1="1515.50" x2="919.15" y2="1503.98" stroke="#4a4a4a" stroke-width="0.8"/>
<line x1="916.55" y1="1503.98" x2="921.75" y2="1503.98" stroke="#4a4a4a" stroke-width="0.8"/>
<rect x="951.30" y="1515.50" width="31.90" height="118.75" fill="#e9213a"/>
<rect x="951.30" y="1586.04" width="31.90" height="48.21" fill="#f9b92c"/>
<rect x="951.30" y="1614.78" width="31.90" height="19.47" fill="#e9e437"/>
<rect x="951.30" y="1630.09" width="31.90" height="4.16" fill="#3f6fb5"/>
<rect x="951.30" y="1515.50" width="31.9" height="118.75" fill="none" stroke="#7a7a7a" stroke-width="0.7"/>
<line x1="967.25" y1="1630.09" x2="967.25" y2="1629.26" stroke="#4a4a4a" stroke-width="0.8"/>
<line x1="964.65" y1="1629.26" x2="969.85" y2="1629.26" stroke="#4a4a4a" stroke-width="0.8"/>
<line x1="967.25" y1="1614.78" x2="967.25" y2="1607.53" stroke="#4a4a4a" stroke-width="0.8"/>
<line x1="964.65" y1="1607.53" x2="969.85" y2="1607.53" stroke="#4a4a4a" stroke-width="0.8"/>
<line x1="967.25" y1="1586.04" x2="967.25" y2="1585.33" stroke="#4a4a4a" stroke-width="0.8"/>
<line x1="964.65" y1="1585.33" x2="969.85" y2="1585.33" stroke="#4a4a4a" stroke-width="0.8"/>
<line x1="967.25" y1="1515.50" x2="967.25" y2="1508.14" stroke="#4a4a4a" stroke-width="0.8"/>
<line x1="964.65" y1="1508.14" x2="969.85" y2="1508.14" stroke="#4a4a4a" stroke-width="0.8"/>
<rect x="999.40" y="1515.50" width="31.90" height="118.75" fill="#e9213a"/>
<rect x="999.40" y="1604.44" width="31.90" height="29.81" fill="#f9b92c"/>
<rect x="999.40" y="1624.75" width="31.90" height="9.50" fill="#e9e437"/>
<rect x="999.40" y="1631.88" width="31.90" height="2.38" fill="#3f6fb5"/>
<rect x="999.40" y="1515.50" width="31.9" height="118.75" fill="none" stroke="#7a7a7a" stroke-width="0.7"/>
<line x1="1015.35" y1="1631.88" x2="1015.35" y2="1629.62" stroke="#4a4a4a" stroke-width="0.8"/>
<line x1="1012.75" y1="1629.62" x2="1017.95" y2="1629.62" stroke="#4a4a4a" stroke-width="0.8"/>
<line x1="1015.35" y1="1624.75" x2="1015.35" y2="1613.47" stroke="#4a4a4a" stroke-width="0.8"/>
<line x1="1012.75" y1="1613.47" x2="1017.95" y2="1613.47" stroke="#4a4a4a" stroke-width="0.8"/>
<line x1="1015.35" y1="1604.44" x2="1015.35" y2="1597.67" stroke="#4a4a4a" stroke-width="0.8"/>
<line x1="1012.75" y1="1597.67" x2="1017.95" y2="1597.67" stroke="#4a4a4a" stroke-width="0.8"/>
<line x1="1015.35" y1="1515.50" x2="1015.35" y2="1508.97" stroke="#4a4a4a" stroke-width="0.8"/>
<line x1="1012.75" y1="1508.97" x2="1017.95" y2="1508.97" stroke="#4a4a4a" stroke-width="0.8"/>
<line x1="751.00" y1="1515.10" x2="751.00" y2="1639.40" stroke="#8a8a8a" stroke-width="1"/>
<line x1="745.50" y1="1634.25" x2="1039.60" y2="1634.25" stroke="#8a8a8a" stroke-width="1"/>
<text transform="translate(737.60,1638.35) scale(1.05,1)" font-size="11.5" text-anchor="end" style="fill:#444">0</text>
<line x1="745.50" y1="1610.50" x2="751.00" y2="1610.50" stroke="#8a8a8a" stroke-width="1"/>
<text transform="translate(737.60,1614.60) scale(1.05,1)" font-size="11.5" text-anchor="end" style="fill:#444">20</text>
<line x1="745.50" y1="1586.75" x2="751.00" y2="1586.75" stroke="#8a8a8a" stroke-width="1"/>
<text transform="translate(737.60,1590.85) scale(1.05,1)" font-size="11.5" text-anchor="end" style="fill:#444">40</text>
<line x1="745.50" y1="1563.00" x2="751.00" y2="1563.00" stroke="#8a8a8a" stroke-width="1"/>
<text transform="translate(737.60,1567.10) scale(1.05,1)" font-size="11.5" text-anchor="end" style="fill:#444">60</text>
<line x1="745.50" y1="1539.25" x2="751.00" y2="1539.25" stroke="#8a8a8a" stroke-width="1"/>
<text transform="translate(737.60,1543.35) scale(1.05,1)" font-size="11.5" text-anchor="end" style="fill:#444">80</text>
<line x1="745.50" y1="1515.50" x2="751.00" y2="1515.50" stroke="#8a8a8a" stroke-width="1"/>
<text transform="translate(737.60,1519.60) scale(1.05,1)" font-size="11.5" text-anchor="end" style="fill:#444">100</text>
<line x1="799.10" y1="1634.25" x2="799.10" y2="1639.40" stroke="#8a8a8a" stroke-width="1"/>
<line x1="847.20" y1="1634.25" x2="847.20" y2="1639.40" stroke="#8a8a8a" stroke-width="1"/>
<line x1="895.30" y1="1634.25" x2="895.30" y2="1639.40" stroke="#8a8a8a" stroke-width="1"/>
<line x1="943.40" y1="1634.25" x2="943.40" y2="1639.40" stroke="#8a8a8a" stroke-width="1"/>
<line x1="991.50" y1="1634.25" x2="991.50" y2="1639.40" stroke="#8a8a8a" stroke-width="1"/>
<line x1="1039.60" y1="1634.25" x2="1039.60" y2="1639.40" stroke="#8a8a8a" stroke-width="1"/>
<text transform="translate(681.6,1570.2) rotate(-90)" font-size="14.4" text-anchor="middle" textLength="181" lengthAdjust="spacingAndGlyphs" fill="#333">Mitochondrial morphology</text>
<text transform="translate(700.3,1570.5) rotate(-90)" font-size="14.4" text-anchor="middle" textLength="73.5" lengthAdjust="spacingAndGlyphs" fill="#333">(% of cells)</text>
<text transform="translate(783.1,1659.5) rotate(-45) scale(1.14,1)" font-size="14.4" text-anchor="end" fill="#333">Control</text>
<text transform="translate(833.2,1659) rotate(-45) scale(0.9,1)" font-size="14.2" text-anchor="end" fill="#333"><tspan font-style="italic">PEX26</tspan><tspan font-size="9.6" dy="-9.2" dx="0.8">KO</tspan></text>
<text transform="translate(881.3,1659) rotate(-45) scale(0.9,1)" font-size="14.2" text-anchor="end" fill="#333"><tspan font-style="italic">GOLGA5</tspan><tspan font-size="9.6" dy="-9.2" dx="0.8">KO</tspan></text>
<text transform="translate(929.4,1659) rotate(-45) scale(0.9,1)" font-size="14.2" text-anchor="end" fill="#333"><tspan font-style="italic">GOLGA8M</tspan><tspan font-size="9.6" dy="-9.2" dx="0.8">KO</tspan></text>
<text transform="translate(977.5,1659) rotate(-45) scale(0.9,1)" font-size="14.2" text-anchor="end" fill="#333"><tspan font-style="italic">SEC61A2</tspan><tspan font-size="9.6" dy="-9.2" dx="0.8">KO</tspan></text>
<text transform="translate(1025.5,1659) rotate(-45) scale(0.9,1)" font-size="14.2" text-anchor="end" fill="#333"><tspan font-style="italic">SEC62</tspan><tspan font-size="9.6" dy="-9.2" dx="0.8">KO</tspan></text>
<line x1="775.30" y1="1442.50" x2="775.30" y2="1497.00" stroke="#333" stroke-width="0.9"/>
<path d="M775.3,1489.5H822.95V1497" fill="none" stroke="#333" stroke-width="0.9"/>
<text x="800.4" y="1497.3" font-size="24" text-anchor="middle" fill="#222" letter-spacing="-0.8">*</text>
<path d="M775.3,1477.75H871.05V1490.75" fill="none" stroke="#8a8a8a" stroke-width="0.9"/>
<text x="824.15" y="1485.5" font-size="24" text-anchor="middle" fill="#222" letter-spacing="-0.8">*</text>
<path d="M775.3,1466H919.15V1490.75" fill="none" stroke="#8a8a8a" stroke-width="0.9"/>
<text x="847.9" y="1473.8" font-size="24" text-anchor="middle" fill="#222" letter-spacing="-0.8">**</text>
<path d="M775.3,1454H967.25V1491.5" fill="none" stroke="#8a8a8a" stroke-width="0.9"/>
<text x="874.65" y="1461.8" font-size="24" text-anchor="middle" fill="#222" letter-spacing="-0.8">***</text>
<path d="M775.3,1442.5H1015.35V1491.5" fill="none" stroke="#8a8a8a" stroke-width="0.9"/>
<text x="896.65" y="1450.3" font-size="24" text-anchor="middle" fill="#222" letter-spacing="-0.8">**</text>
<rect x="1044.3" y="1516.6" width="15.6" height="15.5" fill="#3f6fb5" stroke="#7a7a7a" stroke-width="0.6"/>
<text x="1068.50" y="1527.60" font-size="11.2" textLength="55.7" lengthAdjust="spacingAndGlyphs" style="fill:#333">Elongated</text>
<rect x="1044.3" y="1536.1" width="15.6" height="15.5" fill="#e9e437" stroke="#7a7a7a" stroke-width="0.6"/>
<text x="1068.50" y="1547.07" font-size="11.2" textLength="101.7" lengthAdjust="spacingAndGlyphs" style="fill:#333">Mildly fragmented</text>
<rect x="1044.3" y="1555.5" width="15.6" height="15.5" fill="#f9b92c" stroke="#7a7a7a" stroke-width="0.6"/>
<text x="1068.50" y="1566.54" font-size="11.2" textLength="130.7" lengthAdjust="spacingAndGlyphs" style="fill:#333">Moderately fragmented</text>
<rect x="1044.3" y="1575.0" width="15.6" height="15.5" fill="#e9213a" stroke="#7a7a7a" stroke-width="0.6"/>
<text x="1068.50" y="1586.01" font-size="11.2" textLength="103.5" lengthAdjust="spacingAndGlyphs" style="fill:#333">Highly fragmented</text>
</g>
</svg>
</body></html>
